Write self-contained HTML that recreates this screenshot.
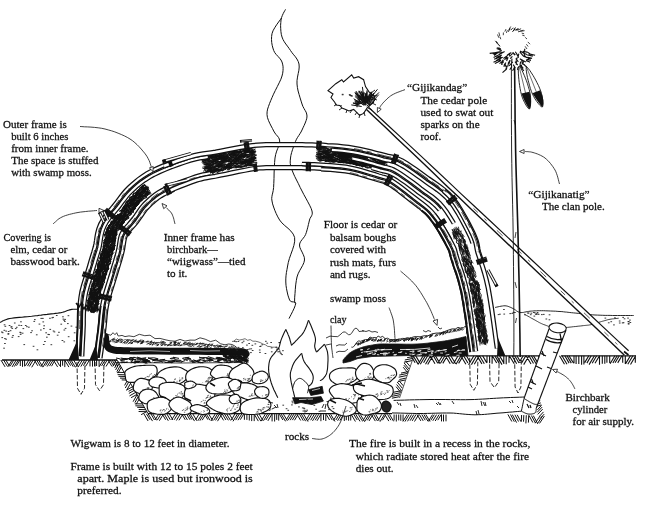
<!DOCTYPE html>
<html><head><meta charset="utf-8"><title>Wigwam</title>
<style>
html,body{margin:0;padding:0;background:#fff;}
body{width:662px;height:505px;overflow:hidden;}
svg{display:block;filter:grayscale(1);}
text{font-family:"Liberation Serif",serif;font-size:11px;fill:#111;stroke:#111;stroke-width:0.28px;}
</style></head><body>
<svg width="662" height="505" viewBox="0 0 662 505">
<rect width="662" height="505" fill="#fff"/>
<path d="M0 322.4L0.7 322.1L1.5 321.7L2.5 321.1L3.7 320.6L5 320L6.4 319.4L8 318.9L9.8 318.5L11.8 318.2L14.1 317.9L16.6 317.6L19.3 317.4L22 317.2L24.6 316.9L27.2 316.7L29.5 316.5L31.6 316.3L33.7 316L35.6 315.8L37.5 315.6L39.3 315.3L41.2 315.1L43.1 314.8L45 314.6L47 314.4L49.1 314.1L51.2 313.9L53.4 313.7L55.4 313.4L57.4 313.2L59.3 312.9L61 312.6L62.5 312.3L63.9 311.9L65.2 311.4L66.3 311L67.4 310.6L68.5 310.2L69.6 309.9L70.7 309.6L71.9 309.4L73.1 309.3L74.3 309.2L75.5 309.2L76.6 309.2L77.5 309.2L78.4 309.2L79 309.2" fill="none" stroke="#111" stroke-width="1.1" />
<path d="M25.3 325.5h0.9M5.7 339.2h0.9M4.5 338.6h0.9M33.8 321.4h0.9M33.1 346.3h0.9M3.6 348.2h0.9M11.3 326.8h0.9M63.7 320.3h0.9M49.8 329.4h0.9M4.9 326.3h0.9M53.1 331h0.9M45.7 332.8h0.9M62 340.5h0.9M11.9 337.3h0.9M46.4 337.2h0.9M51.8 317.8h0.9M22.2 333.2h0.9M1.8 337.6h0.9M9.1 325.5h0.9M10.1 330.7h0.9M68 315.7h0.9M67.4 323.6h0.9M11.8 328.4h0.9M18.2 336.6h0.9M20.5 321.8h0.9M52.7 317.4h0.9M30.6 332.6h0.9M49.5 318.3h0.9M16.3 327.3h0.9M4.1 324.8h0.9M7.9 334.2h0.9M68.2 336.7h0.9M19.7 332.3h0.9M36.3 334.8h0.9M8 333.6h0.9M64.7 319.4h0.9M74.2 332.8h0.9M42.4 318.4h0.9M20.4 332.8h0.9M63.8 341.9h0.9M40.4 330h0.9M2.2 332.7h0.9M28.4 327.2h0.9M15.3 328.6h0.9M50.9 344.7h0.9M58.5 332.3h0.9M75.8 327.2h0.9M73.9 340.8h0.9M62.9 319.1h0.9M76.5 337.9h0.9M42.8 321.9h0.9M64.4 321.4h0.9M22.9 328.6h0.9M20.2 334.4h0.9M71 326.1h0.9M40.8 318.4h0.9M14.3 323h0.9M43.4 328.6h0.9M43.3 344.5h0.9M43.7 325.8h0.9M47.8 334.4h0.9M54 331.9h0.9M10.7 327h0.9M5.7 331.1h0.9M12.6 335.6h0.9M26.5 326.7h0.9M56.3 315.5h0.9M34.4 319.6h0.9M48.7 334.6h0.9M8.2 331.5h0.9M60.8 324.2h0.9M44.5 341.5h0.9M4.5 343.5h0.9M62.5 316.8h0.9M20.9 325.5h0.9M18.6 325.3h0.9M3.9 330.3h0.9M23.8 344.6h0.9M39 324.1h0.9M1.4 332h0.9M57.2 335.2h0.9M37 349.8h0.9M63.9 330h0.9M65.1 328.4h0.9M31.6 330.8h0.9" fill="none" stroke="#222" stroke-width="0.9" stroke-linecap="round"/>
<path d="M495 307.5L495.8 307.3L496.8 307.1L498.1 306.8L499.5 306.5L501 306.2L502.4 306L503.8 305.8L505 305.8L506.1 305.9L507.2 306.1L508.2 306.4L509.2 306.8L510.2 307.2L511.1 307.6L512.1 308.1L513 308.5L513.9 309L514.8 309.5L515.6 310.1L516.4 310.8L517.2 311.3L518.1 311.8L519 312.2L520 312.5L521.1 312.6L522.3 312.5L523.5 312.4L524.7 312.1L526 311.9L527.3 311.6L528.7 311.4L530 311.2L531.3 311.1L532.6 311L533.9 310.9L535.2 310.8L536.6 310.8L538.1 310.7L539.7 310.7L541.5 310.7L543.5 310.7L545.7 310.8L548.1 310.9L550.6 311L553.1 311.1L555.6 311.2L557.9 311.4L560 311.5L561.9 311.6L563.6 311.8L565.1 312L566.6 312.1L568.1 312.3L569.8 312.5L571.6 312.7L573.6 312.9L575.9 313.1L578.4 313.4L581.1 313.7L583.9 314L586.7 314.3L589.6 314.6L592.3 314.8L595 315L597.6 315.1L600.1 315.2L602.7 315.3L605.2 315.4L607.7 315.4L610.1 315.4L612.6 315.5L615 315.5L617.5 315.5L620.2 315.5L622.9 315.5L625.6 315.5L628.1 315.5L630.4 315.5L632.3 315.5L633.7 315.5" fill="none" stroke="#111" stroke-width="0.9" />
<path d="M524 314L524.7 314.4L525.6 314.9L526.7 315.5L528 316.2L529.3 316.9L530.6 317.7L531.8 318.4L533 319L534.1 319.6L535.2 320.2L536.2 320.8L537.3 321.4L538.3 322L539.4 322.6L540.4 323.1L541.5 323.6L542.6 324.1L543.8 324.6L545.1 325L546.3 325.5L547.4 325.9L548.5 326.3L549.3 326.6L550 326.8" fill="none" stroke="#111" stroke-width="0.8" />
<path d="M566 327.5L567.3 327.4L569 327.2L571.1 327L573.4 326.7L575.8 326.5L578.1 326.2L580.2 326L582 325.8L583.4 325.6L584.7 325.5L585.7 325.4L586.7 325.3L587.7 325.2L588.6 325.1L589.7 324.9L590.8 324.7L592.1 324.4L593.4 324L594.8 323.6L596.2 323.2L597.6 322.7L598.9 322.3L600.3 321.9L601.5 321.5L602.7 321.2L603.8 320.9L604.8 320.6L605.9 320.3L606.9 320L607.9 319.7L608.9 319.5L610 319.3L611.1 319.1L612.4 318.9L613.6 318.8L614.9 318.6L616.1 318.5L617.1 318.4L618 318.3L618.7 318.2" fill="none" stroke="#111" stroke-width="0.8" />
<path d="M527.4 313h0.9M543.3 314.4h0.9M528.2 313.1h0.9M545.9 319h0.9M541.4 314.6h0.9M530.3 314.7h0.9M535.9 313.7h0.9M535.6 314.5h0.9M549 319.8h0.9M538.2 314.3h0.9M549.1 314.8h0.9M533.3 312.5h0.9M533.9 316.1h0.9M537.1 314h0.9M537.1 312.5h0.9M530.9 313.2h0.9M534.4 312.8h0.9M524.6 314.8h0.9" fill="none" stroke="#222" stroke-width="0.9" stroke-linecap="round"/>
<path d="M610.8 321.7h0.9M619.3 323h0.9M623.1 322.7h0.9M629.5 320.1h0.9M613.5 324.9h0.9M608.3 322.8h0.9M622.7 317.4h0.9M628.2 324.1h0.9M622.2 322.9h0.9M627.6 318.1h0.9M619.2 321h0.9M628.2 323.4h0.9M628 321.7h0.9M629.9 322.5h0.9M624.1 318.8h0.9M604.9 318.1h0.9M614.5 317.8h0.9M628.2 321.5h0.9" fill="none" stroke="#222" stroke-width="0.9" stroke-linecap="round"/>
<path d="M511.8 313.4h0.9M513 312.4h0.9M498.1 314.6h0.9M514.5 312.5h0.9M509.8 313.6h0.9M499.5 314.2h0.9M503.5 309.5h0.9M503.8 314.1h0.9" fill="none" stroke="#222" stroke-width="0.9" stroke-linecap="round"/>
<path d="M2 360L117 360" fill="none" stroke="#111" stroke-width="1.3" />
<path d="M0.9 360L5.1 366.9M3.6 360L7.5 366.5M5.8 360L9.7 366.4M12.1 360L8.1 366.7M13.8 360L10.3 365.9M16.2 360L12.1 366.9M18.3 360L14.3 366.6M19.9 360L16.5 365.7M20.3 360L20.3 366M22.5 360L22.5 366.8M24.6 360L24.6 366.4M28.8 360L25.4 365.8M31.1 360L27.5 366.1M33.2 360L29.3 366.5M36.1 360L31.7 367.3M34.3 360L37.8 365.8M36.6 360L40.3 366.1M38.6 360L42.6 366.7M45 360L40.9 366.8M47.2 360L42.9 367.2M48.9 360L45.6 365.6M51.1 360L47.2 366.5M53.2 360L49.5 366.1M55.2 360L51.5 366.2M53.4 360L57.6 366.9M56.3 360L59.7 365.8M60.5 360L60.5 366.9M62.6 360L62.6 365.7M64.8 360L64.8 367.1M64.6 360L68.9 367.1M67.1 360L70.6 365.7M69.2 360L73.2 366.7M71 360L75.4 367.3M73.6 360L77.3 366.2M80 360L75.8 367M82.4 360L78 367.2M84.7 360L80.8 366.6M86.9 360L83.4 365.7M89.5 360L85.6 366.4M90 360L90 366.4M92.5 360L92.5 366.6M94.5 360L94.5 366.3M96.6 360L96.6 366M99.1 360L99.1 366.7M103.2 360L99.3 366.6M105.2 360L101.6 365.9M107.2 360L103.6 366M109.9 360L106 366.5M108.1 360L111.9 366.4M110.2 360L113.8 365.9M112.1 360L115.9 366.2M114.2 360L117.8 366" fill="none" stroke="#111" stroke-width="1"/>
<path d="M117 360L148 413.6" fill="none" stroke="#111" stroke-width="1" />
<path d="M116.9 359.1L112.8 366.4M118.3 361.5L114.6 367.9M119.3 363.3L115.6 369.9M120.4 365.3L116.9 371.6M121.4 367L117.9 373.2M124.5 372.5L116.9 372.3M125.8 374.8L117.6 374.6M126.8 376.5L118.5 376.3M127.8 378.3L120 378.1M128.8 380.1L121.7 379.9M128.2 379L124.6 385.4M129.3 380.9L125.3 388M130.6 383.3L126.9 389.8M132.6 386.7L126.2 390.3M133.6 388.5L128.6 391.3M134.6 390.2L128.9 393.4M135.8 392.3L129.5 395.9M136.9 394.4L131.1 397.7M137.1 394.7L133.1 401.7M138.2 396.6L134.9 402.6M139.4 398.7L136.1 404.4M142.4 403.9L134.8 403.8M143.5 406L135.4 405.8M144.4 407.5L137.2 407.3M145.6 409.7L138.7 409.5M146.8 411.7L138.6 411.5M146.7 411.6L141.1 414.7" fill="none" stroke="#111" stroke-width="1"/>
<path d="M148 413.6L392 413.6" fill="none" stroke="#111" stroke-width="1.2" />
<path d="M143.9 413.8L148.1 421M146.4 413.8L150 419.8M148.1 413.8L152.5 421.1M150.9 413.8L154.5 420M152.7 413.8L156.6 420.3M158.8 413.8L155.2 419.8M161.1 413.8L157.3 420.1M163.5 413.8L159.4 420.7M162.1 413.8L165.6 419.8M164.2 413.8L168.3 420.8M166.8 413.9L170.3 419.8M169.3 413.9L172.9 420M175.4 413.9L171.7 419.9M177.8 413.9L174.3 419.7M180.4 413.9L176.4 420.5M182.9 413.9L179 420.3M181.7 413.9L185.2 419.8M183.9 413.9L187.4 419.9M186.5 413.9L190 419.8M188.4 413.9L191.9 419.6M190.2 413.9L194.5 421.1M192.8 413.9L196.9 420.8M199.2 413.9L195.6 419.9M202 413.9L197.9 420.8M203.9 414L199.9 420.7M206 414L202.2 420.2M204.5 414L207.9 419.7M206.3 414L210.1 420.3M208.7 414L212.7 420.6M215.2 414L211 421M217.5 414L213.7 420.3M219.5 414L215.6 420.4M221.9 414L217.5 421.2M219.8 414L223.6 420.4M222.3 414L225.9 420M224.5 414L228.3 420.3M226.7 414L230.5 420.4M229.3 414L232.7 419.7M234.9 414L231.2 420.2M237.4 414L233 421.3M239.3 414L235.7 420.1M241.7 414.1L238 420.2M243.7 414.1L240.3 419.7M244.4 414.1L244.4 419.8M246.9 414.1L246.9 419.9M249.3 414.1L249.3 420.5M251.7 414.1L251.7 421.1M254.2 414.1L254.2 421.1M254.2 414.1L258.3 421.1M256.6 414.1L260.8 421.1M259.1 414.1L263.1 420.8M265.3 414.1L261.1 421.1M267.5 414.1L263.6 420.6M269.5 414.1L265.9 420M271.9 414.1L267.9 420.9M272.1 414.1L272.1 421.4M274.7 414.1L274.6 421.5M276.7 414.1L276.7 419.9M278.7 414.2L278.7 420.6M279.4 414.2L282.9 420M281.2 414.2L285.5 421.3M283.4 414.2L287.4 420.7M289.7 414.2L286 420.3M291.8 414.2L288.1 420.2M293.8 414.2L290.2 420.2M296 414.2L292.4 420.1M298.1 414.2L294.5 420.3M296.9 414.2L300.7 420.5M299.5 414.2L303.3 420.7M301.4 414.2L305.6 421.2M303.6 414.2L308 421.6M309.6 414.2L306 420.2M311.9 414.2L308.1 420.5M314.3 414.2L310.7 420.2M316.5 414.3L312.5 420.9M318.7 414.3L315.2 420.2M320.9 414.3L317 420.8M321 414.3L320.9 421.2M323.5 414.3L323.5 420.1M325.8 414.3L325.8 421M326.2 414.3L329.6 420M328.8 414.3L332.2 420M330.7 414.3L335 421.5M337.2 414.3L333.4 420.5M339.4 414.3L335.9 420M341.5 414.3L337.6 420.8M343.7 414.3L339.9 420.6M344.3 414.3L344.3 421M346.3 414.3L346.3 420.2M348.6 414.3L348.6 420.7M350.8 414.3L350.7 420.5M351.2 414.3L355.4 421.5M353.8 414.4L357.2 420M355.8 414.4L360 421.4M358.4 414.4L362.1 420.7M360.3 414.4L364.6 421.6M366.8 414.4L362.5 421.4M369 414.4L364.7 421.5M370.8 414.4L367.3 420.3M373 414.4L369 421M371.3 414.4L375.3 421.1M373.6 414.4L377.4 420.9M375.7 414.4L379.3 420.5M381.7 414.4L377.8 420.9M384.4 414.4L380 421.7M386 414.4L382.5 420.2M384.8 414.4L388.8 421.1M387.5 414.4L390.9 420.2M389.5 414.4L393.6 421.3M394.1 414.5L394.1 420.4M396.3 414.5L396.3 421.5M398.7 414.5L398.7 420.4M400.8 414.5L400.8 420.8M403.1 414.5L403 420.8M407.2 414.5L402.9 421.5M409.2 414.5L404.9 421.6M411.6 414.5L407.5 421.3M413.8 414.5L410.1 420.7M416 414.5L412.2 420.9M418.7 414.5L414.5 421.5M417.1 414.5L420.8 420.9M419.4 414.5L423.2 420.9M421.8 414.5L425.2 420.2M423.9 414.5L427.8 421M425.8 414.5L430 421.5M432.5 414.6L428.2 421.6M434.3 414.6L430.8 420.3M436.6 414.6L432.8 420.8M439.1 414.6L435.2 421M441.2 414.6L437.8 420.2M441.5 414.6L441.5 421.4M443.5 414.6L443.5 421.5M446 414.6L446 421.3" fill="none" stroke="#111" stroke-width="1"/>
<path d="M412 355.8L539 355.8" fill="none" stroke="#111" stroke-width="1.2" />
<path d="M561 355.8L636 355.8" fill="none" stroke="#111" stroke-width="1.2" />
<path d="M410.9 355.8L415.1 362.7M413.1 355.8L418.1 364.1M415.7 355.8L419.9 362.9M423.2 355.8L418 364.5M425.4 355.8L420.3 364.3M427.7 355.8L423.6 362.7M430.6 355.8L425.5 364.2M432.9 355.8L427.7 364.5M430.3 355.8L435 363.7M433.3 355.8L437.6 363M435.4 355.8L440.1 363.7M442.4 355.8L437.8 363.5M444.9 355.8L440.5 363.2M447.4 355.8L442.8 363.4M445.4 355.8L450.2 363.7M448.1 355.8L452.7 363.4M450.8 355.8L455.6 363.8M458.1 355.8L453.4 363.7M461 355.8L456 364.2M463.2 355.8L458.6 363.4M460.8 355.8L465.9 364.2M463.6 355.8L467.9 363M466.4 355.8L470.5 362.7M473.9 355.8L468.5 364.7M476.6 355.8L471.4 364.6M479.3 355.8L474.3 364.2M477 355.8L481.9 363.9M479.5 355.8L484.3 363.7M482.6 355.8L486.8 362.9M487 355.8L487 362.7M489.6 355.8L489.6 363.2M492.1 355.8L492.1 363.7M492.3 355.8L496.7 363M494.8 355.8L499.4 363.6M496.7 355.8L502 364.6M499.5 355.8L503.8 362.9M503.8 355.8L503.8 364M506.2 355.8L506.2 364.3M509 355.8L509 362.7M509.3 355.8L514.2 363.8M512 355.8L516.7 363.7M514.7 355.8L519 363M516.9 355.8L521 362.7M523.2 355.8L519 362.7M525.8 355.8L521.8 362.6M529 355.8L523.7 364.6M526.1 355.8L531 364M528.9 355.8L533.5 363.5M531.4 355.8L536.1 363.7M533.5 355.8L538.4 363.9M538.8 355.8L538.8 364.1" fill="none" stroke="#111" stroke-width="1.1"/>
<path d="M559.5 355.8L564.5 364.2M562 355.8L567 364.2M564.8 355.8L569.1 363.1M567 355.8L571.3 363.1M569 355.8L573.6 363.3M574 355.8L574 363.2M576.1 355.8L576.1 364M578.8 355.8L578.8 364.1M581.6 355.8L581.6 364.7M583.9 355.8L583.9 364.6M588.8 355.8L584.7 362.6M591.2 355.8L586.9 363.1M594.4 355.8L589.1 364.6M596.7 355.8L592.2 363.3M599.5 355.8L595 363.3M599.5 355.8L599.5 364.7M602.3 355.8L602.3 363.7M604.8 355.8L604.8 363.7M606.9 355.8L606.9 362.7M609.7 355.8L609.7 363.1M614.9 355.8L610.1 363.8M617.2 355.8L612.9 363M619.3 355.8L615.1 362.8M621.9 355.8L617.7 362.9M622.7 355.8L622.7 362.7M625.3 355.8L625.3 363.9M630.4 355.8L625.5 363.9M632.9 355.8L627.8 364.3M635.7 355.8L630.5 364.5M635.3 355.8L635.3 362.8" fill="none" stroke="#111" stroke-width="1.1"/>
<path d="M413.6 356.4L407.1 357.7M412.9 358.4L404.8 360M412.1 360.6L404 362.2M410 366.4L405.7 361.2M409.1 369L404.1 362.9M408.5 370.8L403.9 365.2M407.8 372.8L403.2 367.2M408.2 371.6L401 373.1M407.6 373.4L399.2 375.1M406.8 375.5L398.7 377.2M405.9 378.1L399.4 379.5M405.2 380L397.9 381.5M403.2 385.7L399 380.6M402.3 388.2L397.2 382M401.5 390.5L396.6 384.5M400.8 392.4L396.1 386.7M401.5 390.7L393.1 392.3M400.7 392.7L393.3 394.2M400 394.7L392 396.3M399.3 396.7L391.9 398.2" fill="none" stroke="#111" stroke-width="1"/>
<path d="M413.5 357L399.5 398" fill="none" stroke="#111" stroke-width="0.7" />
<path d="M393.6 400.4L396.4 400.3L400.1 400.2L404.4 400.1L409.3 399.9L414.5 399.8L419.8 399.7L425 399.6L430 399.5L434.9 399.5L440 399.5L445.2 399.5L450.4 399.6L455.6 399.6L460.6 399.7L465.5 399.7L470 399.6L474.3 399.5L478.3 399.3L482.2 399.1L486 398.9L489.6 398.6L493.2 398.4L496.6 398.2L500 398L503.5 397.8L507 397.7L510.5 397.5L513.9 397.4L517 397.3L519.8 397.2L522.2 397.1L524 397" fill="none" stroke="#111" stroke-width="1" />
<path d="M392 412.9L394.1 413L397 413L400.4 413.1L404.1 413.2L408.1 413.3L412.2 413.4L416.2 413.5L420 413.5L423.7 413.5L427.5 413.4L431.3 413.3L435.2 413.2L439 413.1L442.8 413L446.5 413L450 413L453.4 413.1L456.6 413.4L459.7 413.7L462.8 414L465.8 414.3L468.9 414.5L471.9 414.7L475 414.8L478.1 414.7L481.3 414.6L484.5 414.4L487.7 414.1L490.9 413.8L494 413.5L497 413.2L500 413L503 412.8L506.1 412.5L509.2 412.2L512.3 412L515.1 411.7L517.6 411.5L519.8 411.3L521.4 411.2" fill="none" stroke="#111" stroke-width="1" />
<path d="M507.9 414.4L511.8 421.5M510.5 414.5L514.3 421.7M512.3 414.6L516.6 422.6M514.9 414.7L518.5 421.5M517.2 414.8L520.9 421.6M521.6 415L521.3 421.6M523.8 415.1L523.5 421.7M526.3 415.2L525.9 423.4M528.7 415.4L528.4 422.6M529 415.4L532.8 422.5M531.4 415.5L535.5 423.1M533.3 415.6L537.8 423.9M540.1 415.9L535.2 423.2M542.5 416L537.6 423.4M544.4 416.1L539.5 423.4" fill="none" stroke="#111" stroke-width="1"/>
<path d="M536.5 388.4L532.2 393.1M537.2 390.7L533 395.2M537.8 392.6L533.2 397.7M538.4 394.8L534.4 399.3M539 396.7L534.4 401.7M540.2 400.7L535.1 402.2M540.8 402.9L535 404.7M541.4 404.9L536.6 406.3M541.5 405.3L537.4 409.9M542.1 407.1L537.1 412.4M542.7 409.1L537.7 414.4M543.5 411.9L539.5 416.2M544.2 414.1L540.1 418.5" fill="none" stroke="#111" stroke-width="1"/>
<path d="M397 402l2 3M400 403l1 3M414 404l1 4M416 405l2 3M436 403l2 2M438 402l2 3M440 403l1 2M452 401l2 3M481 401l1 5M483 402l2 4M485 402l1 4M476 411l1 4M478 410l1 4M509 401l2 2M512 400l1 3M517 406l2 2" stroke="#111" stroke-width="0.9" fill="none"/>
<path d="M157.2 370.9L157.1 372L156.9 373.1L156.5 374.2L155.8 375.3L155 376.3L153.9 377.3L152.5 378.3L150.9 379.2L149.2 380L147.5 380.7L145.7 381.2L143.8 381.6L141.8 381.8L139.8 382L137.8 382.1L135.7 382.3L133.4 382.4L131.1 382.4L129.1 382.2L127.6 381.8L126.6 381.1L126 380.1L125.6 378.9L125.5 377.7L125.3 376.5L125.1 375.4L124.9 374.2L124.8 373L125 371.8L125.7 370.8L126.9 369.8L128.6 368.8L130.6 367.8L132.7 367L134.6 366.4L136.5 366L138.5 365.7L140.5 365.6L142.5 365.5L144.5 365.4L146.6 365.3L148.9 365.2L151.1 365.2L153.1 365.3L154.7 365.7L155.7 366.4L156.4 367.4L156.9 368.5L157.1 369.7Z" fill="#fff" stroke="#111" stroke-width="1.15"/>
<path d="M147.8 377l1.8 -0.5M150.4 374.3l1.5 -0.8M152.7 376.7l1.4 -0.2M147.4 379.6l1.4 -0.1M143 379.7l1.3 -0.5M149.1 375.3l1.1 -0.5M146.6 380l0.9 -0.4M144.6 377.9l1.6 -0.3M154 374.6l1.2 -0.1M143.3 380.5l1 -0.8M144.1 380.4l0.7 -0.5M152.2 376.3l1.7 -0.6M151.7 377.6l1.1 -0.6M146.6 376.7l1.6 -0.4" fill="none" stroke="#333" stroke-width="0.7"/>
<path d="M189.8 374.1L189.6 375.1L189.1 376.1L188.3 377.2L187.4 378.2L186.3 379.2L185.2 380.2L184 381.2L182.6 382.2L181.1 383L179.5 383.6L177.7 383.8L175.7 383.8L173.7 383.6L171.6 383.3L169.7 383.1L167.9 382.8L166.1 382.5L164.5 382.2L162.9 381.8L161.5 381.2L160.2 380.5L159 379.7L158 378.7L157.2 377.7L156.8 376.7L156.9 375.7L157.4 374.6L158.1 373.4L159.1 372.3L160.2 371.4L161.4 370.5L162.9 369.7L164.6 368.9L166.3 368.3L168.1 367.8L170 367.4L172 367.1L174.1 366.9L176 366.9L177.9 367L179.5 367.3L181 367.8L182.5 368.5L183.8 369.2L185.1 369.9L186.3 370.6L187.5 371.4L188.6 372.3L189.4 373.2Z" fill="#fff" stroke="#111" stroke-width="1.15"/>
<path d="M179.4 377.9l0.7 0.2M179 380.4l1.3 -0.7M181.5 378l1.7 0.3M173.3 382l1.2 -0.6M174.2 379.4l1.6 -0.6M179 380.6l1.6 -0.6M178.9 380.9l1.6 -0.3M173.3 381.4l1.4 0.1M181.5 379.8l0.9 -0M178.9 381.4l1.4 -0.3M176.6 381.3l1 -0.1M181.8 378.3l1.3 -0.7M174.6 379.6l1 -0.4" fill="none" stroke="#333" stroke-width="0.7"/>
<path d="M213.9 373.3L213.9 374.4L213.7 375.7L213.2 377L212.6 378.3L211.8 379.6L211.1 380.9L210.2 382.3L209.2 383.6L208.1 384.7L206.7 385.6L205.1 386.2L203.3 386.6L201.3 386.7L199.4 386.8L197.6 386.7L196 386.5L194.4 386.1L192.9 385.5L191.5 384.9L190.3 384.2L189.1 383.4L188.1 382.4L187.1 381.4L186.4 380.3L185.9 379.1L185.7 377.9L185.7 376.5L185.9 375.1L186.4 373.8L187.1 372.5L188.1 371.5L189.4 370.5L190.9 369.5L192.5 368.7L194 368.1L195.5 367.6L197.1 367.2L198.8 366.9L200.4 366.7L202 366.7L203.5 366.8L205.1 367L206.7 367.3L208.1 367.7L209.4 368.3L210.6 369.1L211.7 370L212.7 371L213.4 372.1Z" fill="#fff" stroke="#111" stroke-width="1.15"/>
<path d="M204.9 382l1.6 -0.6M207.3 381.5l0.9 -0.4M205.8 381.6l1.4 0.3M210.6 378.1l1.3 -0.1M207.6 379.6l0.9 -0.7M202 383.2l0.7 -0.7M207.8 381.3l1.2 -0.2M207.4 382.1l1.4 -0.5M208.8 378.5l1.5 -0.6M208.2 380.2l1.2 -0.5M205.9 380.7l1.8 -0.1M207.6 378.4l1.4 -0.8M209.9 377.4l1.8 0.1M208.5 377.7l1.5 -0.6" fill="none" stroke="#333" stroke-width="0.7"/>
<path d="M233.3 370.8L233.2 371.7L232.9 372.6L232.5 373.5L231.9 374.3L231.2 375.1L230.4 375.8L229.6 376.5L228.6 377.1L227.5 377.7L226.4 378.2L225.1 378.7L223.8 379.2L222.4 379.6L221 379.9L219.8 380L218.5 379.8L217.4 379.5L216.2 379L215.1 378.4L214.2 377.8L213.2 377.1L212.3 376.5L211.5 375.7L210.8 374.9L210.5 374.1L210.5 373.2L210.8 372.3L211.3 371.3L211.9 370.3L212.6 369.4L213.3 368.5L214.2 367.6L215.2 366.8L216.3 366L217.5 365.5L218.8 365.2L220.3 365.1L221.8 365.1L223.3 365.2L224.6 365.4L225.9 365.5L227.2 365.8L228.4 366.1L229.5 366.5L230.4 367L231.3 367.6L232 368.4L232.6 369.2L233.1 370Z" fill="#fff" stroke="#111" stroke-width="1.15"/>
<path d="M227.1 374l0.9 -0.4M226.6 375.5l1.8 0.2M227.2 374.6l1.2 -0.7M229.7 374.4l0.8 0.3M231.2 373.8l1.1 -0.2M228 375.6l1.1 -0.7M230.7 373.3l1.2 0M229.4 373.3l1.3 -0.4M229.8 374l1.4 0.2" fill="none" stroke="#333" stroke-width="0.7"/>
<path d="M253.5 371.3L253.8 372.4L254.1 373.6L254.2 374.9L254.1 376.1L253.8 377.2L253.1 378.3L252 379.4L250.8 380.5L249.5 381.4L248.2 382.1L246.8 382.5L245.2 382.8L243.6 382.9L242.1 382.9L240.5 382.8L239 382.8L237.4 382.7L235.9 382.5L234.4 382.1L233.2 381.6L232 380.9L231 379.9L230.1 378.8L229.4 377.7L229 376.5L229 375.3L229.3 374L229.8 372.7L230.5 371.4L231.3 370.3L232.2 369.4L233.3 368.5L234.5 367.7L235.7 366.9L237.1 366.2L238.4 365.4L239.9 364.5L241.5 363.8L243 363.2L244.4 363.1L245.7 363.4L247 364L248.2 364.9L249.3 365.9L250.2 366.8L251.1 367.6L251.9 368.5L252.5 369.4L253.1 370.3Z" fill="#fff" stroke="#111" stroke-width="1.15"/>
<path d="M243.3 378.5l1 -0M243.5 378.7l0.6 -0.8M247.2 378.9l1.7 -0.3M248.3 379.3l1.5 -0.3M245.5 379l0.7 -0.1M247.9 380.3l1.4 -0.6M244.9 379.7l0.7 -0.3M243.4 380.2l1.1 -0.8M246.9 380.7l1.6 -0.6M249.9 375.4l0.9 -0.2M248.8 378.6l1.7 -0.4M245.4 380.1l0.8 0" fill="none" stroke="#333" stroke-width="0.7"/>
<path d="M268.3 376.5L268.3 377.2L268.1 378L267.8 378.7L267.4 379.5L267 380.1L266.4 380.8L265.7 381.4L264.9 382L264 382.5L263.1 382.9L262.1 383.2L261 383.5L259.8 383.6L258.7 383.7L257.6 383.7L256.5 383.5L255.4 383.3L254.4 382.9L253.5 382.4L252.8 381.9L252.4 381.3L252.2 380.5L252.1 379.7L252.1 378.9L252.2 378.2L252.2 377.5L252.4 376.8L252.6 376.1L252.9 375.5L253.3 374.9L253.9 374.4L254.5 373.9L255.3 373.4L256.1 373L256.9 372.6L257.8 372.2L258.9 371.8L259.9 371.4L261 371.2L262 371.1L263 371.3L264 371.6L264.9 372L265.8 372.6L266.5 373.1L267.1 373.7L267.6 374.4L267.9 375.1L268.2 375.8Z" fill="#fff" stroke="#111" stroke-width="1.15"/>
<path d="M262.4 380.4l1 -0.1M260 381.9l1.3 -0.5M260.1 381.6l1.2 -0.6M259.9 380.3l1.7 -0.6M261.2 381l1.5 -0.3M265.2 379.5l1 -0.5" fill="none" stroke="#333" stroke-width="0.7"/>
<path d="M152.5 386.7L152.3 387.7L152.1 388.6L151.7 389.6L151.2 390.4L150.5 391.2L149.7 391.8L148.6 392.3L147.5 392.7L146.3 393.1L145.1 393.4L143.8 393.5L142.5 393.7L141.2 393.7L139.9 393.6L138.7 393.3L137.6 392.9L136.4 392.3L135.4 391.6L134.5 390.9L133.8 390.1L133.5 389.2L133.3 388.3L133.3 387.4L133.4 386.4L133.6 385.6L133.8 384.7L134 383.9L134.3 383.2L134.7 382.4L135.3 381.7L136 380.9L136.7 380.2L137.6 379.5L138.6 378.9L139.6 378.5L140.8 378.4L142 378.4L143.4 378.6L144.7 378.9L145.9 379.2L147.1 379.6L148.4 380.1L149.5 380.6L150.6 381.2L151.4 381.9L151.9 382.8L152.3 383.7L152.5 384.7L152.5 385.7Z" fill="#fff" stroke="#111" stroke-width="1.15"/>
<path d="M147.6 388.1l1.1 0M147.9 388.1l1.4 -0.4M146.8 387.9l1.7 0M144 390l0.8 0.2M142.3 389.8l1.8 0.1M146.8 390.4l1.2 -0.2M146.2 389.7l1.1 0.1M145.4 391.6l1 -0.7" fill="none" stroke="#333" stroke-width="0.7"/>
<path d="M166.2 381.9L166.2 382.7L166.1 383.5L165.9 384.3L165.5 385.1L165 385.8L164.3 386.3L163.4 386.9L162.4 387.3L161.4 387.7L160.4 387.9L159.4 388L158.3 388L157.3 387.9L156.3 387.7L155.3 387.5L154.4 387.4L153.4 387.1L152.5 386.9L151.6 386.5L150.9 386.1L150.3 385.6L149.8 385L149.3 384.3L149 383.5L148.9 382.8L148.9 382.1L149.1 381.4L149.4 380.6L149.8 379.9L150.3 379.3L151 378.7L151.8 378.2L152.7 377.8L153.6 377.4L154.6 377.1L155.5 377L156.5 376.9L157.5 377L158.5 377L159.5 377.2L160.5 377.4L161.4 377.6L162.3 377.9L163.2 378.2L163.9 378.7L164.6 379.2L165.1 379.8L165.6 380.5L166 381.2Z" fill="#fff" stroke="#111" stroke-width="1.15"/>
<path d="M160.4 384.9l1.6 -0.4M160.3 384.8l0.9 -0.7M158.6 385.6l1.3 -0.4M159.3 386.7l0.9 0.2M161.7 385.8l1 -0.3M162.1 383.1l0.6 -0.5" fill="none" stroke="#333" stroke-width="0.7"/>
<path d="M185.3 391.8L185.1 392.9L184.8 393.9L184.3 394.9L183.6 395.9L182.8 396.9L181.9 397.8L180.7 398.8L179.4 399.7L178.1 400.5L176.6 401L174.9 401.1L173 401L171.1 400.8L169.2 400.4L167.5 399.9L165.9 399.4L164.3 398.7L162.8 397.9L161.5 397L160.5 396.1L159.8 395.1L159.4 394L159.2 392.8L159.2 391.6L159.2 390.4L159.1 389.2L159.1 387.8L159.2 386.6L159.6 385.4L160.4 384.4L161.6 383.7L163.2 383.2L165 382.8L166.9 382.5L168.7 382.3L170.4 382.3L172 382.3L173.7 382.5L175.3 382.8L176.8 383.1L178.4 383.5L180 384.1L181.6 384.7L182.9 385.4L184 386.2L184.7 387.2L185.1 388.3L185.3 389.5L185.4 390.7Z" fill="#fff" stroke="#111" stroke-width="1.15"/>
<path d="M177.6 396.4l0.8 0.1M181.8 395.5l1.1 -0.8M180.6 391.9l1.4 -0.3M174.6 398.3l1.6 -0.1M173.3 397.8l0.7 -0.4M178.6 393.1l1.7 -0.2M182.4 393.7l1 -0.5M175.2 395.6l1.7 0.2M181.5 392.3l0.6 0.2M180.4 393.9l1.5 0M177.1 394.5l1 -0.8M181.8 393.8l1.3 -0.3M176.6 396.3l1 -0.4" fill="none" stroke="#333" stroke-width="0.7"/>
<path d="M214.9 394L214.8 395.3L214.5 396.6L214.1 397.9L213.4 399.2L212.6 400.4L211.6 401.6L210.3 402.7L208.9 403.8L207.3 404.8L205.6 405.5L203.8 406L201.7 406.4L199.6 406.6L197.4 406.6L195.4 406.4L193.5 406L191.6 405.3L189.8 404.5L188.1 403.6L186.9 402.6L185.9 401.4L185.3 400.1L184.9 398.7L184.7 397.3L184.6 395.9L184.5 394.4L184.5 393L184.7 391.5L185.2 390.1L186 388.9L187.1 387.7L188.7 386.6L190.5 385.6L192.3 384.9L194.2 384.3L196 384.1L197.9 384.2L199.9 384.4L201.8 384.7L203.7 385.1L205.7 385.4L207.7 385.6L209.7 386L211.4 386.5L212.8 387.3L213.7 388.3L214.4 389.6L214.7 391.1L214.9 392.6Z" fill="#fff" stroke="#111" stroke-width="1.15"/>
<path d="M210.2 396.5l1 0M203.6 403.2l1.7 -0.4M207.3 395.6l1.8 -0.4M206.9 397.3l1 -0.4M202.8 400.2l1.1 0.2M205.6 398.7l1.1 -0.5M210 395.9l1 0.1M206.7 397.4l1.1 -0.3M209.3 397.2l1.4 0.1M200.7 402l1.6 -0.7M204 403.1l1.1 -0.5M207.4 397.5l1.1 -0.3M210.9 397.7l1.8 -0.6M204.6 400.7l1.2 -0.2M208.2 400.5l1.7 -0.5M205.8 398l1.1 -0.5" fill="none" stroke="#333" stroke-width="0.7"/>
<path d="M238.6 383.5L238.6 384.5L238.2 385.6L237.5 386.8L236.5 387.9L235.5 388.9L234.3 389.8L232.8 390.7L231.2 391.4L229.6 392.1L227.9 392.7L226.2 393.1L224.5 393.5L222.7 393.8L220.8 393.9L219.1 394L217.3 394L215.4 393.9L213.6 393.8L211.9 393.5L210.5 393L209.2 392.4L208.1 391.6L207.1 390.7L206.4 389.7L206 388.7L205.9 387.7L206.1 386.5L206.6 385.3L207.3 384.1L208.2 383.1L209.3 382.1L210.8 381.1L212.5 380.3L214.3 379.5L216.1 378.8L218 378.2L220 377.7L222.1 377.4L224.1 377.2L226 377.2L227.6 377.4L229.1 377.9L230.5 378.5L231.8 379.1L233.1 379.8L234.4 380.4L235.8 381.1L237.1 381.8L238.1 382.6Z" fill="#fff" stroke="#111" stroke-width="1.15"/>
<path d="M232.6 387.8l1.4 -0.6M228.3 388.1l1.4 -0.2M224.8 392.4l1.2 -0.4M231.5 388.9l1.7 -0.7M230.8 390l0.8 -0.1M231.4 388.6l1.8 -0.8M226.5 391.1l1.6 -0.4M223.2 392.7l0.7 -0.4M232.7 388.9l1.7 0.1M224 391.5l1.7 -0.5M233 387.6l1.1 -0.8M224.3 390.1l0.9 -0.7M226.4 389.8l1 -0.2" fill="none" stroke="#333" stroke-width="0.7"/>
<path d="M260.2 394.1L260.1 395.2L260.1 396.3L259.9 397.4L259.5 398.4L258.7 399.1L257.4 399.7L255.7 400L253.9 400.2L251.9 400.3L250.1 400.2L248.3 399.9L246.6 399.4L244.8 398.8L243.1 398.1L241.4 397.4L239.7 396.7L238 395.9L236.3 395.1L234.9 394.2L233.8 393.3L233.1 392.2L232.6 391.1L232.4 389.9L232.4 388.7L232.6 387.7L233.1 386.8L233.8 385.9L234.7 385L235.7 384.3L236.9 383.8L238.3 383.4L239.8 383.1L241.4 382.9L243.1 382.9L244.8 382.9L246.5 383L248.3 383.3L250.1 383.6L251.8 384L253.4 384.6L254.9 385.3L256.3 386.2L257.6 387.1L258.7 388.1L259.6 389.1L260.1 390.1L260.3 391.1L260.3 392.1L260.3 393.1Z" fill="#fff" stroke="#111" stroke-width="1.15"/>
<path d="M254.7 392.1l0.9 -0.3M253.3 396.1l0.7 -0.7M248.7 396.4l0.9 -0.6M251.4 395.7l1.1 0.2M257.3 391.8l1.4 -0.1M251 394.4l1.8 -0.7M254.4 394.1l1.6 -0M249.3 396.4l1.8 -0.4M254.7 394.6l1 -0.6M251 395.4l1.6 -0.1M254.5 391.6l0.8 -0.4M256.7 393.3l0.9 -0.3" fill="none" stroke="#333" stroke-width="0.7"/>
<path d="M196.1 384.6L196 385L195.8 385.5L195.4 385.9L195 386.4L194.5 386.7L194 387L193.5 387.3L192.9 387.5L192.3 387.7L191.6 387.9L191 388.1L190.3 388.3L189.6 388.5L188.9 388.7L188.2 388.7L187.5 388.6L186.8 388.4L186.1 388.1L185.5 387.8L185 387.4L184.8 387L184.7 386.6L184.7 386.1L184.8 385.6L184.8 385.2L184.8 384.7L184.7 384.2L184.6 383.8L184.7 383.3L184.9 382.9L185.3 382.6L185.9 382.3L186.5 382L187.2 381.8L187.9 381.6L188.6 381.4L189.4 381.2L190.2 381.1L190.9 381.1L191.6 381.2L192.2 381.3L192.9 381.6L193.4 381.9L194 382.2L194.5 382.5L194.9 382.9L195.4 383.3L195.7 383.7L196 384.2Z" fill="#fff" stroke="#111" stroke-width="1.15"/>
<path d="M192 387.2l0.6 -0.7M192.4 385.4l0.9 -0.8M193.1 385.4l0.8 -0.7" fill="none" stroke="#333" stroke-width="0.7"/>
<path d="M159.1 399.5L158.8 400.4L158.3 401.4L157.7 402.3L156.9 403L156 403.6L155 403.9L153.8 404L152.5 404L151.2 404L150 403.9L148.8 403.9L147.5 403.9L146.4 403.8L145.2 403.6L144.1 403.3L143 402.8L141.8 402.1L140.8 401.3L139.9 400.5L139.2 399.7L138.9 398.8L138.8 397.8L138.8 396.8L139 395.8L139.3 394.9L139.6 394L140 393.2L140.6 392.4L141.2 391.7L141.9 391.1L142.8 390.5L143.8 390L144.9 389.6L146 389.2L147.2 389.1L148.5 389.1L149.8 389.3L151.2 389.6L152.5 390L153.6 390.5L154.6 391.2L155.5 392L156.3 392.8L156.9 393.8L157.5 394.7L158.1 395.6L158.5 396.6L158.9 397.6L159.1 398.6Z" fill="#fff" stroke="#111" stroke-width="1.15"/>
<path d="M154.9 399.7l1.5 -0.5M153.6 400.7l0.9 -0.4M152.2 400.5l1.7 -0.5M153.7 401.1l0.6 -0.4M154.6 398.9l1.8 -0.4M149.1 400.9l1.7 -0.4M153.2 399.3l1.7 -0.6M153.2 397.7l1.3 -0.1" fill="none" stroke="#333" stroke-width="0.7"/>
<path d="M172.9 405.1L172.8 406.1L172.5 407.1L172 408.2L171.3 409.2L170.5 410.2L169.6 411.1L168.5 412L167.3 412.9L166 413.6L164.7 414.1L163.2 414.4L161.6 414.4L159.9 414.4L158.3 414.2L156.7 414L155.1 413.7L153.6 413.4L152 413.1L150.7 412.6L149.6 412L148.7 411.2L148.1 410.3L147.7 409.2L147.4 408.1L147.3 407.1L147.2 406L147.2 404.8L147.3 403.7L147.7 402.6L148.3 401.6L149.3 400.8L150.6 400.1L152.1 399.4L153.7 398.8L155.3 398.3L156.9 397.9L158.6 397.5L160.3 397.3L162 397.2L163.5 397.3L164.9 397.6L166.2 398.2L167.4 399L168.5 399.8L169.5 400.6L170.5 401.4L171.4 402.3L172.1 403.2L172.6 404.2Z" fill="#fff" stroke="#111" stroke-width="1.15"/>
<path d="M162.8 409.8l0.8 -0.1M168.2 409.2l0.7 0.1M160.8 412.8l0.9 -0.1M164.4 411.2l1.1 -0.7M166.1 409.6l0.7 -0.4M159.8 410.3l1.6 -0.5M163.1 409.6l1.6 -0M166.3 408.5l1 -0.2M164.7 410.9l0.6 0M159.8 411l1 -0.2M161.9 411l1.1 -0.5" fill="none" stroke="#333" stroke-width="0.7"/>
<path d="M191.8 407.8L191.8 408.9L191.6 410L191.3 411.1L190.8 412.1L190.1 412.9L189.1 413.5L187.8 414L186.3 414.3L184.8 414.5L183.3 414.6L182 414.5L180.6 414.2L179.2 413.9L177.9 413.4L176.7 412.9L175.5 412.3L174.4 411.7L173.4 410.9L172.5 410.1L171.7 409.3L170.9 408.4L170.1 407.3L169.5 406.2L169 405.2L168.9 404.1L169.1 403.1L169.6 402.1L170.4 401.1L171.3 400.2L172.2 399.4L173.3 398.7L174.6 398L176 397.5L177.4 397.2L178.7 397L180.1 397.2L181.4 397.7L182.8 398.3L184.1 399L185.3 399.6L186.5 400.2L187.6 400.8L188.7 401.5L189.6 402.2L190.4 402.9L191 403.8L191.4 404.8L191.7 405.8L191.8 406.8Z" fill="#fff" stroke="#111" stroke-width="1.15"/>
<path d="M181.9 410.7l1.2 -0.5M184.7 410.4l1.6 -0M186.3 409.6l0.6 -0.1M184.8 408.8l0.7 -0.5M186.5 409.5l1.4 0.2M186.7 407.5l1.1 -0.4M183.9 412.2l1.3 -0M183 409.9l1 -0.4M187.4 407.1l0.8 -0.1M186.7 408.6l1.7 -0.2" fill="none" stroke="#333" stroke-width="0.7"/>
<path d="M209.7 411.8L209.5 412.2L209 412.7L208.5 413.1L207.8 413.5L207.1 413.8L206.2 414L205.2 414.3L204.2 414.4L203.1 414.5L202 414.4L200.9 414.2L199.7 413.9L198.5 413.4L197.4 413L196.2 412.5L195.1 412.1L193.8 411.6L192.7 411.1L191.7 410.6L190.9 410.1L190.5 409.5L190.3 408.9L190.2 408.3L190.3 407.7L190.5 407.2L190.9 406.7L191.4 406.3L192 406L192.7 405.7L193.4 405.5L194.2 405.2L195 404.9L195.9 404.7L196.9 404.6L197.9 404.6L199 404.8L200.1 405.1L201.3 405.5L202.4 405.9L203.5 406.3L204.6 406.8L205.7 407.2L206.7 407.7L207.6 408.2L208.3 408.8L208.9 409.3L209.3 410L209.6 410.6L209.7 411.2Z" fill="#fff" stroke="#111" stroke-width="1.15"/>
<path d="M203.4 412.1l1.4 -0.8M206.9 409.7l1.3 0.2M203.6 410.8l0.6 -0.8M206.6 410.5l1.3 0.2M200.7 412.2l0.8 -0.6" fill="none" stroke="#333" stroke-width="0.7"/>
<path d="M240.5 405.2L240.3 406.4L240.1 407.6L239.7 408.8L239.1 409.8L238.2 410.8L236.9 411.6L235.3 412.4L233.4 413.1L231.5 413.6L229.6 413.8L227.6 413.9L225.6 413.7L223.5 413.4L221.5 412.9L219.7 412.4L218 411.9L216.4 411.3L214.9 410.6L213.4 409.8L212.1 408.9L210.6 408L209.1 406.9L207.8 405.7L206.8 404.6L206.4 403.5L206.6 402.3L207.5 401.2L208.7 400L210 399L211.5 398.1L212.9 397.2L214.6 396.5L216.3 395.9L218.2 395.4L220.1 395L222.1 394.9L224.1 394.9L226.3 395L228.4 395.3L230.4 395.6L232.4 396.1L234.6 396.7L236.6 397.4L238.3 398.2L239.6 399.1L240.4 400.2L240.7 401.4L240.7 402.7L240.6 404Z" fill="#fff" stroke="#111" stroke-width="1.15"/>
<path d="M230.5 410.4l1.3 -0.6M233.3 406.8l0.6 -0.1M227.2 412l0.7 -0.6M228.8 408.3l0.9 -0.4M227.4 408.7l0.7 -0.5M232.7 406.5l1.3 -0.6M237.7 405.2l1.1 -0.3M236.4 407.8l1.8 -0.7M230 410.5l1.3 -0.3M234 408.8l0.6 0.2M233.4 405.5l1.1 -0.8M226.3 410.1l1 -0.4M226.4 409.9l1.4 0.3M234.7 409.5l1.3 -0.4M231.7 408.4l1.1 -0.5M237.3 405.4l0.9 -0.7" fill="none" stroke="#333" stroke-width="0.7"/>
<path d="M270.7 403.7L270.9 404.7L270.8 405.9L270.5 407L269.9 408.1L269.1 409.1L268 410.1L266.5 411L264.7 411.8L262.9 412.6L261.1 413.2L259.2 413.7L257.3 414L255.3 414.3L253.3 414.5L251.4 414.5L249.4 414.5L247.4 414.4L245.5 414.1L243.7 413.7L242.4 413.2L241.5 412.5L240.9 411.5L240.5 410.5L240.3 409.4L240.2 408.4L240.2 407.3L240.4 406.3L240.7 405.3L241.2 404.3L242 403.3L243.1 402.4L244.5 401.6L246 400.8L247.7 400.1L249.3 399.5L251.1 399L252.9 398.5L254.8 398.1L256.7 397.9L258.6 397.8L260.4 397.8L262.3 398L264.1 398.3L265.8 398.7L267.2 399.2L268.3 399.9L269.2 400.7L269.9 401.7L270.4 402.7Z" fill="#fff" stroke="#111" stroke-width="1.15"/>
<path d="M260 409.9l1.2 -0.6M257 411.8l1.7 0.3M260.3 410.4l1.8 -0.2M262.7 409.5l0.8 0M258.4 409.7l1.6 0M257.4 409.8l1.5 -0.6M266.2 406.8l1.4 0.1M262.5 408l1.7 -0.7M256.2 412.2l1.5 -0.6M258 409.8l0.9 0.1M262.1 409.2l1.6 -0.3M260.4 411l1.6 0.2M263.7 407.8l1.6 -0" fill="none" stroke="#333" stroke-width="0.7"/>
<path d="M240.5 386L240.4 386.7L240.2 387.5L240.1 388.2L239.8 388.9L239.4 389.5L238.9 389.9L238.2 390.2L237.4 390.4L236.6 390.6L235.8 390.7L235 390.8L234.1 390.9L233.2 390.9L232.4 390.8L231.7 390.5L231.1 390.1L230.6 389.5L230.2 388.7L229.9 388L229.5 387.3L229.2 386.5L228.8 385.8L228.5 385L228.4 384.3L228.4 383.6L228.7 383L229.2 382.4L229.8 381.8L230.5 381.3L231.1 380.9L231.7 380.5L232.3 380.1L232.9 379.7L233.6 379.4L234.3 379.3L235 379.3L235.7 379.3L236.4 379.5L237.2 379.7L237.8 380L238.5 380.4L239.2 380.8L239.8 381.3L240.4 381.9L240.7 382.4L240.9 383.1L240.9 383.8L240.8 384.5L240.6 385.3Z" fill="#fff" stroke="#111" stroke-width="1.15"/>
<path d="M239 386.6l1.1 -0.1M238.3 387.8l0.8 0M237.5 388.1l1.7 -0.2M238.6 386.5l1.2 0.2M236.8 388.4l1.7 -0.7" fill="none" stroke="#333" stroke-width="0.7"/>
<path d="M268.9 392.9L268.8 393.7L268.6 394.4L268.3 395.2L267.9 395.9L267.4 396.5L266.7 397L266 397.5L265.2 397.8L264.3 398.1L263.4 398.3L262.6 398.3L261.7 398.2L260.8 398L259.9 397.7L259.1 397.4L258.4 397L257.7 396.5L257 396L256.4 395.4L255.9 394.8L255.5 394.1L255.1 393.4L254.8 392.6L254.6 391.8L254.6 391L254.8 390.3L255.2 389.5L255.7 388.8L256.2 388.2L256.8 387.7L257.5 387.3L258.3 387.1L259.1 386.9L260 386.8L260.8 386.7L261.6 386.7L262.4 386.6L263.2 386.6L263.9 386.7L264.7 386.9L265.5 387.2L266.3 387.6L267 388L267.7 388.6L268.2 389.1L268.6 389.8L268.8 390.5L268.9 391.3L269 392.2Z" fill="#fff" stroke="#111" stroke-width="1.15"/>
<path d="M266.3 394.7l1.1 0M261.9 396l0.9 -0.2M266.4 394.7l1.1 -0.4M265.1 395.1l1.6 -0.1M265.1 395.1l0.8 -0.1" fill="none" stroke="#333" stroke-width="0.7"/>
<path d="M240.9 400L240.7 400.6L240.4 401.1L240 401.6L239.5 402.1L239 402.5L238.5 402.8L237.9 403L237.2 403.2L236.6 403.3L235.9 403.4L235.2 403.5L234.4 403.6L233.7 403.7L232.9 403.6L232.3 403.5L231.7 403.2L231.1 402.7L230.5 402.2L230.1 401.6L229.7 401.1L229.5 400.5L229.3 399.9L229.2 399.2L229.3 398.6L229.4 398L229.6 397.5L229.9 397L230.3 396.5L230.8 396.1L231.3 395.7L231.8 395.4L232.3 395.1L232.9 394.9L233.5 394.7L234.1 394.6L234.8 394.5L235.5 394.4L236.3 394.4L237 394.5L237.6 394.7L238.1 395L238.6 395.5L239 396L239.4 396.6L239.7 397.2L240 397.7L240.4 398.3L240.7 398.9L240.8 399.5Z" fill="#fff" stroke="#111" stroke-width="1.15"/>
<path d="M239 400.8l0.8 -0.4M238.8 399.8l0.8 -0M237.4 401.2l1.4 -0.8M236.2 401.2l1.4 -0" fill="none" stroke="#333" stroke-width="0.7"/>
<path d="M358 373.7L358 374.9L357.8 376.1L357.4 377.3L356.8 378.4L356 379.5L354.9 380.4L353.6 381.3L352.2 382.1L350.6 382.8L349.1 383.5L347.5 384.1L345.8 384.7L344.1 385.2L342.4 385.6L340.8 385.7L339.3 385.5L337.9 385L336.5 384.4L335.3 383.7L334.1 383L333.1 382.3L332.1 381.6L331.2 380.8L330.5 379.9L330 378.9L329.6 377.9L329.5 376.7L329.5 375.4L329.8 374.2L330.4 373.1L331.3 372.1L332.7 371.1L334.3 370.1L335.9 369.3L337.6 368.7L339.2 368.3L340.9 368.1L342.7 368L344.4 368L346.2 368L348 367.9L349.9 367.9L351.8 367.9L353.5 368.1L354.9 368.5L355.9 369.3L356.8 370.2L357.4 371.4L357.8 372.6Z" fill="#fff" stroke="#111" stroke-width="1.15"/>
<path d="M345.4 381.6l0.8 -0M352.5 377.1l0.7 0.2M349.6 378.7l1 0.3M351.8 378.2l1.3 -0.5M347.6 379.8l1.2 0.3M350.5 381.1l1 0M352.1 379.3l1.7 -0.3M346 381.2l1 -0.7M351.8 379.4l1.5 -0M346.8 380.2l1.5 -0.8M349.1 379.3l1 0.3M350.5 381.7l1.4 -0.7" fill="none" stroke="#333" stroke-width="0.7"/>
<path d="M374.2 374L374.1 375.1L373.8 376.2L373.5 377.3L372.9 378.3L372.3 379.2L371.4 379.8L370.4 380.4L369.2 380.9L368 381.2L366.8 381.5L365.6 381.6L364.4 381.7L363.1 381.7L361.9 381.6L360.8 381.2L359.7 380.7L358.8 379.9L357.9 379.1L357.2 378.1L356.6 377.2L356.1 376.2L355.8 375.1L355.6 374.1L355.5 373L355.6 372L355.8 371L356.2 370.1L356.7 369.2L357.4 368.3L358 367.4L358.8 366.5L359.6 365.6L360.5 364.8L361.5 364L362.5 363.6L363.7 363.4L365.1 363.4L366.5 363.6L367.8 364L369 364.4L370 365.1L370.8 365.9L371.6 366.9L372.3 367.9L372.8 368.9L373.3 369.9L373.7 370.9L374 372L374.1 373Z" fill="#fff" stroke="#111" stroke-width="1.15"/>
<path d="M369.6 373.8l1.6 0.2M364.6 378.3l0.7 -0.6M370 377.3l1.8 -0.1M367.3 376.9l0.9 -0.6M367.7 377.6l1.8 0.1M368.4 376.5l1 -0.8M368.7 378.7l1.2 -0.6M369.4 373.9l1.5 0.2M369.2 373.8l1.7 -0.6" fill="none" stroke="#333" stroke-width="0.7"/>
<path d="M396.5 374.8L396.1 375.7L395.5 376.6L394.8 377.5L393.9 378.3L393 379.1L392.1 379.9L391.2 380.8L390.2 381.7L389.1 382.4L387.9 382.8L386.5 382.9L384.9 382.8L383.3 382.6L381.7 382.2L380.3 381.7L379 381.1L377.7 380.4L376.6 379.5L375.6 378.6L374.8 377.6L374.2 376.6L373.7 375.5L373.4 374.4L373.3 373.3L373.3 372.2L373.5 371.1L373.9 370L374.5 369L375.2 368L376 367.2L377 366.5L378.2 365.9L379.5 365.4L380.9 365L382.3 364.7L383.7 364.7L385.2 364.7L386.7 364.9L388.2 365.3L389.5 365.7L390.8 366.2L392.1 366.9L393.3 367.7L394.3 368.5L395.2 369.4L395.8 370.4L396.2 371.5L396.5 372.6L396.6 373.8Z" fill="#fff" stroke="#111" stroke-width="1.15"/>
<path d="M388.1 377.4l1.1 -0.1M393.6 375l1.5 -0.4M388.6 378.7l1.1 -0.4M387.8 377.5l1.6 -0.2M389.5 379.3l0.9 0M387.5 377.6l1.3 -0.2M385.4 378.7l0.9 -0.3M390.6 375.7l1.8 -0.6M387.2 378l1.6 -0.1M392.7 375.8l1.5 -0.6M390.4 377.6l1.4 0" fill="none" stroke="#333" stroke-width="0.7"/>
<path d="M361.5 397L361.3 398.1L360.8 399.2L360.1 400.2L359.2 401.2L358 401.9L356.6 402.5L354.8 402.8L352.8 403.1L350.7 403.2L348.7 403.2L346.6 403L344.3 402.8L342.1 402.4L340.1 401.9L338.2 401.2L336.7 400.4L335.4 399.3L334.3 398.2L333.3 397L332.3 395.8L331.4 394.7L330.6 393.6L329.9 392.4L329.4 391.3L329.3 390.3L329.6 389.3L330.2 388.3L331.1 387.4L332.2 386.5L333.4 385.8L334.8 385.2L336.3 384.6L338.1 384.2L339.9 383.8L341.8 383.7L343.9 383.8L346.1 384.1L348.4 384.5L350.6 385.1L352.6 385.8L354.3 386.6L355.9 387.7L357.4 388.8L358.6 390L359.7 391.1L360.5 392.3L361 393.5L361.4 394.7L361.6 395.9Z" fill="#fff" stroke="#111" stroke-width="1.15"/>
<path d="M345.6 399.3l1.2 -0M353.3 399.2l0.8 -0.3M354.7 394.8l1.3 -0.4M352.9 394.3l1.4 0.3M351.1 396.7l0.8 0.2M358.2 395.2l0.8 -0.7M348.8 398.4l1 0.1M348.4 399.7l0.6 -0.5M354.7 396.1l1.2 -0.4M353.5 398.5l1 -0.4M354.5 396.9l0.6 0.2M353.9 395.9l1.4 -0.8M345.2 399l1.5 -0.3M354.1 394.6l0.8 0.2" fill="none" stroke="#333" stroke-width="0.7"/>
<path d="M393 392.9L392.6 394.1L392 395.3L391.1 396.4L390 397.4L388.6 398.2L386.9 398.8L384.8 399.2L382.4 399.5L380 399.6L377.7 399.5L375.4 399.2L373.2 398.8L370.9 398.1L368.6 397.4L366.4 396.7L364 395.9L361.6 395.1L359.2 394.2L357.1 393.2L355.6 392.2L354.5 390.9L353.8 389.5L353.4 388.1L353.4 386.7L353.7 385.5L354.4 384.4L355.5 383.4L356.8 382.6L358.4 381.8L360 381.1L361.7 380.5L363.5 380L365.4 379.5L367.4 379.2L369.4 379.2L371.5 379.4L373.7 379.9L375.9 380.6L378.1 381.3L380.3 382.1L382.7 382.8L385.2 383.5L387.6 384.3L389.8 385.2L391.4 386.2L392.4 387.4L393 388.8L393.2 390.2L393.2 391.6Z" fill="#fff" stroke="#111" stroke-width="1.15"/>
<path d="M381.7 393.7l0.6 0.1M386.3 390.6l1.4 -0.1M376.7 396.8l1.4 -0.3M387.4 392.5l1.2 -0.4M380.4 393.5l0.8 -0.1M386.7 392.1l1.5 -0.4M384.1 394.7l1 -0.4M380.5 393l0.9 0.2M380.4 394.8l1.5 -0.6M380.7 392.1l1.8 -0.4M380.8 394.5l0.8 -0M375 396.7l0.7 -0.6M382.9 393.5l0.7 0.1M376.4 394.2l1.6 -0.6M388.6 390.8l1 -0.4M375.5 394.4l1.6 -0M384.7 393.1l1.4 0.2M377.1 395.1l1.7 0.1" fill="none" stroke="#333" stroke-width="0.7"/>
<path d="M356.2 410.8L355.9 411.6L355.3 412.4L354.6 413.1L353.7 413.7L352.6 414.3L351.5 414.8L350.1 415.4L348.6 415.8L347 416.1L345.4 416.2L343.5 415.9L341.5 415.5L339.4 414.9L337.4 414.1L335.7 413.4L334.1 412.5L332.7 411.6L331.4 410.6L330.3 409.6L329.3 408.6L328.6 407.6L328.1 406.5L327.8 405.5L327.6 404.5L327.7 403.6L327.9 402.7L328.3 401.7L328.8 400.9L329.7 400.1L330.7 399.5L332 399L333.6 398.6L335.5 398.4L337.4 398.3L339.2 398.4L341.1 398.7L343.2 399.2L345.2 399.8L347.1 400.5L348.8 401.3L350.3 402.2L351.6 403.1L352.7 404.1L353.7 405.1L354.6 406.1L355.2 407.1L355.8 408.1L356.1 409L356.3 410Z" fill="#fff" stroke="#111" stroke-width="1.15"/>
<path d="M345.5 411.2l1.3 -0.1M342.5 411l0.8 0.2M347.2 410.9l1 -0.3M342.5 412.7l1.5 0.2M344.2 411.6l0.8 0.2M349.1 411.7l1.4 -0.5M349.6 407.8l1.1 0.2M350.8 409.7l0.7 -0.5M350 408l0.7 -0.7M344.8 412.2l1.5 -0.8M351.6 409.9l0.6 -0.4M351.1 407.9l1.6 -0.8" fill="none" stroke="#333" stroke-width="0.7"/>
<path d="M381.4 405.3L381.4 406.5L381.2 407.8L380.8 409.1L380.2 410.2L379.4 411.2L378.3 411.9L376.9 412.5L375.4 413L373.8 413.4L372.2 413.7L370.7 414.1L369.1 414.6L367.5 414.9L365.9 415.1L364.4 415L362.9 414.7L361.3 414L359.9 413.2L358.6 412.3L357.7 411.3L357.2 410.3L356.9 409.1L356.8 407.9L356.9 406.7L356.9 405.5L357 404.3L357 403.1L357.1 401.9L357.4 400.8L358 399.8L358.9 398.9L360.1 398L361.4 397.2L362.8 396.5L364.3 396L365.9 395.6L367.7 395.3L369.4 395.2L371.2 395.3L372.7 395.5L374.1 396.1L375.3 396.9L376.5 397.9L377.5 398.9L378.5 399.9L379.3 400.9L380.1 402L380.7 403.1L381.2 404.2Z" fill="#fff" stroke="#111" stroke-width="1.15"/>
<path d="M369.1 412.6l0.6 -0.5M371.9 410.1l1.1 -0M369.9 410.1l0.6 -0.6M374.5 411l1 -0.4M375.7 409.2l1.6 -0.6M368.5 411.7l0.9 -0.1M370.5 411.1l0.6 -0.1M372.4 410.8l1.4 -0.2M375.1 409.1l0.9 -0.5M372.2 409.2l1.6 0.3M376.7 407.5l1.1 0.3M369.1 411.8l0.7 -0.2" fill="none" stroke="#333" stroke-width="0.7"/>
<path d="M391.1 405.8L391.1 406.4L391 407.1L390.8 407.7L390.6 408.4L390.3 409L390 409.6L389.8 410.1L389.4 410.6L389.1 411.1L388.6 411.5L388.2 411.7L387.6 411.9L387 412.1L386.4 412.1L385.9 412L385.3 411.9L384.7 411.6L384.2 411.3L383.6 410.9L383.2 410.5L382.8 409.9L382.5 409.3L382.2 408.6L381.9 407.9L381.8 407.2L381.7 406.5L381.8 405.8L381.8 405L382 404.3L382.2 403.7L382.5 403.1L382.9 402.6L383.3 402.1L383.8 401.7L384.3 401.4L384.8 401.2L385.4 401L386 401L386.6 401.1L387.1 401.2L387.6 401.4L388.1 401.7L388.6 402.1L389 402.5L389.5 403L389.9 403.4L390.3 404L390.7 404.6L390.9 405.2Z" fill="#222" stroke="#111" stroke-width="1.15"/>
<path d="M352 385l10 -2M357 384l8 2M330 400l6 3M358 398l6 2M160 396l6 2M210 383l5 3M185 398l6 3M238 380l4 2" stroke="#111" stroke-width="1.6" fill="none"/>
<path d="M205.6 357.6l4.8 2.2M196.7 361.2l4.5 1.8M143.2 358.4l3.6 1.4M207.8 356.6l6.4 1.9M201.4 362.6l5.2 -1.6M167.1 362.2l5.8 -0.3M225.8 358.9l4.4 -0.7M170.7 358.9l4.6 -0.3M168.5 361.1l6.9 -0.8M142.5 361.7l5 1.4M234 362.3l6.1 -0.8M221.3 359.5l3.4 -1M226.1 362.6l5.7 -1.3M192.2 362.6l3.6 -0.7M215.8 357.7l4.5 1.7M214.5 361.4l5 0M133.2 362.7l3.6 -0.4M130.2 357.5l3.7 1.5M154.1 357.8l3.7 0.9M136.5 359.9l4.9 -0.2M196.8 361.4l6.4 1.5M240.9 361.7l4.2 0.5M195.5 361.8l5 -1.7M144 359.7l5.9 1.3M120.7 362.8l6.5 -0.6M130.6 361.2l4.9 2.2M116 358l3.9 0.8M209.6 359.1l4.8 2.3M222.8 359.1l4.4 1.8M143.1 360.9l3.9 1.8M124.8 359.3l4.3 -0.9M124.2 362.7l3.6 -0.7M217.2 360.4l3.5 -0.2M203.8 357.7l4.5 0.1M157 359.6l5.9 2.8M206.3 358.9l5.4 -0.1M164.6 362.5l4.8 -0.2M167.3 360.5l5.3 2.1M146 359.7l4.1 1.7M193.1 359.8l5.8 2.7M199 357.1l5.9 2M231.3 361.2l5.5 -0.1M202.7 360.5l4.6 0.4M239.1 360.3l5.8 0.2M174.5 359.6l6.9 0.9M144.9 360.7l6.3 1.8M160.3 361.2l5.3 -0.2M194.2 360.2l3.6 1.1M217.2 360.7l5.6 -1M147.9 357.8l6.2 2.1M159.9 360l4.3 0.1M133.7 357.2l4.6 1.2M141.9 359.5l4.1 1.3M138 357.9l4.1 0.7M235.9 360.5l6.1 2.3M119.7 359.3l6.5 -0.4M169.9 358.6l4.3 -1M128.4 358.8l5.2 1M153.7 360.4l4.7 -1.3M172.4 361l5.2 0M218.2 358.3l3.5 0.2M131.8 359.2l4.3 0.3M162.9 359.5l4.2 1.3M187.2 358.3l3.7 0.4M136.7 358.7l6.7 0.6M148.2 358.1l3.6 1.2M197.1 360.5l3.8 -1.1M237.6 361.1l4.8 0.7M121.2 361.2l3.6 -0.2M211.1 359l5.8 -0.1M217.8 359.3l6.4 -1M130.6 362.8l6.8 -1.3M207 361l4 -1.2M225.7 357.2l4.7 1.2M182.4 358.5l5.3 2.2M216.5 357.3l5.1 0.6M173.5 361l7 -0M137.4 361.9l5.2 0M181 362l4.1 -1.4M140.2 360.4l5.6 -1.8M185.4 359.3l5.1 -0.2M126 359.5l6.1 -1.8M129 359.3l4 1.4M173.1 357.2l5.9 1.2M176 361.5l6.1 0.6M222.1 359l5.7 2.8M226.9 360.8l4.1 -0.4M241 356.6l4 1.9M148.1 358.1l5.8 -0.3M153.5 360.1l5 0.3M121.6 359.4l4.8 -0.7M170.9 362.1l4.2 -0.6M120.7 358l6.7 1.2M199.6 359.7l4.7 0.6M217 359.2l6 0.1M199.3 358l5.3 -0.5M168.3 361.7l3.5 1.1M143 361.8l5.9 -0.7M217.6 362l4.9 0.7M209.3 359.1l3.5 1.3M171.1 362.3l3.9 -1M228 357.6l4.1 0.5M234 360.6l4 1M143.8 360.4l4.5 0.9M142 360.9l6.1 -1.4M207.2 359l3.7 -1M216 358.6l4.1 -1.3M221.3 357.7l5.5 2.2M135.2 361.1l3.7 1.5M135.9 361.9l4.3 -0.5M189.1 360.8l5.9 1.3M153.8 362.4l6.4 -0.6M134.9 361.8l4.2 0.8M239.1 357.8l5.7 -0.3M143.9 360.3l4.1 0.9M134.1 361.2l5.9 -0M129.1 357.9l5.8 -0.4M141.5 361.4l4.9 2.1M152.1 361l5.9 -2.1M228.5 362.9l5 -1.4M224.9 358.7l6.1 0.7M139.7 358.6l6.6 -0.9M223.7 361.8l4.5 0.5M189.9 359.5l4.3 1.9M236 358.5l4.1 -0.5M159 360.2l6 -0.9M137 357.1l6 2M207.4 361l5.2 -1.5M216.2 358.4l3.6 -0.1M120.2 360.8l5.6 -1.5M132.2 359l3.6 1.2M209 361.3l4 -0.9M235.3 358.9l5.4 -2M223.1 360.3l3.7 -0.9M227.8 359.2l4.3 -1M185 358l4.1 0.1M182.6 358.2l6.8 -1M152.1 359.9l3.9 -0.7M145.8 361l4.3 0.3" fill="none" stroke="#111" stroke-width="1"/>
<path d="M116 362.5L180 363L243 362.5" fill="none" stroke="#111" stroke-width="0.8" />
<path d="M105.5 337L105.6 338L105.7 339.4L105.8 341L106 342.6L106.4 344.2L107 345.5L107.6 346.5L108.2 347.4L109 348.2L110.1 348.9L111.7 349.5L114 350L116.8 350.4L120 350.6L123.7 350.8L128.1 350.8L133.5 350.9L140 351L148.3 351.1L158.2 351.1L169.1 351.2L180.2 351.2L190.8 351.2L200 351.3L208.2 351.4L216.1 351.5L223.4 351.5L229.9 351.7L235.5 351.8L240 352L243 352.3L244.7 352.6L245.5 353L245.7 353.4L245.7 353.8L246 354" fill="none" stroke="#111" stroke-width="7" stroke-linecap="round"/>
<path d="M130 351.5q20 -1.5 40 0M190 350.5q15 1 30 0.3" stroke="#fff" stroke-width="0.6" fill="none"/>
<path d="M226.9 351.2l2.2 3M245.3 358.5l2.2 2.1M228.7 353.3l2.4 1M234.5 357.1l3.8 1.1M226.7 352.1l2.4 1.9M241.3 358.6l3.7 2.6M230.7 353.3l2.4 1.2M228.7 354.8l3.3 3.1M233.5 353.1l2.8 2.9M229 351.7l2 2.9M237 353.9l1.9 2.1M238.7 358.3l3.2 1.1M227.5 352.2l2.5 3.4M244.7 359.7l2.4 3.8M238.6 354.5l2.7 1.9M225.1 355.1l2.3 2M243.4 355.8l3.1 1.7M242.9 359.2l2.6 1.3M238.3 357.5l2 2M244.7 359.6l2.6 3.5M243.4 358.3l3.9 2.4M239.6 355.4l2.2 3.2M243.6 355.1l2.5 3.7M231.2 356.2l2 2.4M240.8 357.4l3.5 1.4M243 360.4l4 1M234.4 356.8l3.6 3.3M234.6 356l4 1.1M233.2 356l2.2 2.8M232.9 353.3l2.1 1.4M225.6 356l2.9 1.9M232.2 355.5l2.7 1.4M234.5 355.6l2.2 1.4M233 353.7l3.9 1.7M237.3 356.1l2.5 1.8M228.1 356.1l4.4 1.1M228.3 354.3l2.6 1.3M228.5 352.6l2.5 3.2M234.6 355.1l4.2 2.1M242.9 356l1.9 2.2M240.1 354.5l1.8 2.1M230.5 354.6l2.1 2.3M234.1 355.9l2.4 3.6M238.2 358.1l4.2 1.3M230.3 356.5l3.9 1M237.2 355.7l3 1.4M244.7 359l3.3 1.8M244.5 355.6l2.8 2.5M243.7 361l4.4 1.1M244.4 356.4l2.9 1.6M238.5 358.3l3.1 3.1M223.9 356.2l2.1 1.4M231.3 353.2l3.1 2.4M223.1 356.4l3.7 1.3M230.3 356l4.1 1.7M223.4 352.3l2.3 3.4M243.3 358.3l4.1 2.8M233.9 357.2l2.6 1.2M240.6 357.9l3.7 0.9M227.9 352.9l1.8 2M231.7 357l3.1 1.1M224.1 353.2l2.5 3.7M233.4 358.5l3.1 1.1M238.2 355.4l3.2 1.6M225.8 355.2l2.9 1.6M237.5 355.7l4.5 1.7M237.2 356.8l2.5 1.5M233.2 353.6l3.5 1.6M243.8 357.8l3.2 2.9M231.3 354.4l2.5 2.4M231.4 357.6l3.5 1.1M223.7 350.7l2.6 3M233.2 356.2l4.4 2.3M224.1 356.2l3.9 1.1M235.4 357.2l3.5 3.4M228.2 354.5l2.3 3.4M244.9 356.2l4 2.3M245.5 360.2l3.3 1.9M232.4 355.1l4.4 1.6M239.1 358.1l4.2 2.4M232.7 354l2.4 1.2M236 354.8l3.9 0.8M229.7 355.4l3.4 2M230.5 356l3.4 3.1M227.2 352.1l3.2 2.9M239.7 355.6l2.4 1.1M242.7 357.4l3.7 1.7M245.3 357l2.6 3.4M241.7 357.9l3.3 2.3M229.9 354.1l3.5 1.8M225.6 353.3l1.9 1.8M232.9 354.1l3.7 2.4M237 355.9l3.5 0.9M239.5 358.2l3.7 0.9M237 354.8l3.8 1.5M232.7 358l2.5 1.8M239 358.7l4.3 1.7M240.3 358l4.3 1M222.6 355.3l3.1 1.4M243.4 357.3l2.7 0.7M235.3 356.2l2.4 1.9M224.2 354.8l1.9 2.7M231.7 353.3l2.4 1.6M236.7 358.2l2.5 3.2M229 354.4l3.3 1.2M230.9 357.1l4.6 1.2M222.5 353.4l4 1.5M228.1 356.3l4.1 1.5M231.8 355.6l2.8 3.9M245.7 359.6l3.3 0.7M236.6 353.2l2.7 3.3M242.8 357.8l3.2 2.5M241.4 357.6l1.8 2.7M223.9 354.6l2.6 2.4M223 355.2l2.3 1.5M225 355.7l4.2 2.2M237.6 358.3l2.7 3.6M237.8 357.7l2.6 3.8M239.2 357.4l2.5 1.7M231.4 355.7l1.7 2.4" fill="none" stroke="#111" stroke-width="0.9"/>
<path d="M106 333.3L107.2 334L108.9 334.7L110.9 335.2L113 332.7L115 334.7L116.7 332.7L118.2 336L119.9 335.8L122 335.4L125 336.6L129 335.9L133.9 336.7L139.3 334.3L144.8 335.7L150 335.2L155 338.6L160 338.4L165 339.7L170 340.8L175 341.2L180 339.4L185 341.1L190 340.1L195 340.2L200 337.8L205.2 339.2L210.5 341.6L215.7 340.2L220.6 343.8L225 344.8L228.7 344L232 344.5L234.9 346L237.5 348.2L240 348.4L242.3 348.6L244.5 349.2L246.3 350.4L247.9 352.8L249 353.2" fill="none" stroke="#111" stroke-width="0.8" />
<path d="M112 339.2L113.6 340.1L115.7 339.8L118.3 341.1L121.4 341.1L125 339.6L129.2 339.9L134.1 341.2L139.4 341.3L144.8 341.9L150 341.9L155 342.7L160 342.7L165 344.7L170 345L175 345.3L180 345.2L185 344.7L190 343.4L195 344.7L200 343.2L205.4 344.1L211.2 345.2L216.8 345.8L221.6 346.1L225 347.9" fill="none" stroke="#111" stroke-width="0.6" />
<path d="M206.8 346.8l1.9 -1M161 345.6l1.6 -0.8M205.3 347.1l2.8 -0.7M215.8 345.6l2.4 -0.8M125.5 343.4l2.4 -1.5M132.1 342.8l1.5 -1.2M126.1 340.9l1.6 -1.2M150.3 343.2l1.3 -1.2M229.4 349.3l2.6 -0.4M215.7 348.2l1.9 -0.6M211.2 345.8l1.3 -0.8M137.7 343.1l2.2 -1.6M108.4 341.5l2.7 -0.8M210.4 345.1l1.1 -1.1M216.9 346.7l1.9 -0.8M177.2 343.1l1.6 -0.9M114.5 341.7l2.6 -1.3M160.7 345.8l2.4 -1.2M189.3 343.6l1.4 -1.3M224.6 349.8l2 -0.7M123.9 343.8l1.6 -1.5M196 343.7l1.9 -0.3M159.4 342.9l1.2 -1M196.7 346.8l2.2 -0.9M191.8 345.8l2.3 -1M185.3 343.2l1.3 -0.9M202.3 344.4l1.3 -1.6M126.7 342l2.3 -0.8M173.9 345.6l2.1 -1.7M130.9 343.9l1.6 -1.3M197.8 346.4l2.2 -1.3M120.9 342.8l1.7 -1M135.1 340.3l1.8 -0.4M218.1 346.6l1.6 -1.2M188 343.6l2.1 -1.9M128.8 343l1.8 -0.7M142.4 341.8l1.2 -1.2M234.3 347.8l1.3 -1M183.5 343.8l1 -1.1M217.6 349l2 -0.3M177.9 346l1.9 -1.9M141 342.7l1.8 -1.7M220 346.6l1.9 -0.5M157.1 346l1.6 -1.9M222.1 347.1l1.7 -1.1M191.3 346.7l1.2 -1M120.9 341.8l1.8 -0.4M112.1 340.5l1.5 -0.8M180.3 345.7l1.1 -1.2M169.8 345.7l2.1 -0.4M116.3 339.8l1.4 -1.5M169.3 343.2l1.3 -0.9M173.8 343.2l2.2 -0.7M219.5 349.5l2 -0.3M115.9 342.7l1.6 -0.9M130.2 342.1l1.3 -1M169.9 343.1l2.2 -0.4M201.8 344.2l2.4 -0.6M121 340.1l1.9 -0.7M124 342.4l1.6 -0.9M173.9 342.5l2.1 -0.8M112.1 341.1l1.5 -0.5M190.9 344.2l2.1 -1.2M191.8 345l2.4 -1.6M149.9 344.2l2 -0.4M224 348.7l1.4 -0.5M167.2 346l1.2 -1.4M112.5 339.6l2.7 -0.3M146.5 344.4l2.6 -1.2M160.3 342.2l1.5 -1.4M170 343.3l2 -1.1M229.8 349.8l1.7 -0.6M224 346.9l1.8 -0.4M208.7 346.9l2.2 -1.9M150.2 341.9l1.5 -1.5M199.3 343.6l1.4 -1M213.7 349l1.9 -1.9M185.8 344.9l2.3 -1.1M126.1 340.7l1.7 -0.8M162.2 342.9l1.6 -1.6M183.1 343.9l1.7 -0.5M163 342.7l2 -0.9M161.1 342.9l1.7 -0.8M127.6 344.2l2.3 -1.8M160.8 342.6l2.3 -1.4M232.2 347.4l1.5 -1.2M232.4 348l1.1 -1.1M156.7 345l2.4 -0.6M173.9 344.9l1.9 -1.2M175.5 344.8l2.8 -0.7M231.7 349.6l2 -1.3M140.9 343.5l1.8 -1.7M140.6 343.8l2.5 -1.6M140.9 344.1l1.7 -1.9M188.1 346l1.5 -1.3M225.9 346.7l2.2 -1.2M198.6 347l2.2 -0.4M150.1 344.9l1.6 -1.4M230.6 351l1.9 -0.9M125.7 343.7l2 -1.7M155 343.3l1.8 -1M137 342.8l1.6 -0.3M174.1 343.1l1.8 -1.2M118 341.1l1.7 -1M177.9 343.9l2 -0.7M130.6 343.3l2.4 -0.9M207.7 345.5l2.4 -1.7M207.1 345.5l1.6 -0.8M139.9 343.3l1.8 -0.2M206.8 347.6l1.6 -0.6M116.4 341.3l2.7 -0.6M183.8 342.8l2.4 -0.4M161.3 344.9l1.2 -1M109.1 342l1.3 -1.4M130.9 341.4l2 -1.6M139 341.4l2 -2.1M233.2 348.1l1.4 -0.8M153 343l1.9 -1.2M142 342l1.9 -0.3M141.8 341.3l2.3 -1M142 341.2l2 -0.4M172.9 344.9l2.1 -2M179.6 345.9l2.6 -0.8M163.1 343.4l1.7 -0.6M211.3 345.1l1.4 -0.8M127.7 340.6l2.6 -0.9M209.4 348l2.5 -1.1M169.3 344.7l1.3 -1.3M182.9 343.5l2.1 -0.5M204.9 345.3l1.9 -1.2M201.4 344l1.2 -1M173.8 343.6l2.3 -1M186.9 344.3l2.2 -2M193.3 346.9l1.1 -1.1M167.6 345.1l2.5 -0.6M230.7 349.7l2 -0.5M175.1 345.8l1.6 -1.8M120.2 340.5l1.5 -1.1M130.6 343.6l2.1 -0.4M133.7 341.5l2.5 -0.7M219.7 347.2l2.2 -0.7M207.8 344.8l2.3 -0.9M164 344.3l1.9 -1.6M136.4 342.2l2.8 -0.6M162 345.2l1.8 -1.2M227 349.6l1.3 -1M206.9 346.1l1.8 -0.7M112.6 341.9l2.3 -0.3M117 340.8l1.8 -0.8M116.8 342.4l1.9 -0.7M175.3 342.8l1.4 -0.9M231.7 350.8l1.8 -2.2M194.4 343.9l1.1 -1.2M128.8 343.2l1.9 -0.9M138.9 341.2l2.1 -0.6M151.9 342.8l2.1 -0.4M179 343.5l2 -1.7M222.9 349.1l1.5 -1M132 342.8l1.7 -1.4M199.6 344.3l2.5 -0.7M225.6 350.9l1.9 -2M152.1 345.2l1.4 -1.7M212.6 349.5l2 -2M149.6 342.7l2.6 -0.9M195.8 344.4l2.3 -1.5M218.8 347l2.2 -1.6M140.4 343.1l2.9 -0.5M149.8 342.8l2.3 -1.7M230 348.6l1.7 -1.1M157.2 342.6l1.5 -0.2M194.6 345l2.6 -1.1M204.4 347.6l2.4 -0.6M114.5 342.8l2.5 -0.8M213 346.3l1.7 -0.9M164.1 345.8l1.6 -1.6M152 344.9l1.9 -2.1M130.9 343.2l1.7 -0.3M228.4 350.5l2.3 -0.5M224.8 346.4l2.3 -0.5M166.9 346.1l1.9 -1.1M203.9 347.7l1.5 -1.3M140 341.6l2 -2M224 349.6l1.2 -1.1M116.9 341.6l1.8 -2.1M189.5 344.6l2.8 -0.7M147.6 343.7l2.3 -0.4M148.9 344.9l1.9 -0.6M219.7 347l2.4 -0.4M214.9 349.2l1.4 -1.6M109.9 341.9l1.7 -0.7M154.7 343.6l2.5 -0.4M219.2 345.9l1.5 -0.3M184.4 345.3l1.1 -1.3M120.1 340.3l1.8 -1.4M203.9 345.9l2 -1.7M210.8 345.4l2.4 -1.7M202.7 345.9l2.1 -1.4M227.6 348.9l2.4 -1.8M174 345.7l1.7 -1.6M172.8 342.2l2.4 -0.5M156.6 345.9l2.4 -1.2M131.7 340.3l2.6 -1M122.6 343.3l2.4 -1.7M134.5 342.2l2.7 -0.5M199.5 346.8l2.2 -0.3M228.3 347.5l1.3 -1.2M164.9 345.5l2 -1.3M142.1 343.5l1.4 -1.2M189.4 345l1 -1.1M151.9 345.7l1.9 -1.9M177.2 343.6l1.6 -0.8M185.5 343.5l2.9 -0.6M200.4 346.5l2.5 -0.8M198.9 344.1l2.1 -0.5M173.9 342.4l2.1 -0.3M119.6 342.5l2.3 -0.4M161.9 342.7l2.1 -1.2M178.1 343.8l1.8 -0.5M133.9 341l2 -0.4M164.3 343.4l1.3 -1.3M119.2 339.7l1.5 -0.7M146 342l1.9 -1.1M232.9 349.7l1.7 -1M175.2 343.2l1.6 -0.7M130.1 341.1l1.7 -1.2M117 340.8l1.7 -1.2M153.7 344.3l2.4 -0.6M168.2 345.5l1.4 -0.6M216.7 348.7l2 -1.1M199.7 347.4l1.8 -1.2M146.7 342l2.4 -1M109 342.5l1.5 -1.4M217.9 347.5l1.9 -1.4M136.7 341.6l2.3 -0.3M160.2 344.6l1.3 -1.1M224 349.8l1.3 -1.5M170 344.3l1.8 -1.4M110.6 340.2l2.6 -1.3M190.2 347.1l1.3 -1.4M187 345.2l1.8 -0.5M156 345.5l1.8 -2M189.1 345.4l1.6 -1.3M213.8 346.8l2 -0.3M118.1 340.5l1.8 -2M127.1 341.3l1.6 -1.4M123.4 342.5l2.7 -0.9M229.6 347.8l2.7 -1.3M206.8 348.1l1.5 -0.9M203.8 345.9l2 -0.7M188.7 346.4l2.3 -0.7M234.3 348.8l1.2 -1.3M112.8 338.8l2.3 -0.8" fill="none" stroke="#111" stroke-width="0.7"/>
<path d="M234.2 341.4h0.9M238 347.4h0.9M265 353.5h0.9M247.8 352.7h0.9M251.9 345.3h0.9M241.9 342.7h0.9M281.6 354.6h0.9M266.8 343.2h0.9M237.9 341.5h0.9M247.3 349.5h0.9M231.2 346.1h0.9M265.4 341.3h0.9M252.2 350.5h0.9M259.7 346.5h0.9M276.5 349.2h0.9M246.5 345.1h0.9M279.9 352.8h0.9M278.3 348.8h0.9M235.8 341.7h0.9M249.1 349h0.9M228.3 349.4h0.9M271.2 347.9h0.9M228.3 349.4h0.9M250.8 348.8h0.9M259.3 350h0.9M250.5 352.6h0.9M280.6 353.7h0.9M261.8 344.8h0.9M248.7 343.5h0.9M277.7 351.8h0.9M271.3 351.8h0.9M282.5 350.7h0.9M245.5 349.7h0.9M242.4 347.7h0.9M236.7 350.6h0.9M254.9 343.9h0.9M278.8 342.6h0.9M279.2 351.4h0.9M236.2 349.3h0.9M259.5 352.4h0.9M260.3 346.2h0.9M279.3 342.7h0.9M270.7 342.5h0.9M243.2 341.2h0.9M275.9 347.1h0.9" fill="none" stroke="#222" stroke-width="0.9" stroke-linecap="round"/>
<path d="M232 341.5L233.8 341.2L236.3 339.1L239.2 340.1L242.2 339.5L245 338.7L247.6 340.3L250.2 339.6L252.9 341.2L255.5 341.2L258 341.8L260.5 342.7L263 344.1L265.4 344.8L267.7 346.4L270 346.6L272.3 347.2L274.6 347.2L276.8 347.6L278.7 348.5L280 350.9" fill="none" stroke="#111" stroke-width="0.6" />
<path d="M343 360L343.5 359.4L344.3 358.5L345.1 357.5L346.1 356.4L347 355.5L347.9 354.7L348.8 353.8L349.7 353L350.8 352.3L352 351.5L353.4 350.7L355 350L356.7 349.3L358.4 348.6L360 348L361.5 347.5L363 347L364.5 346.6L366.1 346.2L368 345.8L370.1 345.4L372.5 345L375 344.6L377.5 344.2L380 344L382.2 343.9L384.2 343.9L386.3 343.9L388.8 344L392 344L396.2 344L401.1 344.1L406.4 344.2L411.9 344.2L417 344L422 343.7L427.2 343.2L432.2 342.6L436.9 342L441 341.5L444.5 341L447.5 340.5L450.1 340L452.6 339.5L455 339L457.6 338.5L460.1 337.9L462.5 337.3L464.6 336.8L466 336.5L468 355.5L410 355.5L392 356L372 356.5L358 358.5L350 361.5L343 363Z" fill="#111" stroke="#111" stroke-width="0.8" stroke-linejoin="round"/>
<path d="M366 352q12 -3 26 -2.5M400 349.5q14 0.5 30 -1.5M438 351l9 -1.5M452 347l6 -2M380 353.5l8 0.3M420 353l7 -0.5M356 357l6 -1.5" stroke="#fff" stroke-width="0.8" fill="none"/>
<path d="M363.6 351.9l2.7 -0.1M435.8 351.2l3.8 -0.8M374.2 354.1l1.8 -0.8M412 351.1l1.9 0.2M409.3 354l2.1 0.2M383 354.7l3 0.3M440.2 353l2.8 0.1M406.1 349.6l3.8 0M430.9 353.7l2.1 -0.4M445.6 355.1l3.8 -0.8M431.1 352.5l2.5 -0.8M374.3 352l2.7 -0.7M398.2 352.5l3.4 -0.2M376.9 354.6l2.4 0.2M462.1 349.9l3 0.3M400 352.4l2.3 -1M381.3 349.8l2.2 -0.2M418.6 355l3.2 -0.5M458.7 353l2.9 0.1M429.7 351.3l3 -0.6M460.8 350.5l3.9 -0.9M361 352.5l2 -0.3M372.3 354.3l3.2 -0.1M456.4 355.3l3.2 -0.1M360.2 349.3l2.6 0.3M392.6 352.6l1.5 -0.5M453.9 352.7l3.6 -1M381.1 350.1l3.6 -0.9M456.9 350.7l3.7 -0.3M393.6 355.1l2.5 -0.1M367 354.2l4 -0.9M437.6 350.7l1.9 -0.5M428.8 355l4 0.3M424.8 353.1l1.9 -0.1M417.3 351.3l3.8 -0.7M374.7 350l1.9 -0.2M443.3 350l2.8 -0.3M418.3 351.6l2.9 -1M366 351.7l2.1 -0M385.2 354.2l2.1 -0.9M409.7 351.4l2.3 -0M383.1 353.2l3.6 -0.4M412.3 354.8l3 -0.8M367.2 349.5l2.3 -0.9M427.5 351.7l2.3 -0.3M457.4 350.5l1.9 -0.6M393.7 354.7l3.3 -0.4M377.3 349.3l1.8 0.1M427.4 350l3.1 -0.9M412.7 351.1l1.8 -0M434.5 352.2l1.9 -0.1M405.1 353.2l1.7 0.2M360.4 350.4l2.5 -0.7M369.1 353.3l4 -0.6M387.7 353.2l2.1 -0.5M431.6 351.7l1.9 -0.9M416.5 355.2l3.8 -0.9M412.2 352.1l2 -0.1M411.5 354.1l2.2 0.2M444.7 352l1.9 -0.4" stroke="#fff" stroke-width="0.8" fill="none"/>
<path d="M351.4 347.1L352.3 347.3L353.6 346.7L355.1 344.8L356.9 342.2L358.7 340.9L360.7 341.3L363 340.4L365.4 339.6L367.7 339.5L370 337L372.1 338L374.1 337.5L376.2 337.8L378.2 336.2L380.4 337.3L382.7 336.4L385.1 338.6L387.5 338.2L390 339.6L392.5 339.6L395 339.7L397.5 339.4L400 339.1L402.5 338.4L405 338.5L407.3 337.7L409.4 338.1L411.5 337.6L413.9 336.8L416.7 336.6L420.1 336.8L423.9 335.8L427.9 335.8L432 333.9L436 333.1L440 333L444.2 331.7L448.3 330.1L452.1 328.9L455.3 329L458 327.4L460.2 328.1L462.1 327.7L463.7 327.6L465 326.4L465.9 326.7L466.5 328.1L466.8 329.6L466.9 328.8L467 329.2L467 331.1L466.8 331.1L466.6 332L466.4 333.4L466.2 333.7" fill="none" stroke="#111" stroke-width="0.9" />
<path d="M412.4 339.5l0.7 -1.6M438.8 334.5l0.7 -1.8M442.8 335.1l1.4 -2.4M361.7 343.4l1.1 -2.4M403.4 340.9l0.7 -1.8M421.3 338.2l1.3 -1.4M357.7 344.7l1.1 -2.4M450.6 331.6l1.5 -1.3M442.5 332.9l1.4 -1.2M430.5 337l1.3 -1.4M380.4 341.2l1.5 -1.1M416.2 339.6l1.3 -1.5M359.5 344.2l1.8 -2.2M367 341.4l0.7 -1.7M395.1 342.1l1.3 -0.8M384.5 340.2l1.6 -0.9M410 339.5l1.4 -1.5M359.7 343.8l1.3 -1.5M416 340.4l1.8 -2.4M361.7 343.6l1.4 -1.9M377.1 341.3l1.9 -1.4M404.4 339.8l2.6 -1.5M453.8 332.1l1.7 -2.4M366.2 340.9l2.1 -1.4M363.7 341.8l0.7 -1.9M410.9 340.2l1.7 -2.3M399.9 340.7l1.5 -0.9M421.6 338.7l0.7 -1.8M425.1 336.9l1.7 -1.1M398 341.3l1.3 -1.4M453.4 330.1l1.8 -1M369 339.8l2.1 -1.2M372.2 339.9l1.6 -1.2M408.9 338.9l1.5 -1M355.2 344.7l1.8 -1.7M413.3 339.5l0.8 -1.6M446.6 332.7l1.7 -1.2M449.5 331.8l1.5 -2.4M396.9 341.7l1.6 -1.5M416.4 339.9l1 -1.2M377.5 341.5l1.1 -2.2M372 340.9l1.9 -1.6M395.8 341.2l1.7 -2M450.2 332.6l0.7 -1.8M442 333.3l2.3 -1.3M429.3 337.7l1.9 -1.8M395.9 341.4l1.6 -1.3M413.5 339.8l0.6 -1.5M368.2 339.9l1.7 -1.7M444.9 334.2l1.4 -1.3M363.2 341.7l1.8 -1.4M358.1 344.7l0.7 -1.5M462.2 330.6l1.8 -2.1M380.4 340.7l1.7 -1.7M371.7 340.1l0.5 -1.5M435.9 336.6l0.8 -2.4M441 333.8l2.4 -1.5M381.4 342.4l1.6 -2.2M391.2 341.8l0.4 -1.5M392 341.8l1 -2.7M426.1 337.7l1.9 -2.1M403.9 341.3l1.6 -2.1M414.1 340l1.6 -1M389.6 341.9l1.5 -1.1M445 333.1l0.5 -1.6M412.2 340.9l1.2 -1.9M420 338.8l1.8 -1.9M459.4 331.1l1 -1.5M399.4 341l2.4 -1.6M375.5 341.3l1.1 -2.7M416.4 340.9l1.2 -2.6M439.7 335.5l1.4 -2.3M367.7 340.4l0.9 -1.4M391.9 341.4l1.2 -1.4M411 340.3l1.6 -1.1M458 331.3l1.6 -1.8M436.8 336.1l1.3 -1.2M442.5 334.7l2 -1.6M460.9 330l2.1 -1.5M411.3 339.5l0.7 -2M421.5 339.6l1.2 -2.1M411.4 339.8l0.7 -1.6M429.8 337.9l0.9 -2.2M379.3 341.1l1.7 -2.2M357.8 345.2l1.8 -1.2M455.2 331.5l0.7 -2M455.8 331.9l1.7 -1.7M429.5 336.2l0.9 -1.4M459.9 329.5l1.8 -1.8M374 340.2l2.2 -1.6M362.9 343l1.3 -0.9M386.7 341.3l1.3 -2.4M388.9 341.6l0.9 -1.7M415.1 339.5l1.3 -2.5M408.3 339.4l0.7 -1.4M398 341.8l1.3 -1.8M358.3 345.4l0.7 -1.4M452.6 331.3l1.6 -1.6M383.8 341.5l0.9 -2.8M421.2 339l1.7 -1.6M423.6 338.7l1.1 -1.4M408.1 340.8l1.5 -1.1M361.7 343.4l1.4 -1.9M386.7 342.3l1.1 -1.3M443.1 333.5l2.5 -1.7M356.6 344.3l1.1 -1.4M379.8 341l0.7 -1.8M447.8 332.7l1.5 -0.9M406.2 340.5l1.1 -1.1M412.2 340.2l1.2 -1.4M363.4 341.6l1.4 -1.3M457.6 330.1l2 -1.6M375.5 339.7l1.2 -1.1M393.8 340.5l1.5 -1.4M377.2 341.2l1.8 -1.9M370.3 339.7l1.3 -1.8M412.2 339.6l1.1 -1.5M380.2 340.9l1.9 -1.9M405.8 340.7l1.8 -2.1M431.1 336l1.7 -2.3M380.6 340.6l1.3 -2M401.9 340.2l1.4 -1.7M389.8 342.7l1 -2.1M408.8 339.4l1.7 -1.8M457.8 330.3l1.7 -1.9M363.2 341.5l1.7 -1.3M420.7 339.3l0.6 -2M371.7 341l0.5 -1.5M420.6 338.1l0.5 -1.5M379.8 341.3l0.6 -1.8M409.1 340l1.3 -1.5M361.4 343l2 -1.1M440.3 334.6l1.9 -2M367.7 340.7l1.2 -1.4M448.9 333.1l1.4 -1.3M429.5 337.1l1.1 -2.1M393.8 341.7l1.6 -1.6M368 341.4l1.1 -1.4M369.3 339.7l1.6 -1.1M394.8 341.6l1.6 -2.3M390.8 341.8l1.3 -1.4M411.2 341.3l1.2 -2.4M434.9 336.8l0.9 -2.2M371.4 340.9l1.1 -1.2M446.7 332.6l1.1 -2.2M379.7 341.1l1 -2.3M394.3 342.2l0.8 -2.1M439.5 335.2l1.6 -2.3M406.1 340.3l1.2 -1.7M445.6 333l1.7 -1M440.8 334.5l1.1 -1.4M372.8 341.6l2.3 -1.9M415.3 339.1l0.8 -2.4M364.3 342.4l2.3 -1.4M456.7 330.1l1.7 -1.4M394.4 341.6l2.5 -1.4M378.5 341.4l1.3 -1.2M374.3 341.5l1.4 -1.7M368.9 340.9l0.9 -2.2M460 329.7l1.6 -1.1M389.2 341.1l2.5 -1.6M383.9 341.6l0.8 -2.7M404.3 341.8l1 -2.7M407.4 339.9l0.5 -1.6M446.8 332.6l1.2 -1.1M412.8 339.1l1.8 -1M360.1 345l1 -2.6M357.5 345l1.9 -2.1M418.2 338.9l1.4 -1M425.6 337.6l0.9 -1.5M366.6 341.9l1.8 -2M436.7 335.1l1 -1.5M392.9 342.3l1.5 -2.5M403.4 340.9l0.6 -1.8M451.8 332.6l1.8 -1.8M411.2 340.6l1.3 -1.8M453.5 331.2l2.1 -1.4M377.5 341.8l1.1 -2.3M446.8 332.5l0.8 -2.1M397.9 340.9l1.3 -2.2M417.4 339.7l1.2 -1.3M362.8 342.4l0.7 -2.1M357.7 345.2l1.7 -1.5M366.2 341.1l2.2 -1.6M431.5 336.6l1.3 -2.1M408.9 340l1.6 -1.6M396.7 340.3l1.7 -1.3M384 340.9l0.5 -1.6M362.7 343.2l1.8 -1.3M419.2 339.7l1.9 -1.4M430 336.2l2.1 -1.2M408.4 340.8l0.7 -2.2" fill="none" stroke="#111" stroke-width="0.8"/>
<path d="M423 330.5l3 1.5l2 -1.5l3 1M438 327l2 2l2 -1" stroke="#111" stroke-width="0.8" fill="none"/>
<path d="M326 338q4 -3 8 -1.5t7 -2.5t6 -0.5t6 -2.5t6 0.5l5 -0.5M336 346q3 -2 6 -1t5 -2M336 352.5q3 -2 6 -1t6 -2.5M326 345l5 -1M362 330.5l4 1l3 -1l3 1.5l3 -0.5l3 1" stroke="#111" stroke-width="0.8" fill="none"/>
<path d="M277.8 397.7L277.2 396.4L276.2 394.5L275.2 392.3L274 389.9L273 387.5L272.1 385.2L271.3 383L270.6 380.6L270 378.3L269.4 375.9L269 373.7L268.7 371.5L268.6 369.4L268.6 367.4L268.8 365.4L269 363.5L269.4 361.7L269.8 360.1L270.4 358.7L271.1 357.5L271.9 356.3L272.7 355.3L273.6 354.3L274.4 353.3L275.2 352.3L276 351.4L276.8 350.5L277.6 349.6L278.3 348.7L278.9 347.6L279.4 346.4L279.7 345.2L280 343.9L280.3 342.5L280.7 341.1L281.2 339.6L281.9 337.9L282.7 336L283.6 334L284.5 332.1L285.3 330.5L285.8 329.4" fill="none" stroke="#111" stroke-width="1.1" />
<path d="M285.8 329.4L286.2 330.3L286.7 331.4L287.4 332.8L288 334.4L288.7 335.9L289.2 337.3L289.7 338.7L290.1 340.3L290.6 341.8L290.9 343.2L291.3 344.4L291.5 345.3" fill="none" stroke="#111" stroke-width="1.1" />
<path d="M291.5 345.3L292.1 344.7L292.9 343.9L293.9 343L295 341.9L296.1 340.7L297.2 339.6L298.3 338.4L299.5 337.2L300.7 336L301.9 334.6L303 333.2L304 331.6L304.9 329.8L305.8 327.7L306.7 325.5L307.4 323.4L308 321.6L308.5 320.3" fill="none" stroke="#111" stroke-width="1.1" />
<path d="M308.5 320.3L308.9 321.1L309.4 322.3L310 323.6L310.7 325.1L311.4 326.7L312 328.2L312.6 329.8L313.3 331.5L314 333.3L314.6 335.1L315.1 336.9L315.4 338.5L315.5 340L315.4 341.4L315.1 342.8L314.9 344.1L314.7 345.3L314.7 346.5L314.9 347.6L315.2 348.8L315.6 349.9L315.9 350.8L316.3 351.6L316.5 352.2" fill="none" stroke="#111" stroke-width="1.1" />
<path d="M316.5 352.2L317 351.7L317.7 351L318.6 350.1L319.5 349.2L320.3 348.4L321.1 347.6L321.8 346.9L322.4 346.3L323.1 345.6L323.7 345L324.1 344.6L324.5 344.2" fill="none" stroke="#111" stroke-width="1.1" />
<path d="M324.5 344.2L324.9 345L325.4 346.2L326 347.6L326.6 349.1L327.1 350.6L327.5 352.2L327.7 353.8L327.9 355.4L328 357.2L328 358.9L328 360.7L327.9 362.4L327.8 364.2L327.7 366L327.6 367.8L327.4 369.6L327.1 371.2L326.8 372.7L326.4 374L325.8 375.1L325.2 376.1L324.6 376.9L324 377.7L323.4 378.4L322.8 379L322.1 379.5L321.4 379.9L320.8 380.2L320.3 380.4L319.9 380.6" fill="none" stroke="#111" stroke-width="1.1" />
<path d="M294.9 397.7L294.6 396.7L294.3 395.5L293.9 393.9L293.5 392.2L293 390.4L292.6 388.6L292.2 386.6L291.7 384.5L291.2 382.2L290.8 380L290.5 377.9L290.3 376.1L290.3 374.6L290.4 373.4L290.5 372.4L290.8 371.4L291.1 370.3L291.5 369.2L291.9 367.9L292.3 366.6L292.8 365.3L293.4 364L294.1 362.6L294.9 361.3L295.9 359.9L297.2 358.3L298.5 356.8L299.8 355.4L300.9 354.2L301.7 353.3" fill="none" stroke="#111" stroke-width="1.1" />
<path d="M301.7 353.3L301.9 354.2L302.2 355.4L302.5 356.8L302.9 358.3L303.4 359.9L304 361.3L304.8 362.6L305.7 364L306.8 365.3L307.8 366.6L308.8 367.9L309.7 369.2L310.5 370.4L311.2 371.6L311.8 372.7L312.4 373.8L312.8 375L313.1 376.1L313.2 377.3L313.2 378.5L313 379.7L312.7 380.9L312.4 382L312 382.9L311.5 383.7L310.9 384.4L310.2 385L309.5 385.5L308.9 386L308.5 386.3" fill="none" stroke="#111" stroke-width="1.1" />
<path d="M292.6 388.6L292.8 387.8L293.1 386.7L293.5 385.4L293.9 384.1L294.4 382.8L294.9 381.8L295.5 381L296.2 380.2L297 379.5L297.8 379L298.6 378.6L299.4 378.4L300.2 378.4L300.9 378.6L301.7 378.9L302.5 379.4L303.2 380L304 380.6L304.8 381.3L305.7 382.2L306.6 383.2L307.4 384.2L308.1 385.2L308.5 386.3L308.6 387.5L308.5 388.8L308.2 390.1L307.9 391.4L307.6 392.4L307.4 393.2" fill="none" stroke="#111" stroke-width="1" />
<path d="M308.5 389.7L322.2 386.3L323.4 393.2L310.8 395.4ZM292.6 397.7L309.7 397.7L321.1 396.6L323.4 401.1L312 404.6L301 402.5L294.9 403.9Z" fill="#111" stroke="#111" stroke-width="0.8" stroke-linejoin="round"/>
<path d="M312 390.5l8 -2M299 399.5l14 -0.5" stroke="#fff" stroke-width="0.7" fill="none"/>
<path d="M291.5 404.9h0.9M293.5 399.4h0.9M315.7 409.2h0.9M306.7 399.6h0.9M306.7 410.2h0.9M333.1 408.6h0.9M269.1 410.3h0.9M311.2 401.9h0.9M328.6 409.6h0.9M326.9 401.5h0.9M305.2 403.3h0.9M286.1 408.7h0.9M307.9 402.6h0.9M302.9 411h0.9M304.5 410.8h0.9M304.5 411.9h0.9M268 404.4h0.9M303.6 408.2h0.9M331.9 406.7h0.9M298.5 406.9h0.9M302.3 407.9h0.9M330.4 398.2h0.9M287.8 410.3h0.9M270.1 409.1h0.9M268.1 407.1h0.9M320.4 401.3h0.9M291.9 401.2h0.9M313.9 405.4h0.9M307.2 402.6h0.9M305.9 411.4h0.9M319 411.3h0.9M282.8 405.2h0.9M292.2 402.8h0.9M320.6 400.4h0.9M304 408.8h0.9" fill="none" stroke="#222" stroke-width="0.9" stroke-linecap="round"/>
<path d="M268 402l5 1M272 409l4 -2M322 408l2 -4M325 409l1 -5M320 411l6 0M274 405l3 3M277 404l1 4" stroke="#111" stroke-width="0.9" fill="none"/>
<path d="M77 362L77.5 388.3L81 394.3L84.5 388.3L85 362" fill="none" stroke="#111" stroke-width="0.9" stroke-dasharray="4.5 2"/>
<path d="M95 362L95.5 384.7L99.5 390.7L103.5 384.7L104 362" fill="none" stroke="#111" stroke-width="0.9" stroke-dasharray="4.5 2"/>
<path d="M469.7 357.8L470.2 384.3L473.8 390.3L477.4 384.3L477.9 357.8" fill="none" stroke="#111" stroke-width="0.9" stroke-dasharray="4.5 2"/>
<path d="M489.5 357.8L490 381.6L494.4 387.6L498.7 381.6L499.2 357.8" fill="none" stroke="#111" stroke-width="0.9" stroke-dasharray="4.5 2"/>
<path d="M514.6 357.8L515.1 387L518 393L520.9 387L521.4 357.8" fill="none" stroke="#111" stroke-width="0.9" stroke-dasharray="4.5 2"/>
<path d="M549 329L524 398.5L527 408L536.3 408L566 330Z" fill="#fff" stroke="none"/>
<path d="M549 329L524 398.5" fill="none" stroke="#111" stroke-width="1.1" />
<path d="M566 330L536.3 408" fill="none" stroke="#111" stroke-width="1.1" />
<path d="M524 398.5L524.4 398.7L524.9 399.1L525.5 399.4L526.2 399.8L526.9 400.3L527.6 400.7L528.3 401.1L529 401.5L529.6 401.9L530.3 402.2L530.9 402.6L531.6 402.9L532.2 403.2L532.8 403.5L533.4 403.8L534 404L534.6 404.2L535.2 404.3L535.7 404.4L536.3 404.4L536.8 404.4L537.3 404.5L537.7 404.5L538 404.5" fill="none" stroke="#111" stroke-width="1" />
<path d="M524 398.5L523.8 399.6L523.5 401.1L523.1 402.9L522.7 404.9L522.3 406.8L521.9 408.6L521.6 410.1L521.4 411.2" fill="none" stroke="#111" stroke-width="1" />
<path d="M521.4 411.2L521.9 411.4L522.6 411.8L523.4 412.2L524.3 412.7L525.2 413.1L526.2 413.5L527.1 413.8L528 414L528.9 414.1L529.9 414.1L530.8 414.1L531.8 414L532.8 413.8L533.6 413.6L534.4 413.3L535 413L535.4 412.5L535.8 411.9L536 411.2L536.1 410.4L536.2 409.7L536.2 409L536.2 408.4L536.3 408" fill="none" stroke="#111" stroke-width="1" />
<ellipse cx="557.6" cy="327.9" rx="8.7" ry="4.8" fill="#fff" stroke="#111" stroke-width="1.1" transform="rotate(6 557.6 327.9)"/>
<path d="M547 336.5q7 4.5 16 2.5M546 339.5q7 4.5 15.5 3M560 333.5l1.5 8" stroke="#111" stroke-width="1.3" fill="none"/>
<path d="M541 353.5l5 2.5M542 351l2 5M536 366l6 3M530 381.5l6 3M531.5 379l2 5M528 387l4 2M553 352l4 1M547 367l4 1.5M527 404l2 4M530 405l1 3" stroke="#111" stroke-width="1.2" fill="none"/>
<path d="M285.5 9.4L284.9 10.5L284.1 11.9L283.2 13.6L282.3 15.6L281.5 17.7L281 20L280.8 22.5L280.6 25.3L280.7 28.3L280.9 31.4L281.3 34.3L282 37L283 39.5L284.3 41.8L285.8 44L287.4 46.1L289 48.3L290.5 50.5L292 52.7L293.7 54.8L295.4 56.8L296.9 59L298.2 61.4L299 64L299.2 67L298.9 70.2L298.2 73.6L297.5 77.1L297 80.6L297 84L297.4 87.4L298.1 91L299.1 94.5L300.1 97.9L301.1 101.1L302 104L302.9 106.4L304 108.5L305.1 110.4L306.1 112.1L306.7 114L307 116L306.8 118.2L306.1 120.6L305.2 123L304.1 125.5L303 127.8L302 130L301 132L299.9 133.8L298.8 135.5L297.6 137.3L296.5 139.2L295.5 141.4L294.5 143.9L293.5 146.7L292.5 149.7L291.6 152.6L290.9 155.4L290.5 158L290.3 160.2L290.2 162L290.3 163.7L290.6 165.5L291.2 167.5L292 170L293.2 173L294.7 176.4L296.5 180L298.4 183.7L300.2 187.5L302 191L303.8 194.5L305.8 198.1L307.8 201.8L309.6 205.2L311.1 208.3L312 211L312.3 213.1L312.1 214.6L311.6 215.8L310.9 217L310.1 218.3L309.5 220L309 222.1L308.4 224.6L307.8 227.2L307.1 229.8L306.4 232.3L305.6 234.5L304.6 236.4L303.3 238.1L302 239.7L300.8 241.3L299.9 243L299.5 245L299.8 247.2L300.8 249.6L302.1 252.1L303.3 254.7L304.3 257.3L304.5 260L303.9 262.6L302.7 265.3L301.2 268L299.6 270.8L298.1 273.8L297 277L296.3 280.7L295.7 284.9L295.3 289.3L295 293.6L294.7 297.2L294.6 300L294.6 301.8L294.7 302.7L295 303.2L295.3 303.3L295.5 303.3L295.7 303.5" fill="none" stroke="#111" stroke-width="1" />
<path d="M281.5 18L280.3 19.7L278.6 22L276.6 24.8L274.7 27.8L273 30.8L272 33.7L271.6 36.5L271.5 39.4L271.7 42.4L272.2 45.3L272.9 48L273.7 50.5L274.8 52.7L276.3 54.6L278 56.4L279.6 58.2L281 60L282 62L282.6 64.1L283 66.2L283.1 68.4L283 70.7L282.7 73.2L282 76L280.9 79.2L279.2 82.8L277.3 86.6L275.3 90.5L273.5 94.2L272 97.6L270.7 100.7L269.5 103.6L268.5 106.4L267.6 109.1L267.1 111.8L267 114.5L267.4 117.3L268.4 120.3L269.7 123.2L271.1 126L272.5 128.6L273.7 131L274.9 133L276.1 134.6L277.4 136L278.5 137.4L279.3 139L279.7 141L279.5 143.3L278.8 145.7L277.8 148.3L276.7 151.1L275.7 154.4L275 158L274.6 162.4L274.3 167.5L274.1 173L274 178.4L273.8 183.4L273.6 187.5L273.2 190.6L272.7 193L272.2 194.9L271.9 196.7L271.7 198.6L272 201L272.6 203.9L273.6 207L274.8 210.3L276.2 213.6L277.8 216.9L279.6 220L281.9 222.9L284.8 225.6L288 228.3L290.9 231.1L293.2 234.1L294.6 237.4L294.7 241.2L293.9 245.4L292.5 249.8L290.9 254.2L289.4 258.5L288.3 262.4L287.6 266L287 269.4L286.4 272.6L286 275.8L285.8 278.9L285.8 282L286 285.3L286.5 288.7L287.2 292L287.9 295.1L288.8 297.9L289.6 300L290.6 301.3L291.9 301.8L293.3 301.9L294.5 302L295.4 302.4L295.7 303.5L295.2 305.5L294.2 308.2L292.7 311.3L291.2 314.3L289.9 316.8L289 318.6" fill="none" stroke="#111" stroke-width="1" />
<path d="M142.8 190.7l-4.1 3.5M97.1 302l1 5.4M110.4 256.9l-2.4 4.7M100.8 265.6l0.2 3.4M101.8 268.3l0.9 5.6M137 202.8l-2.2 2.7M134.5 204.9l-1.3 5.5M99 289.9l0 3M139.6 200.6l-2.5 5.1M101 284.7l-2.3 5M148.1 186.8l-5.4 2M104.9 267.8l-0.6 3.4M118.4 221.7l-1.6 3.4M107.4 234.8l-1.2 3.9M94.1 287.5l-2.2 4.5M91.5 292.5l-0.1 3M98.6 264l-0.4 5.3M112.1 247.3l-1.1 4.2M93.1 297.2l-1.9 2.9M97.1 298.8l1.9 5.4M101.7 253.4l-0.2 5M139.8 202.2l-2.5 2.3M104.1 255l-0.2 5.4M121 215.4l-2.5 3.2M130.5 198.7l-2 3.3M98.7 270.3l0.4 4.3M106.6 249.4l-2.9 4M107.1 244.6l-1 3.1M94.9 292l-1.7 5.3M100.2 275.4l-0.7 3.6M122.4 220l-1.5 4M92 307.4l0.1 5.5M137.8 195.1l-3.7 2.9M126 217.9l-4.5 2.1M101 267.6l0.3 4M133.6 203l-4.9 2.9M143.4 193.6l-3.9 2.9M102.3 286.2l-2.3 5.1M109.5 255.2l-2.1 3.2M113.6 236.5l-0.3 5.5M97 279l1 5.9M122.2 212.8l-4.4 2.7M96.5 297.8l-2.6 3M97.8 281.3l-2.1 5.3M143.7 190.7l-2.9 3M94.8 277.5l-1.5 4.5M112.1 249.9l-3.2 3.8M110.4 229.8l0.1 5.8M113.5 230.1l-3 2.6M104 256.6l-1.2 4.2M148.5 187.7l-3.9 3.1M128.3 201.9l-2.4 4.8M135.4 195l-2.7 2.8M139.5 196.1l-2.3 2.1M89.4 299.7l0.5 3.2M101.3 290.1l-2.1 3.3M89.3 299.1l0.1 4.3M90.1 292.1l-0.7 3M124.2 213.5l-3.3 2.5M96.9 277.7l-0.9 3.3M126.8 211.1l-3.1 2.6M128.2 203.2l-4 3.7M127.2 210.3l-2 5.6M116.2 218.8l-2.2 5M108.9 232l0.1 5.5M87.6 306.5l-1.2 4.1M116.6 226.8l-1.1 3.5M118.9 214.8l-2 4.5M114.4 233.4l-1.8 5.2M140.4 193.8l-2.9 0.8M139.5 199.6l-3.7 3.5M117.1 227.1l-1.1 3.4M130.1 209.6l-2.4 2.7M145 184.6l-3.3 1.5M112.2 246.6l-1.5 3.6M122.5 221.3l-3.2 2.9M125.3 216.3l-3.4 1.9M110.7 243.8l-1.4 3.3M100.7 267.6l0.7 3.8M142.9 195.9l-2.7 2.2M122.1 212.8l-2.6 4M143.5 185.3l-2.7 3.7M102.7 273l-1.5 5.5M129.5 212.9l-3.5 3.1M103.3 275.9l-3.6 3.7M97 278.8l-0.5 3.6M104.9 249.8l-0.6 5.2M113.3 222.1l-0.7 5.7M97.1 271.6l-0.9 4.8M99.2 262.9l0.1 3.7M116.7 232.1l-1.5 3.8M113.4 239.4l-1.5 3.8M141.7 194.6l-1.9 3M106.7 241.2l1.2 5.5M114.8 228.8l-0.7 3.7M95.6 275l-1.8 3.2M112.5 236.2l-1 5.5M106.4 259.5l0 4.9M107.4 252.7l-0.8 3M98.6 262.8l-0.2 3.3M97.7 288.2l-3.5 4.7M111.7 223l-3.3 4.5M93.5 291.4l-1.3 3.8M98.2 298.7l-0.1 4.2M147 191.5l-1.7 4.1M106.3 241.9l-1.2 5.7M97.2 292.4l-1.2 5.8M99.4 278.6l0.5 5.8M91.5 293.7l-1.3 4.7M106.8 260.5l-1.1 5.1M91.2 302.1l-1.4 5.2M108.9 247l-2 3.4M113.6 236.3l0.5 3.5M102.7 282.5l-2 3.8M148.5 189.6l-2.1 4.5M113 237.9l-1.9 4.4M93 305.2l-0.5 5.8M119.3 225l-1.2 2.9M142.7 193.6l-2.9 2.5M114.4 248.3l-1.6 3.3M91.4 287.9l-1.9 4.6M97.2 271.2l-1.3 5.7M92.2 307.9l-1.3 4.3M95 294.2l-1.6 5.3M132.8 195.6l-3.5 2.8M106.3 242.8l-1.8 3.8M134.5 195.8l-3.8 1.9M95.9 271l0.4 5.8M106.5 260.9l-2.9 3.5M106.3 239.8l-0.6 3.4M91.9 296.9l-0.1 3.4M102.9 252l0.6 4.4M140.1 201.3l-4.1 3.2M126.7 210.6l-3.9 3M97 289.3l-1.9 5M92.1 285.3l-1.2 3.4M107.9 266.6l0.3 3.6M91 294.1l-1.8 3.6M113.1 239l-0.8 4.6M141.9 194.8l-1.3 3.6M93 307.9l-1.7 4.4M93.7 291.8l-1.2 3M100.2 277.3l-0.7 4.1M104.5 251l-0.4 4.8M103.3 248.8l-2 3.7M104.1 248.5l0.4 3.1M107.6 230.3l-3.4 4.7M106.3 271.8l-2.6 5.1M143.6 198.4l-3.4 1.5M105.1 276.1l-3.6 4.4M106.2 249l0 5.4M137.6 201.5l-2.2 3.4M136.1 208l-3.2 2.9M100.8 291.1l-0.7 3.6M126.1 218.1l-3.4 2.8M142.1 200.2l-2.9 1.7M121.2 219.2l-2.2 3M144.7 195.5l-4.6 1.2M106.4 249.7l-1.3 3.7M110.1 250.2l-3 4.2M109.5 238.1l-3.3 4.8M106.3 267.2l0.7 3.7M144.2 193.4l-3.3 2.3M91.9 304l0.3 3.6M134.5 197.9l-4.2 3.9M108.3 239.4l-2.7 4.3M110.6 250l0.3 3.8M105.3 249l-1.7 4.4M103.5 249l0.1 4M109.3 256.5l-0.5 5.5M148.5 187.2l-5.2 2.3M111 253.5l-1.5 3.2M141.8 194.2l-3.5 2.3M103.7 273.5l0.4 5.7M123.6 220.5l-3.2 3.6M92 289.3l-0.5 5M108.6 234.4l-1.8 4.9M92.5 283.2l-0.2 3.6M130.3 202.3l-2.8 3.9M106.3 271l-2.8 4.2M124 220.4l-4.5 3.5M117.7 225.1l-1.9 2.4M109.2 230.7l-1.5 5.2M115.5 231.6l-0.3 4.5M113 236.3l-0.1 3.1M147.8 187.1l-5.2 1.1M107.7 255.9l-0.8 5.6M105.5 269.1l-3 5M139.3 203.6l-3.7 3.5M99.5 270.7l-1.5 3.4M124.3 206.4l-2.8 3M98.9 284.9l-0.5 3.8M112.2 223.6l-3 4M107.9 238.9l-1.3 5.5M106.8 233.3l0.2 4.5M105.9 245.2l-2.6 3.4M111 229.5l0.5 5.5M94.7 306.8l-1.3 2.8M95.7 301.5l0.8 3.8M138 204.3l-4.1 2M99.5 288.7l-0.6 3.4M114.6 221.1l-1.2 4.2M106.4 248.7l0.4 4.1M108.5 233.9l0.2 4.1M125.2 204.7l-2.6 5.2M136.9 200.4l-1.5 5M114 235.4l-1 3.2M100.9 275.6l0.2 4M134.4 199.3l-2.2 2.4M125.6 219.9l-3.5 4.7M98.1 273l0.2 5.3M116.7 216.2l-2.6 4.2M145.1 195.1l-3.8 3.8M102 263.9l-1.6 2.9M106.8 267.5l-0.7 5M108.2 255.5l-0.7 4.6M110.9 228l-0.8 5.6M133.9 208.6l-3.4 3.7M120.4 224.7l-0.8 5.4M108.4 237.9l-2 3M140.5 193.8l-2.3 5.3M97.5 295.5l-2.7 3.4M118.2 227.7l-3.7 4.4M90.9 301.1l-1.9 4.9M140.2 189.8l-4 3.5M101.3 288.4l-3.1 4.3M110.8 230.8l-1.1 3.7M147.7 192.5l-2.3 3.2M113.8 233.3l-1.3 5.2M103.5 259.8l0.4 4.9M96.8 292l-2.5 3.9M147.9 191.1l-5.2 2.7M121.6 218.2l-3 1.7M104.3 264.2l-2.4 3.4M116.9 233.9l-1.2 2.9M93.9 292.6l0.7 4.1M96.8 277.8l-0.8 3.1M141.9 195.2l-5.3 2.3M110.5 229.8l-1.8 3.6M150.1 192.5l-3.6 0.7M102.4 249.8l0.4 4M96.9 292l-3.1 3.9M102.8 282.9l-0.1 3.7M91.2 306.4l0.3 3M105.5 252.4l-2.1 4.2M116 229.4l-2.8 3.8M117 226.6l-2 3.9M99.8 269.9l0.6 5.8M101.1 264.7l-3.4 4.5M137.8 202.3l-5 2.5M98 276.8l-3.1 5.1M93.4 292.6l-1.7 5.5M106.1 256.8l0.5 5.5M102.8 263l-2.7 4.8M93.6 288.9l-3.2 3.6M135.6 205.3l-3.3 5M108.6 269.1l-2.2 2.5M102.1 258.6l-0.8 3.7M99.9 263.3l1.1 5.7M102.9 275.4l-1.4 2.9M117.2 234.3l-3.6 4.3M105.2 276.9l-2.2 3.4M97.1 305.4l0.6 4.1M108 228.5l-1.9 4.2M104.7 247.6l-2 2.5M118.2 215.5l-1.8 5.6M129.4 217.8l-3.7 2.4M126.6 204.9l-1.5 4.9M129.2 203.5l-3.5 4.8M123.9 215.2l-3.1 2M115.3 227.4l-2.7 2.4M139.3 203.2l-3.7 4.2M90.4 300.6l-2.3 3.6M97.2 284.5l-2.3 3.1M91.8 281.1l0.6 5.1M91.4 290.4l-1 4.7M120.8 224.1l-1 2.8M122.5 209.3l-3.4 2M92 300.5l0.5 4.7M148.6 188.2l-4.8 1.3M94.9 276.7l-0.1 4.3M92.6 293.1l-0.1 4.4M99.6 288.7l-0.8 3.4M108.1 259.6l0.1 3.3M111.2 223.3l-2.4 3.8M96.7 299.3l-1.3 3.9M91.4 290.7l-1.8 3.8M148.5 187.8l-4.2 2.3M108.1 252.7l-2.5 2.9M99.7 297.1l-3 3.5M102.7 264l-2 5M98 275.6l-2.9 5.3M106.3 256l-1.3 4.4M131.5 210.4l-1.3 3.8M146.2 186.3l-1.5 3M100.7 284.5l-2.4 5.3M117.3 221.6l-2.5 4M108.2 238.5l1.4 4.3M111.7 223.9l-2.8 2.9M107.9 266.9l-0.7 4.8M114.6 235.4l0.7 5.7M142.5 188.3l-3.5 4.5M105 240.9l-1 2.9M123.6 218.8l-1.7 5.1M111.9 258.6l-3.1 4.2M111 263l-3.8 4.3M125.9 214.4l-2.9 3.8M100.6 288.3l-2.1 4.4M104.6 266.7l-2.9 4.8M103.2 245.6l-0.2 4M95.6 300.3l1.2 4.2M124.1 205.4l-1.7 2.9M123 216.3l-2.8 1.6M133.8 194.1l-0.9 3.1M134.4 201.9l-4.1 4.2M109.2 257.4l0.3 4M94.6 307.8l-0.6 5M149.6 191.4l-4.9 3.4M129.2 210.7l-2.1 2.2M99.3 286.2l-0.1 4M103.4 264l-2.4 3.2M115.1 220.4l-4.1 1.8M118.1 216.9l-0.8 3.5M148.3 187.4l-4.6 2.2M134.8 194.7l-1.2 3.8M106.6 257.2l-1 4.6M88.4 297.9l1.1 4.5M105 242.1l-1.9 4.8M108.5 225l-0.1 3.4M138.4 197.5l-2.2 4.1M103.2 254.9l-0.7 4.9M105.8 265l-2.3 2.6M105.8 275.1l-1.5 5.4M99.5 279.6l-1.6 5.5M114 231l-2 5M108.2 233.2l1.6 5.7M130.9 207.6l-1.1 5.9M125.2 215.1l-1 2.9M105.8 241.6l-0.8 4M127.7 202.7l-0.4 3.8M103.2 277.5l0.2 3.8M100.3 264.6l1.1 5.4M126.1 214.5l-3.8 3.2M98.1 298.9l-0.5 3.6M130.7 203.5l-1.5 5.6M108.4 248.1l0.6 3.9M114.3 226.1l-0.9 4.7M128.7 205l-0.6 3M134.3 203.2l-3.3 2.1M139.3 198.9l-1.7 3.7M100.3 282.3l-4 4.2M147.6 187.8l-3.7 1M107.7 229.9l-0.8 3.7M103 253.4l-2 3M98.8 291.2l0.4 5M97.2 289.5l-3 4.3M99.1 281.9l-2.5 2.6M93 283.2l0.5 4M137.3 195.5l-4.8 3.5M94.5 300.5l-0.6 3M96.4 296l-3.3 4.1M97 295.1l0.2 4.8M114.9 238l-0.2 5.2M111 231.1l-1.6 5.3M99.7 287.9l-1.6 4.9M118.4 227.2l-0.4 3.9M95.7 280.3l-1.6 4M98.9 277.4l-1.4 5M93.5 298.2l-0.4 5.1M122.1 215l-4 1.6M123.1 212.3l-3.4 2.9M140.9 187.4l-3.3 3M116.2 223.5l-2.4 3.1M93.5 294l1.2 5.5M107.1 249.6l-0.5 4.5M108.7 237.3l-1.2 4.2M116.1 226.6l-3.2 2.2M107.2 262.4l-0.5 4.2M115.4 229.5l0.2 3.4M102.2 282.6l-0.1 4M100.3 292.8l-0.9 4.6M144.1 185.1l-4.5 3.1M97 275.7l0.9 5.8M116.1 236.8l-1.4 5.5M101.6 267.7l-1.6 3.5M141 193.2l-2.2 4M96.2 277l-0.3 4.4M149.1 189.1l-4.3 1.1M132 196l-3.1 4.4M119.7 213.8l-1.5 5.1M93.5 295.7l-2.2 3.8M141.9 198.3l-3.3 4.5M139.5 194.4l-1.2 3.3M133.9 196.3l-3.1 3.7M98.8 279.5l-0.9 3.2M103.4 275.4l-1.9 3.2M136.2 202l-5 3.1M116.2 229.4l-0.6 4.9M137.9 191.9l-2 4.1M116.2 232.6l-0 3M100.9 282.1l-1.3 3.7M135.6 205.5l-0.7 3.9M103.9 245.6l-0.4 4.3M103.8 276.8l-2.1 2.6M101.6 276.2l-4 4M104.3 248.1l-0.3 4M108 259.3l0.1 3.8M101.4 254.1l-1.3 3M122.9 210.1l-3.2 1.3M127.2 216.7l-1.3 2.9M96.7 296.7l-2.8 5.2M108.6 239.1l-1.1 2.9M105.9 238l-0.7 4.4M125 211.7l-2.7 4.8M116.2 216.3l-2.2 3.3M98 275.7l-2.5 5.3M146.3 186.7l-3.3 3.6M132.9 207.4l-3.3 5M112.4 227.8l-0.4 5.1M94 307.6l-1.2 5.4M96.8 307.9l1.1 3.3M109.9 230.9l-2.1 2.6M127.8 205.2l-2.1 5.6M128.6 199.7l-3.3 3.6M126.7 210.2l-0.6 3.3M98.1 286.3l0.4 3.3M102.7 275.9l-0.8 4.1M114 247l-1.1 3.6M110.1 231.4l0.9 4.9M110.7 247l-3.2 3.8M93.7 283l-2.8 3.8M93.8 307.2l1.7 4.2M103.6 266.3l-1.6 5.4M141 195.5l-2.1 3.1M105.4 239.4l-2.1 3.6M131 204.7l-1.7 3.3M131.8 201.1l-3 2.8M98.2 267.1l-1.3 2.8M137.8 202.5l-2.2 4.3M102 274.8l0.1 4.1M125.4 205.1l-3 4.5M91.3 293.5l0.1 3.1M116.8 225.7l-2.3 3.8M124.3 221.3l-2.9 3.5M95.8 268.8l0.9 5.8M100.7 254.8l-0.5 3.6M109.8 224l-2.1 3.5M102.1 277.5l0.3 3.1M119.1 216.9l-1.5 4.6M87.9 301.6l-0.4 5.5M109.7 225.7l-1.4 4.8M93.9 296.5l0.6 5.1M147.2 197.4l-5.6 1.9M144.9 184.6l-4.1 3.6M105.1 264.1l0.1 4.7M98.5 259.7l0.7 4.6M148.3 191.6l-4.3 4M113.5 228.2l-0.5 4M101.3 289.1l-2.6 5.1M136.3 202.5l-4.6 2.6M97 299.3l-1 4M103.9 259.9l0.6 5.1M101.2 286.2l-3 4.2M95.6 289.1l-0.4 5M119.9 215l-4 4.1M104.4 268.8l-0.1 3.5M107.4 243.6l-0.3 5.3M113.7 244.8l0.2 5.3M97.8 266.9l0.4 3.4M128 208.5l-5.3 2.5M107.6 252l-2 4.1M93.1 282.6l-1.3 4.8M106 271.1l-1.6 4.2M120.9 216.1l-1.9 5.5M111.7 220.9l-1.4 2.8M114.4 241l-1 3.3M132.1 198.9l-1.9 2.7M98.1 288.2l-1.9 3.3M136.4 205.1l-4.6 3.1M96.4 278.4l-0.9 4M96.7 299.4l-0.8 3.7M108.6 251.9l-2 2.5M99.4 260.7l0.2 3.2M115.1 219.8l-1.8 4.7M99.3 262.1l-2.1 4.7M101.4 263.7l-1 3.2M102.3 261.4l-1.1 3.2M111.2 247.4l-0.3 3.8M146.4 195.3l-4.2 2.4M96.7 274.9l-3.4 3.6M110.7 258.7l-0.4 4.1M132.6 211.3l-3.4 2.1M95.9 306.9l-0.8 5.1M107.1 227.8l0.3 5.7M105.4 261.4l-2.2 2.1M112.4 231.1l0.6 4.6M124.5 212.9l-1.8 5.3M109.7 260l-3.2 4.9M120.2 213.7l-3.5 4.4M147.5 190.8l-3.1 1.8M99.4 262.1l-1.4 5M96.5 282.4l-2.3 2.2M93.5 300.7l-1.8 4.4M95.7 284.2l-1 5.5M108.1 236.1l-2.5 3.9M135.1 207.2l-1.8 4.2M113.9 245.3l0.5 4.6M96.9 298.9l-0.4 3.2M147 195.9l-4.8 1.9M148.6 188.9l-1.9 3.3M103 251.4l-1.2 5M102.3 265.7l-1.2 3.7M146 190.6l-4.7 2.6M141 192.3l-2.7 1.6M120.9 222.4l-2 5.4M140.7 192.8l-2.7 3.7M105.6 273.2l-1.4 4.7M101.4 264l-1.1 4.5M124 218.2l-4 1.6M97.3 269l0.2 3.5M102 286l-1.9 3.2M130.4 200.4l-1.4 3.3M98.9 289.9l-2.6 4.6M97.6 298.5l-1.5 4M116.4 228.7l-2.4 4.6M133.4 201l-3.7 1.9M111 222.8l-1.4 2.9M138.5 194.1l-2.8 3.6M95.8 274.3l-2 2.5M139.2 197.7l-5.5 2M135.3 197.9l-1.5 4M132.7 198.3l-5.1 2.3M111.2 226.3l-1.1 3.2M108.7 229.2l-1.6 3.5M92.7 291.9l-0.8 4.7M125.8 208.9l-2.5 2.9M129 200.9l-2.9 2M125.3 208.4l-1 4.4M113.1 239.3l-1.2 3.9M108.2 240l-1.6 3.3M112.5 222.1l-3.2 5M109.8 235.2l0.9 4.3M147.5 195.7l-2.7 1.6M119.3 218.2l-1.3 5.5M115.2 230.9l0.5 5.8M131.9 213.4l-3.4 2.3M109.4 225.8l-2.6 3.8M97.5 291l0.4 4.7M92 306.2l-1.5 3.3M148.3 191l-4.9 1M106.3 237.6l-0.3 5.4M138.6 200.1l-1.3 5.3M103.6 244.1l0.9 5.3M113 229.2l-0.5 5.1M95.9 285.5l-0.9 3.1M111.8 253l-0.4 5M104.9 255.5l-1.4 4.6M111.8 232.7l-0.1 5.7M144.3 184.7l-2.3 4M95.4 306.9l-2.3 4.9M112.7 248.9l-0.1 4.3M133.7 203.2l-2.6 1.6M90 306.6l-0.9 4.5M91.6 291.2l-2.2 2.9M95.3 289.8l-2.9 5M130.9 207.4l-3.6 4.6M105.2 240.7l-0.3 3.6M98.7 284.4l0.5 5.1M142.6 193.3l-1.8 4.1M100.2 257.8l0.5 4.6M138.6 199.5l-3 2.7M112.1 246.7l-1.1 5.5M95 282.7l-2.3 5.5M99 276.2l-0.6 5.6M101.1 253.9l-1.1 5.5M109.7 251.2l-0.7 4.9M111.8 242.7l0.5 4M129.6 209.4l-3.2 1.7M88.8 298.3l-0 5.8M93.4 297.2l0.9 3.7M108.1 240l-1.1 3.4M109 250.8l-1.9 2.7M117.2 223.4l-2.2 2.4M110.6 233.5l-1.5 5.5M102 286l-1.4 3.3M93.5 283.5l-1.8 3M108.8 237.4l0.2 4.4M136.3 199.6l-2.7 1.4M108 237.4l-1.2 4M104.6 245.1l-1.4 3.2M112.1 245.3l0.6 3.9M136.7 202.3l-4 4.1M107 232.6l-2.4 2.7M94.2 304.4l1.2 3.4M94.8 272.5l0.3 4.1M93.2 297.8l0.8 4.3M96.1 293.6l-3.5 4.3M96 286.6l0.5 3.7M117.2 222.1l-1.2 3.8M101.1 280.4l-0.4 3M96.7 299.7l-1.2 5.3M92.2 296.6l-0 4.1M105.3 278.8l-3.3 3.5M145.8 190.2l-1.9 3.4M128.5 213.4l-1.8 5.1M103 273.8l-0.6 4.4M110.7 244l-2.7 5.4M93.9 288.1l-1.3 3.5M95 279.8l-1.3 4.7M128.9 216l-3 2.3M114.8 235l-3.3 4M130 199.5l-2.8 3.5M120 223.7l-2.8 3.7M104.7 247.4l-3.1 4.7M99.1 268.1l0.4 4.2M88.5 305.9l-1.6 3.4M129.9 206.4l-1.3 4M147.7 194.4l-5.7 1.4M108.8 229.1l-1.9 5.6M114.3 226.7l-1.8 3.2M100 274.2l0.1 4M103.5 272.6l-1.4 4.5M118.2 223l-3.4 1.9M104.4 250.6l-0.8 3.1M99.3 275.1l0.2 3.9M116.6 230.2l-2.5 2.8M143.1 191.3l-3.8 3.2M148.4 188.8l-2.9 1.6M94.7 308.8l-0 3.2M129.5 204.5l-4.4 2.4M101.3 283.7l-2.6 4.8M137.2 192.4l-4.8 2.3M110.2 229.9l-2.4 2.8M134.5 198.6l-3.8 2.8M91.9 290.3l-2 2.5M106.2 232.3l-0.7 3.3M139.8 198.4l-3 4.3M133.7 198.5l-3.9 4.5M114.4 227.3l-2.4 4.2M106.5 271.4l-0.5 4.2M109.1 268.3l-3.3 4.1M92.9 292l-3.4 3.9M115.3 242.2l-1.9 3.4M109 260.2l-2.7 4.2M90.1 299.2l-2.4 4.1M145.2 188.8l-3.4 3.1M114.4 230.3l-1.2 3.7M136.7 191.8l-2.2 5.1M139.2 192.3l-2.6 1.6M138.6 204l-5.4 2.6M102.9 269.5l-2.2 2.9M94.4 307.1l-2 4.2M123.2 208.4l-1.1 3.8M90.9 295.6l-2.3 5.1M140.2 198.9l-1.7 5.2M130.9 200.8l-2.3 2.4M101.1 253l0.9 5.8M96.1 277.8l-3 4.2M108.3 229.2l-1.7 3M115.8 220.7l-2.5 3.4M145.3 187.3l-4.6 1.5M122 221.3l-1.4 3.7M117.3 227.7l-2.4 4.1M112.1 242.8l-0.8 3.7M98.5 280.7l-0.1 3M112.2 239.5l-1.6 3.1M110.5 237.5l-1.2 4.6M113.7 249.3l-2.8 3.4M93.3 307.8l-1.9 4.7M97.5 293.5l-0.6 3.8M98.5 279.2l-0.6 6M122.5 213.3l-3.1 3.3M100 265.1l-2.4 5.4M105 257.6l0.5 5.5M117.4 217.3l-3.6 2.3M103.3 262.5l-2.2 3.6M111 258l-1.9 3M100.6 258.3l0.6 3.9M138.6 191.4l-2.4 2.4M117.3 224.4l-1.3 3.7M89.3 307.4l2 5.1M129 213.5l-4.6 3.4M101.5 275.9l0.3 5.9M111.5 220.7l-1.1 3.1M135 200l-3.2 1.3M114.5 230.5l-2.2 3M131.8 210.9l-2.7 2.3M96.3 275.6l-3.2 4.1M94.9 278.3l0.1 5.8M125 204.9l-0.8 3.1M114.5 219.1l-2.7 4.7M97.1 296.9l1.1 3.7M135.5 195.8l-1 3.1M121.1 212.8l-4.8 3.4M102.7 256.8l-0.1 5.6M117.9 213.8l-1.8 5M111.9 228.6l-0.7 5.3M125 219.4l-0.9 3.7M110.6 246.6l-1.2 2.8M136.5 203.6l-3.7 4.3M98.1 292.3l-3.1 3.8M111 238.4l-3.5 4.7M98.2 283.5l-0.8 3.9M102.3 254.6l-3.3 4.3M103 280.8l-1.4 5.3M90.4 291l0.1 3.3M138.5 193.3l-2.6 5.3M112.6 227l-0.2 5.5M93.3 304.2l-0 5.7M114.1 220.3l-2.9 3.7M110.4 227.4l-3.6 3.1M109.9 227.6l-2.7 2.6M130.3 211.1l-2.7 2.6M114.3 244.1l0.1 4.2M143.5 186.5l-2.8 1.2M113.7 225.2l-3 2.4M124.6 217.7l-2.9 1.5M111.8 240l-2.6 4.2M129.5 215.1l-1.8 3.1M93.1 289.3l-2 2.8M109.2 263.4l-2 5.5M110.2 253.5l-1.7 2.7M87.3 299.5l1.2 5.3M100.3 295l-1.1 3.8M94.1 275l0.4 5M102 253.3l-1.9 4.8M133.7 209.6l-0.6 3.5M94.7 299.5l-0.6 3M102.2 255l-1.3 3.8M145.7 185.1l-1.7 4.1M121.1 217.1l-2.8 3.1M110.9 232.3l-1.9 2.8M93.7 294l-1.1 5.1M128.8 205.1l-0.4 3.1M121.2 213.2l-2.3 2.1M102.5 283.8l-0.6 5.8M90.4 292.2l-1.9 2.7M145.3 189.8l-5.7 1.5M98.3 299.9l-0.6 5.5M89.7 303.6l-1 3.9M98.4 265.5l0.6 4.5M113.8 227.1l-2.1 5.6M108.7 263.6l-0.3 5.5M148.8 192.5l-5.6 1.7M144 190.1l-1.5 2.9M105.2 273.5l-3 3.3M115.3 234.5l-1.6 5.5M142.5 199.9l-4.1 1.9M92.7 307.5l0.5 5.5M92.7 303.3l-2.1 3.2M126.5 214.6l-5.5 2.3M103.7 261.7l-1.1 3.3M133.5 201.7l-1.8 5.1M108 243.1l-1.7 3.9M105.9 265l-1.1 3.2M109.3 247.5l1 5.7M141.8 190.6l-2 3.8M96.3 301.1l0.4 4.8M101.7 278.4l-2 2.3M124.3 217.8l-1.6 5M98.2 263.1l-0.6 4.5M101.3 263.9l-3.1 4M101.5 285.5l-2.5 3.7M115.4 243.3l-2.2 3.6M127.7 200.6l-2.5 3.6M147 191l-4.2 2M90 298.1l-1.8 4.2M99 287.2l-2.9 3.2M101.5 274l-2.5 2.4M103.7 273.8l-0.6 4.8M98 263.4l-0.1 3.9M132 199.5l-1.6 4.4M131.8 213.9l-2.6 1.8M107.6 244.2l0.6 4.3M109.6 254.3l-1.2 3.2M98.7 269.4l-2.9 5.1M131.9 205.7l-5.2 2.8M101.4 282.5l-2.8 2.8M109.9 246.4l-1.2 5.2M106.6 236.5l-3.3 4.8M87.4 308l-0.3 3.4M121.7 210.7l-0.7 3.1M105.6 276.5l-1.8 4.4M151.3 193.6l-3.9 1.1M104.8 272.8l0.8 5.7M140.4 188.7l-3.9 2.3M102.5 278.2l-1.4 3.4M94.2 297.8l0.1 4.4M92.7 307.3l0.5 3.8M136.5 196.8l-4.1 3.2M110.1 234.1l-0.7 4.2M102 261l0.6 4.1M128.7 211.7l-1 2.8M116.7 218.2l-1.4 4.1M95.5 299.6l0.1 5.3M137.7 204.5l-2 2.7M146.6 185.7l-3.1 3.3M109.4 237.2l1.2 5.1M113.9 234l-1.8 3.8M133.8 198.9l-1.8 5.5M100.7 276.6l-1.2 3.5M109.9 237.5l-0.7 4.4M116.4 229.1l-0 5M107.4 239l0.6 5.4M133.6 210.8l-4.2 4M90.4 293l0.6 3.8M111.4 254.1l-3.6 3.9M101 254.3l-0.1 4.9M104 265.6l-1.8 4.8M105 264.4l-1.9 3.5M105 270l-2.6 3.1M111.4 237.3l-0.3 5.3M124.4 210.1l-2.7 4.2M94.1 288.4l0 3.3M94.4 288.2l0.9 4.1M114.8 232.2l-0.4 3.6M135.7 197.3l-1 3.6M107.8 265.5l0.2 3.7M93.6 289.6l-1.6 4.8M105.6 237.7l0.4 5M108.9 253.1l-1.4 5.1M142.1 191.7l-2.5 1.7M109.7 243l1.8 5.2M110 248.6l-2.8 5.3M92.5 292.9l-1.9 4.5M90.7 301.3l-0.2 4.9M106.9 245.2l-1.2 3.9M142.5 187.5l-2.8 3M102 257.4l-0.9 3.7M119.6 222.1l-4.6 1.9M88 305.9l0.3 3.4M104.9 249.8l-1.2 5M123.3 223.1l-2.8 4.1M94.5 292.2l0.3 3.1M97.2 269.1l0.2 5.7M117.9 215.5l-4.6 2.5M97.8 268.2l-2.7 4.6M100.9 265.7l-0.3 3.3M121.5 219.2l-2.2 3.3M133.6 206.9l-2.6 4.7M103.3 283.7l-1 4.2M105.2 268.1l0.3 5.5M102.7 280.3l-0.9 4.2M132.9 208.5l-1.9 3.7M136.8 205.3l-5.1 2.9M114.7 237.5l0.6 4M100 266.5l1.2 5.9M101.9 267.2l-0.4 5.1M132.6 209.1l-3.6 3.5M111.8 243.5l0.9 4.6M120.3 218.8l-3.7 3.9M107.7 241.5l-1.2 4.9M140.6 197.3l-3 4.4M107.8 259.7l-1.8 2.4M124.1 222.8l-3.4 2.3M108.9 264.1l-3 3.6M126.6 213.3l-2.9 1.4M140.5 198.1l-1.9 3.6M109.4 256.1l-2.2 3.6M91.8 292.3l-1 3.3M133.2 197.4l-2.9 3.5M108.6 261.6l-2.4 3.5M112 243.2l-3.4 4.6M93.5 284.2l0.8 4.8M127.7 211.9l-3.1 2.4M116.8 219.3l-4.7 2.9M114.5 231.7l-2.9 2.5M89.5 308.4l1.2 3M103.4 280.7l-2.7 3.2M105.5 256.5l-2.7 4.8M107.8 260.6l-0.5 5.7M95.7 289l-1.8 2.6M97.2 298.1l-1.2 4.8M106.2 269.7l0.4 5.4M139 195.2l-1.8 3.3M135.2 200.2l-3.2 4.1M113.3 220.4l-0.5 4M108.8 230.7l0.5 3.1M121.5 214.4l-3.3 2.4M122.8 211.1l-2.6 2.4M116.1 231.6l-1.9 4.3M121.8 222.3l-3.2 2.8M115.5 238.6l-1.2 4.1M138.1 192.6l-2.3 2.6M133.1 204.3l-2.4 4.1M135.5 205.4l-2.1 3M94.4 282.8l0.6 3.3M100.1 272.7l-3.2 4M105.8 248l-0.7 4.9M107.6 262.7l-1.3 3.7M108.5 252.9l-1.6 3M90.9 301.8l0 3.8M97.6 288.9l0.3 4.2M99.1 301.2l-2.8 4.9M98 304.1l-1.7 4.6M110.7 228.9l-2.1 5.4M111.7 257.2l-3.1 4.7M114.3 233l-2.7 3M112.1 252.9l-2 2.5M143.1 195.5l-2.1 3.9M97.7 270.2l-1.4 3.4M113.7 225.8l-1 4.8M121.4 223.4l-2.9 3.7M142.1 192l-5.3 1.9M128.5 206.4l-4.5 2.6M123.7 215.4l-3 1.3M107.3 256.1l-2.7 4.3M109 237.3l1.4 4.9M109.7 240l-2.6 3.6M136.5 193.8l-2.4 4.2M99.1 303.3l-2.1 3.1M134.3 197l-1.3 4.5M124.5 206.8l-3.9 4.4M146 190.1l-3.9 1.7M145.3 184.9l-3 2M136.5 199.6l-3.3 4.3M118.5 214.8l-3.3 2.8M93.7 302.6l-0.7 3M128 204.4l-2.6 2M96.4 292.6l-2.4 4.6M116.4 228.1l-1.8 2.7M138.8 191.4l-3 2.1M89.5 303.9l-2.6 5.3M102.3 267.2l-0.8 2.9M112.7 237.5l-0.2 5.5M88.4 308l-0 3.5M111.2 247.2l0.8 4.5M105.9 266l-3.8 4.4M97.9 291.2l-2.2 3.9M142.8 199.9l-3.6 3M99.8 294.8l-2.3 3.6M109 240.4l0.7 3.1M88.8 295.1l0.3 3.4M139.5 189.5l-2.5 4.3M101.3 279.2l-0.8 3.2M103 260.3l-1.8 2.9M144.3 197.6l-1.7 2.6M137.9 194.3l-2.8 1.9M91.5 301.8l-2 3.8M146.4 186.4l-2 2.6M145.6 188.9l-4.5 2.5M120.7 226.7l-3.4 2.4M93.2 284.9l0.4 3.2M113.9 236l0 4.1M104.6 282l-2.2 3.7M102.9 285.9l-3.1 3.5M107.9 264.5l-0.4 3M115 220l-0.9 4.9M148 192.9l-4.5 3M96.4 291.4l-2.4 4.9M99.7 266l-1.6 3.6M144.2 192.7l-3.2 3.5M112.8 248.2l-0.2 5.7M123.4 216.3l-3.5 1.7M100.8 283.6l-1.1 2.9M94.1 277.9l-0.8 3.4M146.6 186.6l-3.8 3.9M135.5 203.8l-1 4.4M101.1 294.9l-2.9 3.9M95.3 297.7l-2.2 4.7M123.4 216.9l-2.1 4.8M115.4 216.4l-1.8 5.6M120.1 223.7l-4.9 2.3M111 246.1l-1.1 4.1M112.7 220.4l-2.4 4.5M101.2 258.5l-2.6 5.3M109.7 233.7l0.9 5.1M98.5 280.5l-1.8 3M111 237.6l0.7 4.8M110.4 233.9l-2.2 4.3M109.9 257.6l-1.5 3.4M103.3 264.7l-2.9 3.8M110.1 238.3l-0.3 3M96.7 294.8l-2.4 4.5M105.2 255.4l0.5 3.2M131.6 201.6l-2.4 4.8M91.2 288.1l-0.4 4.5M125.8 212l-1.5 3.7M122.8 216.1l-0.9 3.3M118.4 220.6l-2.8 4.4M110.4 225.7l-3.6 2.3M110.9 233.8l-0.2 3M93 298.1l-2 4.9M117.6 216.9l-4.8 2.4M96.8 273.7l-0.8 4.8M118 214.3l-3.4 2.7M116.1 238.3l-3.4 4.5M106.2 251.4l-2.6 4.4M111.9 253.8l-3 4.9M120.7 220.5l-4.7 3.5M101.9 276.1l0.2 5.6M128.2 215.7l-2.9 5.1M108.7 228.7l-2.8 4M116.5 221l-2.7 3.9M133.6 208.2l-0.9 3.4M106.9 252.4l0.3 3.5M97.9 268.2l-3.1 4.6M108.8 243.1l-2.1 4.2M122.8 222.1l-3.5 4.6M125.4 207.7l-2.8 1.9M109.2 226.8l-1 4.3M142.6 199.2l-5.6 1.9M105 254.7l-1.1 4M126.5 208.4l-3.4 4.4M91.8 295.7l-1 3.2M91.3 306.9l0.1 4.2M121.4 215.1l-1.7 5.2M106.5 228.7l1 5.7M93.3 282.5l0.5 3.2M127 201.3l-2.5 4.1M89.5 301.7l-0.8 3.5M141.1 197l-2.2 3.6M107.4 252.9l0.2 4.9M107.5 249.9l-0 4.3M126.5 214.3l-1.3 3.3M141.5 193.9l-2.2 3.6M105.5 231.4l0.6 5.1M92.2 288l-2 2.6M115.1 234.7l0.5 5.4M101.8 283.9l-0.4 3.2M94.9 281.1l-3.5 3.5M102.8 261.9l-0.6 5M108.4 231.2l-0.2 4.2M119.9 224l-3.8 2.2M129.3 208.2l-4.2 3M110.6 246.4l-0 3.6M101.2 273.2l-0.9 4.3M105.5 251.2l0.8 5.4M102.2 275.7l-1.1 4.2M130.3 196.4l-2 4.8M107.9 247.3l-3.8 4.1M113.8 242l1.4 4M108.9 236.8l1 3.3M95 294.9l0.1 4.1M112.3 247.4l-0.7 4.3M133.1 202.6l-1.2 5.8M98.5 296.4l0.8 2.9M125.5 213.7l-2.9 1.5M108.4 229.7l-2.7 3.8M94 299.5l-2.7 4.6M106 244.2l0.4 3.6M100.9 270.5l-0.9 4.8M95.7 302.9l1.3 5M98.2 281.5l-2.3 3M108.8 237.5l-1.4 4M104.7 259l-3.4 3.8M106.1 249.6l-0.9 4M137.9 201.2l-3.8 3.2M107.4 251.4l-0.3 5.7M104.4 260.4l0.2 4.1M99.8 282.5l-3.4 3.8M129.1 202.3l-1.7 3M98.1 297.4l-1.7 4.6M101.2 268.2l-0.1 5.1M111.2 260.9l-2.7 4.2M134.8 203.6l-0.8 3.9M97.3 307.5l-1.2 4.1M107.2 241l-0.1 3.6M105.3 262.5l-1.4 5.2M93.3 306.2l-2.3 3.6M113.6 225.2l-3.3 4.7M100.8 252.4l0.4 4.3M108.6 244.9l-0.4 3.1M97 294.7l-1 5.2M107.3 242.7l-0.6 4.7M101.3 280.1l-0.4 3.7M103 250.2l-0.2 3.3M100.1 269.2l-3 4.1M99.8 271.2l-2.8 4.6M131.7 209.6l-2.2 2.2M110.4 247l-1.3 4.1M127.4 200.9l-0.8 3.9M126.9 209.2l-1.6 4.8M131.4 202.7l-0.6 3.5M108.9 254.7l0.4 4.5M121.6 222.6l-2 2.8M135.3 201.9l-1.5 4.6M108.2 237.2l-1.3 4.3M96.2 304.6l-1.6 3.2M122.8 216l-1.2 3M99.4 278.3l-3 3.1M105.4 245.6l-2.6 4.5M103.7 260.6l-2.2 2.7M97.9 293.7l-0.6 3.5M92.3 292.7l-2.2 4.7M114.8 217.3l-1.3 3.1M111.4 223.4l-3.1 3.5M140.3 187.7l-3.8 4.4M141.7 193.1l-1.8 2.6M124.4 219.5l-4.1 2.9M95.2 294l-2.4 3.3M99.9 291.6l-3.5 3.8M107.3 270.8l-0.8 3.4M106.9 241.1l-2.6 5.2M99.7 271l-2.5 2.6M101.1 271.1l-1.6 3.6M140.5 190.8l-3 3.3M98.7 275.8l-2 3.6M97.5 268.8l0.8 4.3M129 217.3l-3.9 2.4M101.6 276.7l-0.3 4.2M98 300.6l-0.3 4M140.6 189.9l-4.3 3.7M120.3 227.7l-2.5 2.9M99.5 289.3l-0.8 4.3M135.3 195.6l-5.5 2.2M92.7 294l-1.2 4.8M99.4 263.8l-0.6 4M124.2 216.3l-3.8 2.8M123.2 220.9l-1.6 3.6M105.3 247.9l1.2 5.2M114.6 239.1l0.4 3M107.1 234l-1.3 2.8M135.6 198.3l-2.3 3.2M96.6 282.8l-0.6 4.3M125.4 208.2l-3.2 3.3M95.6 304.6l-0.6 5.2M113.7 242.9l0.5 4.3M148.9 194.4l-3.7 2.8M97.7 294.7l-2.1 5.2M129 212.2l-2.1 4.7M99.6 269.9l-1.7 5M96.4 306.6l-0.5 3.7M105.5 268.6l0.1 4.5M101.8 252.4l-0.1 4.9M101.8 253.3l-0.5 5.2M120.2 219.3l-1.6 4.6M114.3 223.7l-2.9 2.4M97.9 306.8l-0.9 5.7M116.8 222l-1.3 3.4M135.1 198.7l-4.1 3.3M121.3 221.3l-4.2 3.4M104 265.4l-3.9 4.5M104.1 263.1l-1.1 3.4M103.7 248.4l-0 5.2M91.1 305l1.1 5.9M103.9 254.7l-1 3.5M87.9 304.9l0.4 5.3M149.6 192.5l-3.1 3.4M92 289.3l-2.7 4.3M105.3 273.9l-2.4 2.8M90 301l-0.3 5.2M109.1 237.8l-1.4 3.4M112 227.1l0 4.9M94.5 285.3l-2.9 4.4M111.2 252l0.8 4.7M104.9 267.2l-0.7 4.6M108.7 260.9l-0.7 3.3M105.7 252.1l0.4 5.6M94.1 287.3l-0 5.5M110.5 246.6l1.5 5.6M121.4 218.3l-3.2 4.2M98.8 262.8l-0.3 5.6M98.4 270l0.7 4.9M115.5 218.1l-3.1 4.5M100.3 266.9l-1.3 4.4M123.8 215l-1.6 3.4M112.2 223.1l-0.5 4.4M102 264.3l0.4 4.7M103.2 270.2l0.6 5M103.3 254.9l-0.2 5.2M138.6 190.3l-4 3M145.6 189.8l-3.2 2.2M110.3 225.5l-3.6 4.7M104 257.7l0.3 4.6M116.5 231.1l-0.6 3.9M131.4 208l-1.3 5.5M143.7 192.9l-2.5 2.8M101.3 267.4l0.2 4.4M126 219.3l-2.8 3.8M150 192.5l-2.1 2.2M108.6 251.8l-1.1 5.3M104.8 240.7l-1.3 3.3M131.6 198.1l-1.9 3.5M112.9 235l0.6 5.8M91.9 300.2l0.5 5.2M107.3 259.3l-2.4 2.7M92 302.5l-2 4.5M112.2 229.6l-2.6 2.8M120.9 219.1l-3 4.9M106.2 243.1l0.1 3.6M123.4 220.6l-1.1 4.8M94.9 296.9l-0.2 4.6M117.9 224.8l-0.9 3.9M104.4 273.6l0.4 3.6M106.2 251.3l0.8 5.5M104.8 246.5l-1.8 2.6M115.2 228.5l-1.7 4.2M105.1 258.8l-3.9 4.2M98.1 270.4l-2.4 5.3M106.3 256.4l-2.2 3.4M105.5 250.6l-0.2 4.1M116.2 230.1l-0.8 5.6M126.1 203.8l-2.1 3.4M107.3 235.3l-2.9 5.1M144 184.9l-4.6 3.2M109.7 238.3l-2.9 4.6M116.9 220.2l-3.1 2.5M91.4 293.9l0.4 4.7M108.8 268.1l-3.6 4.3M104.2 234.2l1.4 4.4M89.1 304.8l-0.1 3.6M104.5 266.5l-1.2 3.5M132.1 202l-1 3M146.4 188l-1.6 3.3M127.9 213.9l-1.3 3.5M112.1 249.5l0.2 5.6M98.3 262.6l-1 5.5M96.7 295.6l0.4 5.8M99.8 272l-2.4 5.4M150.9 191.8l-3.9 3.8M106 267.3l-2.3 4.5M101.3 255.8l-0.9 4M105.7 238.4l-0.7 3.4M98.5 270.2l0.6 4.6M132.6 212.2l-2.9 3.7M101.5 253.2l-1.4 4.8M116.2 223.8l-1.6 3.2M94.2 279.4l0.4 3.1M109.8 235.6l-0.8 3.2M125.6 212.3l-1.4 2.7M147.1 193.4l-2.9 1.7M113.1 234.9l0.6 4.1M136.9 191.9l-1.9 5.6M98.2 293.5l-1.6 3.8M133.3 200.1l-2.8 4.2M126.9 206.2l-3 4.3M95.2 278.4l0.7 3.7M110.3 224.5l-0.6 3.7M108.5 264.1l-1.6 3.9M90.7 297.7l-2 5.1M108.4 227.1l-2 5.1M89 307.7l1.7 4.4M106.7 264.8l-1.9 3.8M99.1 262.2l-0.2 4.9M111.5 234l-1.5 4.8M115.5 245.2l-2.8 4.6M104.7 278.5l-0.5 4.5M149.7 190.2l-3.3 4.8M98.5 268.9l-0.9 4.2M104.4 250l-2.5 4M90.4 295.7l-1.9 4.8M99.8 284.4l0.5 3.5M94.6 303.7l-0.1 4.8M117.2 229.2l-0.4 5.4M116.5 233.2l-1.9 3.9M99.3 273.3l-1.7 4.8M111.1 228.1l0.2 3.8M120 216.7l-0.8 3.6M98.7 274.1l0.6 3.6M137.6 197l-2 3.7M130.1 204.5l-1.7 2.5M138.4 191.1l-2.3 2.7M101.1 279.5l-3.5 3.8M135.2 200.3l-3.2 3.9M95.4 284.8l-1.5 4M96.7 279.7l0.1 4M114.4 222.5l-3.1 4.7M90 287.7l0.6 5.1M130.8 212.7l-3.7 1.9M106.2 239.7l-0.3 5.8M114.1 252.4l-4 4.1M109.4 242.7l-0.9 5.3M100.1 294.2l-2 3.3M110.2 262.6l-2.6 2.6M124.9 206.1l-1.4 5.6M113.4 239.9l-0.8 5.2M122.2 222.5l-2.8 3.5M101.9 259.6l-0.6 4M114.7 221.2l-1.2 4.1M116.4 231.6l-3.8 3.7M95.3 283l-2 2.7M90.6 299.1l-0.6 4.7M92.4 306.7l-0 4.9M110.2 235l-1.1 4.4M100.3 261.8l0.7 4.2M102.6 268.4l-2.9 4.6M118.3 217.1l-2.3 5.2M102.9 283.1l-1.3 5.2M127.6 215.4l-5 2.8M127.1 214.3l-2.1 3.6M103.9 274.3l-1.9 3.6M109.3 252.2l0.2 5.4M109.2 226.1l-0.9 3.7M110.6 248.1l-1 4.7M114.6 232.4l0.6 5.2M114.6 239.3l-2.9 4.1M109.3 240.6l-2.3 4.8M104.6 279.8l-2.2 3.5M106.3 274.1l-2.6 3M90.6 304.7l1.5 4.2M134.1 192.2l-1.4 3.7M137.6 200l-2.7 2.6M122 223.5l-3.5 4M108.1 246.4l-2.8 4M99.6 263.1l-0.7 3.2M137 204.1l-3.1 4.4M101.3 280.6l-3.3 4.1M107.9 253.4l-0.7 4.1M98 280.3l-0.3 3.5M95.2 276.7l-0.8 4.3M105.3 253.9l-1.2 5.8M122.1 215.3l-3.3 1.7M115.6 218.5l-3 3.9M99 295.7l0.8 4.6M108.5 240.3l-1.7 5.1M105 254.7l-1.7 4M143.2 194.6l-3.1 1.4M146.7 187.7l-3.1 2.9M118.3 223.7l-1.7 3.7M123 215.5l-3.1 2.9M104.1 248l-0.9 3.8M92.9 285.1l-2 4.1M109.6 241.6l-1.5 5.1M143.9 186l-1.8 4.4M120.9 218.5l-2.4 3.7" fill="none" stroke="#111" stroke-width="1"/>
<path d="M223.9 157.6l-5.6 -0.5M225.3 159.3l-2.9 0.8M246 161.6l-5.9 0.9M234.4 166.4l-3 1.4M211.5 157l-3.5 -0.1M255.1 152.1l-3.3 0.5M229.2 160.6l-5.7 1.4M247.7 152.4l-4.2 -0.1M239 159.4l-4.1 -0.3M231 155l-4.9 2.7M234.3 160.6l-4.6 3.5M249.2 151.7l-5.6 -1.6M237.7 156.4l-4.9 -0.7M206.5 155.8l-3.4 0.1M255.6 164.7l-5.5 -0.8M230.3 157.9l-2.9 -0.6M216.1 155.4l-4.3 0.8M213.3 172.3l-4.2 0.9M210.4 159.9l-4.6 -0.5M209.5 167.3l-5.4 2.4M216.2 159l-5.5 1.3M237 157l-3.1 0.1M212.9 170.6l-4.2 -0.3M209.4 164.4l-3.9 -0M216.7 154.5l-3.2 2.2M247.2 152.3l-5.1 2M228.3 157.7l-3.3 0.4M251.6 165l-5.6 -0.7M233.6 159.9l-3.8 2.1M226.1 168.3l-3 1.5M248.1 165.4l-4.5 1M231.5 161l-4.2 -0.8M210.5 164l-3.3 0.9M237.3 155l-4.5 -0.1M228.1 156.3l-5.6 0.2M213.7 170l-3.5 2.3M252 148.4l-5.2 0.3M232.2 168.1l-4.6 1.2M248.3 152l-5.8 -1.3M230.8 166l-5 -0.2M215.5 156.4l-4.8 2.3M211.5 167.7l-4 2.5M225.3 158.7l-3.4 0.1M256 157.8l-5.6 0.5M212.8 170.9l-3.6 2.2M244.8 156.3l-3.6 -0.9M225.7 155.1l-5.3 0.7M231.1 152.3l-4.4 -0.1M221.6 157.4l-3.2 -0.4M216.7 168.7l-2.8 2.1M252.8 161.4l-5.1 1.9M247.2 151.6l-5.2 2.5M223.3 155.9l-5.1 -0.8M222.8 155.8l-3.6 2M221.9 157.5l-5.8 1M213.7 164.8l-3.3 1.2M206.1 156.4l-4.6 3.2M247.2 150.4l-5.9 1M207 163l-4.9 -1.2M213.3 170.7l-4.5 2.9M218.1 172.4l-4.9 -1.2M219.8 158.6l-5.8 0.8M240.9 159.5l-3.3 -0.7M239.2 161.1l-3.9 -0.8M239.5 158l-5.5 0.3M245.7 163.9l-4.5 0.1M205.9 157.3l-4.4 -0.6M234.5 156.3l-4.7 2.9M238.2 167.5l-3.5 0.1M236.9 155.1l-6 -0.4M248.1 149.8l-3.4 1.8M249.2 156l-3.4 1.2M237.7 151.9l-3.8 2.5M231.1 159l-3.7 1.5M246.2 156.4l-3.7 2.5M233.9 160.2l-4.1 2.6M211.6 157l-3.8 -1M234.1 153.2l-3.1 1.4M220.3 156.2l-5.4 0.1M236.3 153.6l-2.7 1.9M232.1 162.2l-4.2 3M218.9 169.1l-4.9 1.8M243.8 160.9l-4 -0.2M209.4 156.9l-3.7 -1.1M249.5 153.7l-4.8 2.7M223.1 170.6l-5.4 -0.2M217.3 157.8l-5.9 0M243.4 164.9l-4 -0.3M217.1 153.7l-4.6 0.7M241.8 153.6l-4.8 1.4M249.5 149l-4.3 2.3M209.1 168.8l-4.7 -1.2M252.8 163.1l-4.4 3.1M213.6 153.8l-4.1 3.1M231.7 152.3l-3.6 -1M232.8 163.7l-3 1.9M222.4 160.6l-5.4 1.3M214.6 161l-3.8 1.9M216.2 161.6l-4.7 0.4M214 160.3l-3 2.1M226.7 160.5l-5.6 -1M244.3 161.8l-4.5 0.5M255.1 147.9l-4.7 -1.1M223.4 166.1l-5.4 1.4M227.1 160.5l-4 0.8M223.1 155.2l-4.4 1.4M217.5 159.6l-5.7 0.1M214.8 167.7l-4.8 -0.9M246.2 163l-4 -0.4M226.3 168.3l-3.1 2.4M225 166.1l-4.3 -0.9M234.3 153.4l-5.5 2.1M216.7 168.1l-3.6 -0.8M235.2 151.6l-3.8 0.1M230.3 161.7l-3.7 -0.3M247.3 160.5l-5.1 -1.3M211.3 163.9l-5 1.1M209.3 171.6l-4 -0M213.6 170.4l-5.4 1.3M225.9 151.9l-4.5 2.6M224.8 154.6l-3.7 1.7M253.6 160.7l-4.8 0M217.6 169.3l-4.7 0.7M247.1 150.6l-3.1 2.1M209.1 160.3l-4.3 1.7M210.1 168.5l-4 -0.3M238 151.2l-5.3 -1.1M236.2 154.8l-4.8 -1.3M208.5 157l-4.4 -1.4M232.1 167.2l-4.9 0.5M209 167.9l-4.3 1.1M221.7 163.7l-4.7 3M245.8 162.3l-5.2 1.2M246.6 165.1l-3.6 1.9M216.7 160.7l-3.9 -1M248.9 150.1l-2.7 2M237.5 159.6l-4.6 3.1M255.6 149l-4.8 2.2M253.6 158.2l-3.2 -0.7M242.3 162.9l-4.7 -0.2M225.8 163.9l-4 1.5M229.1 163.1l-4.4 2.3M235.4 165.2l-3.4 -0.3M216.7 169.3l-5.6 -0.1M254.1 164.3l-4.5 1.7M246 164.9l-4.5 1.7M244 150.3l-3.7 1.1M246.7 155.3l-5.1 1.9M251.5 161.7l-4.3 2.1M221.2 160.8l-5 2.2M250.4 146.3l-4.4 3.2M249.5 147.6l-4.5 3.3M232.8 163.7l-3 2.1M211.8 160l-2.9 1.6M255.1 152l-3.4 -1M249.6 156.5l-4.1 1.8M242.6 157.3l-5.1 0.2M220.6 167l-3.9 2.4M246.6 160.5l-3.1 2.3M243.9 166.2l-4.1 1.7M238.2 158.7l-4.5 1.8M241.4 153l-4.3 0.8M236.2 152.7l-3 1.4M235 160.9l-4.3 -0.4M241.9 152.3l-3.4 0.1M243.8 156.6l-5.6 -0.3M208.8 163.6l-5.3 1.2M237.4 164.4l-2.9 1.2M223.9 156.1l-3.7 0.4M226.6 154.8l-3.4 -0.9M213.1 167.4l-3.5 0.2M241.2 148.7l-5.3 2M255.8 157.6l-2.8 1.4M208 159.1l-4.9 2.6M253.7 151.1l-2.8 1.2M228.1 155.3l-3.3 2.2M212.2 155.4l-3.3 -0.6M218 155.3l-3.6 -0.8M222.4 165.3l-3.6 1.6M224.9 157.5l-5.1 0.6M223.3 160.1l-5 2.8M239.5 166.9l-4.6 -0.9M209 167.1l-4.9 -0.2M241.4 149.8l-5.1 3.2M239.1 156.3l-4.9 2.8M244.7 156.3l-3.3 -0.4M246.6 147l-3.5 2.7M208 162.7l-4.2 0M216.6 154.2l-5.7 0.2M243.5 155l-5.2 2.4M250.2 158.6l-3.1 -0.9M237.1 167.9l-5.9 -0.3M232.5 166.3l-3.9 0.9M213.5 162l-5.7 1.4M219.2 155.4l-3.4 1.6M235.5 157.4l-4.2 1.3M210 169.6l-3.2 1.1M238.2 159.3l-4.8 -1.1M239.2 157.6l-2.5 2M245.8 155.3l-3.8 -0.4M238.9 163.3l-4.4 0.7M216.6 164l-4.3 2.4M212.2 169.8l-4.6 3M231.3 167.2l-5.6 -0.5M225.8 159.1l-3.6 2.6M216.5 156.4l-4.6 0.7M213 161.8l-2.7 2.1M243.3 154.7l-3.1 0.1M230.5 163.5l-3 1M219.2 169.7l-5.3 0.8M221.6 156.2l-5.8 0.3M223 157.8l-3.6 -0.7M221.2 165.7l-5.9 0.9M224.1 162.5l-3.7 0.2M233.7 150.9l-3.4 0.9M238.9 154.1l-3.4 0.9M210.1 160.7l-3.6 0.6M224.3 153.1l-5.5 1.2M250.5 161.5l-4.6 -0.6M246.3 153.2l-2.8 2M217.3 163l-4 1.1M248.3 149.8l-3.7 2.4M241.6 161.4l-3.8 0.4M228.3 154.2l-4 3.1M232.8 163.1l-3.3 1.5M250.4 163.5l-5.4 1.1M237.5 153.4l-5.1 2.5M223.3 153.9l-5.8 -0.6M226.6 160.8l-5.4 -1.4M251.4 159.7l-2.9 1.3M207.8 159.1l-4.8 0.6M218.2 170.2l-5.4 2.5M227.1 166.5l-3.7 0.4M232.2 165.7l-3.4 0.9M241.1 165.1l-3.5 1.2M242.3 158l-3.8 2.1M221.2 165.7l-3.3 1.7M232.5 165.8l-4.3 -0.5M254.8 153.7l-4.5 0.7M251.4 163.1l-5.8 -1.2M234 164.2l-5.7 -0.7M254.1 151.2l-3.7 0.7M226.2 164.1l-2.6 2.1M218.9 167.6l-5.2 2.3M221.9 154.4l-4.8 0.5M236.5 158.7l-3.8 -0.8M253.8 154.4l-4.6 -0.3M221.7 158.9l-2.9 -0.9M238.9 165.5l-3.2 1.9M213.2 155.7l-4.7 3.5M241.2 159l-3.5 2.1M218.8 169.3l-4.3 3.2M220.9 165.7l-5.5 0.1M247.7 155.4l-3.2 -0.9M229.5 151.9l-5.9 0.3M250.2 152l-5.2 -0.2M207.7 158.4l-4.8 1.1M253.2 152.9l-4.1 -1M253 155.3l-4.9 1.2M245.5 161.8l-5.2 -1.3M224.7 155.5l-4.9 3.2M243.7 155.6l-3.7 -1M228.5 164.5l-2.9 1.6M247.6 154.8l-3.2 -0.5M206.3 161.5l-4 -0.4M239.6 165.8l-4.8 0.5M217.7 158.8l-3.5 2.6M249.6 163.6l-3.6 2.4M217.1 157.8l-5.8 -0.8M247 162.1l-6 -0.2M210 161.2l-3.4 -1.1M219.9 155.8l-5.2 -1.5M212.2 164.8l-4.4 0.2M255.3 154.1l-2.9 1.6M240.9 155.5l-4.4 1.8M227.6 157.1l-3.8 2.7M219.8 165.5l-5.7 1.3M254 161.3l-5.3 0.5M232.2 167.3l-4.5 3.2M231.7 162.8l-3.2 2.5M247.4 150.2l-4 2.1M221.2 157.5l-3.8 3.1M245.7 155.4l-3.1 1.6M248.3 163.5l-3.9 -1.1M222.4 166.5l-5.8 -1M230 154.6l-5.5 1.1M217.6 161.8l-4.6 2.9M213.8 156.2l-4.1 1.3M251.5 151.3l-3.4 -0.5M224.6 159.5l-3.6 1.2M206.5 162.9l-3.9 -0.3M254.3 159.2l-4.1 0.9M222.3 165.8l-5.6 0.8M253.7 154.4l-4.5 0.5M228.6 167.1l-3.7 2.9M233.6 155.6l-3.6 0.9M216.4 163l-4.6 0.5M249.7 155.1l-2.8 2.1M241.5 163l-3.1 0.1M227.5 153.9l-3.3 -0.6M215.8 158l-5.1 0.7M208.5 169.6l-5.4 1.6M235.7 163.5l-4.9 -0.7M223.2 163.7l-3.7 0.8M211.9 168.6l-4.6 2.1M243.8 151.5l-3 0.5M208.5 157l-4.3 0.3M247.5 151l-4.4 -1.2M226.2 156.8l-3.6 0.9M248.7 160.3l-5.3 1.6M252.7 153.4l-2.9 -0.9M217.1 157.6l-3.1 0.7M224.1 158.4l-5.4 0.6M225.4 164.2l-5.6 0.4M230.3 165.3l-3.9 1.1M239.9 152.3l-3.9 0.2M254.3 165l-4.7 0.7M224.4 166.1l-3 0.1M238.6 154.7l-4.3 3.4M236.9 161.5l-3.3 0.5M225.3 162.8l-3.8 0.3M216.5 160.9l-3.1 1.1M223.5 161.2l-5 1.6M216.4 156.3l-4.9 -1.2M228.3 155.7l-3.7 1.4M234 157.4l-5.7 1.4M252.7 160.2l-2.8 1.3M235.8 166.4l-3.6 1.4M239.4 160.4l-4.4 0.5M256.1 157.7l-3.3 1.5M219.9 164.8l-3.9 -0.6M246.7 162.3l-5 1.4M228.8 164.8l-5.1 2.4M207.1 164.5l-4.6 -0.9M225.1 155l-4.2 0.8M226.5 167.7l-3.8 2.2M238.1 163l-3 0.3M214.8 163.4l-3.5 1.8M242.3 151.7l-4.1 2.2M210.5 173.2l-3.3 -0.1M224 161.2l-4 0.3M248.1 158.6l-2.6 1.8M243.1 156.4l-4 1.5M242.9 155.4l-4.2 -0.1M243.2 156.2l-4.4 0.7M224.1 153l-5.4 -0.3M223.6 170.1l-4.4 -0M224.6 153.3l-3.5 2.5M232.7 153l-5.1 0.5M233.6 152.5l-4.3 2.3M216.9 169.7l-3.1 0.8M223.9 157.4l-2.9 0.9M239.2 161.5l-5.7 0.5M252.7 159.4l-5.6 0.6M249.5 160.3l-5.1 -1M245.8 156l-5.4 0.7M238.9 165.5l-3.3 1.3M246.2 154.3l-4.5 1.8M212.6 154.6l-3.9 2.4M216.6 162.9l-4.7 1.8M236.9 152l-5.1 -1.1M225.8 166.3l-2.9 2.3M207.7 163.3l-3.2 1.9M246.7 150.3l-3 -0.7M256.1 157.9l-5.8 0.8M232 159.4l-3.2 1.4M211.3 163.1l-3.6 -1.2M237.5 158.5l-3.2 2.2M251.6 147.9l-4.5 0.1M214.5 169.4l-5.2 2.5M219.6 158.6l-3.2 0M250.4 159.2l-2.8 2M214.3 166.8l-4.2 -1.4M236.7 156.2l-3 -0.4M244.9 163.4l-3.1 0.5M254.4 161.9l-6 0M235.2 152.3l-5.6 1.2M246.8 162.9l-5.2 0.3M248.6 147.4l-3.2 1.5M213.6 166l-4.5 3.3M212.1 167.9l-3.6 -0.6M255.5 154.2l-3.6 -0.8M229.9 169l-4.4 -1.3M208.4 169.2l-5.9 -0.8M252 157l-4.6 2.8M247.8 155.7l-5.3 0.7M207.6 163.9l-3 0.6M228.9 156l-4.9 0.6M225.4 153.5l-5.1 2.4M241.1 151.2l-4.4 0.4M210.1 161.4l-3.4 -0.4M245.8 154.1l-4.2 -0.7M220.7 161.9l-4.2 -0.5M212.7 165.8l-5.2 0.7M237.4 152.2l-3.5 -0M256.3 157.4l-4.1 0.2M229.9 152.4l-3.8 2.9M232.5 156.5l-3.5 -0.9M219.4 155.2l-3.9 1.3M255.9 158.5l-2.9 0.7M232.4 161.5l-3 2M251.4 151.8l-3.1 -0.5M242.2 152l-4.4 -0.9M238.9 157.9l-4.1 1.9M215.6 167.5l-3.9 1M222.2 157.9l-4.4 -1.4M227.2 161.3l-4.1 -0.6M216.2 160.9l-4.6 2.6M220.2 156.4l-5.4 -1.6M213.2 161.5l-3.5 -0.2M225.4 160l-2.9 0.8M247.8 161.3l-5.5 0.7M225.9 167.7l-5.1 1.9M256.4 160.4l-3.5 -0.2M227.9 155.9l-3 1.5M227.2 153.3l-5.1 -0.7M223.8 161.6l-3.4 0.6M254.9 158.8l-3.1 0.5M219.6 158.2l-2.8 1.9M222.4 163.4l-4.6 -0.1M232.8 163.5l-3.3 0.6M238.6 151.8l-3.9 -0.7M219.8 163.3l-4.3 -0.8M250.3 155.1l-4.4 -0.2M222.8 162.8l-5.2 2.1M254.3 160.5l-3.5 2.2M212.8 156.1l-4.6 -1.5M251.8 160.4l-3.8 -1.3M221.3 169.4l-4.3 3.4M222.6 169.8l-4.2 2.6M225.1 168.2l-3.8 -0.6M217.7 160.5l-5.9 -0.8M245.7 160.3l-3.5 2.2M219.4 164l-5.2 2.5M219.1 171l-5 -1.2M242.6 159.4l-4.5 -0.9M212.1 164.4l-4.2 1M228.5 158.7l-5 1.7M252 161.7l-5.7 -0.4M232.6 155.1l-3.6 2.7M231.9 164.6l-5.3 1.5M246.4 162.7l-4.6 -0.2M238.1 155.3l-5.7 1M211.2 171.8l-4.6 2.6M246.4 161l-4.7 2.3M217.6 153l-3.2 1.9M255 156.8l-4 0.6M216.8 170.7l-4.8 3.3M224.7 161.3l-3.1 0.6M236.8 158.5l-4 1.5M209.1 165.7l-4.9 3.4M222 170.2l-3.5 -0.1M223.6 160.7l-3.4 0.9M234 156.8l-3.9 0.6M229.6 160.9l-4.3 1.3M218.6 169.2l-4.8 -1.4M232.5 155l-4 -0.7M229.8 165.9l-4.4 3.3M222.2 165.1l-5.7 1.1M235.7 153.2l-4.3 -0.1M219 160.8l-5.8 1M221.1 165.8l-5.6 0.8M240.2 157.2l-5 0.3M255 156l-3.9 2.1M217.7 168.1l-5 2.8M215.8 154.1l-4 0.7M246.1 163.5l-5.6 -0.3M243.4 166.9l-5.4 0.6M224.1 153l-5 1.5M255.6 151.5l-4.6 -1.1M231.2 167.7l-5.2 -0.3M217.7 154.6l-5.1 2.5M242.5 149.2l-3.1 2M256.8 160.8l-4.1 -0.2M217.6 161.6l-4.7 2.5M249.8 161.8l-5.2 -0.8M230 163.9l-4 1.4M242.1 152.7l-3.8 -1.1M213.7 170l-4.1 -0.9M249.6 155.7l-4.1 3.2M232.2 158.9l-3.8 1.6M221.6 159.2l-4.8 -0.1M209 170.6l-3.6 1.5M246.4 164l-6 0.2M209.8 165.1l-4.4 0.5M227.1 160.1l-3.8 1.7M248.8 151.8l-4.2 0.7M208.9 165.8l-4.6 2.2M211.5 160.2l-4.2 2M253.1 165.7l-4.7 -0.4M242.2 151.1l-4.1 1.6M231.1 158.2l-4.1 2.2M236.7 161.3l-2.8 1.4M212.8 157.2l-5.6 2.1M226.5 167.2l-4.4 0.1M218.5 161l-4.7 0.3M224.7 153.5l-4.2 0.1M235.4 161l-5.1 0.4M210 166.8l-4.3 0.6M250.1 156l-3.3 1.8M245.8 160.6l-4.2 -1.1M228.1 158.7l-4.7 -0.3M225.3 163l-3.6 0.5M242.2 167l-5.4 -0.7M247.8 154.8l-5 3.2M225.5 160l-3.1 0.3M213.9 155l-4.4 2M212.9 160.9l-4.9 1M225.9 166.8l-5.6 0.6M215.3 168.3l-5.4 0.7M257.3 163.1l-4.1 1.5M242.2 154.3l-3 1.1M223.8 168l-3.2 0.6M241.9 156.6l-4 -0.3M242.7 161.8l-3.3 1.9M249.4 151.9l-3.6 -0.2M210.7 159.8l-3.1 -0.7M243.4 161.7l-3.1 -0.9M212.1 156.5l-2.5 1.7M207.9 166.1l-3 -0M239.6 151l-3.4 2.5M231 167.6l-4.2 2.4M210 165.5l-4.3 2.4M217.3 168.1l-4.6 -0.2M236.7 151.1l-4.1 3.3M253.3 149.5l-5 -0.1M249.6 165l-5.5 1.5M229.3 161.4l-5.7 0.9M255.7 150.7l-4.6 1.2M232.5 154.1l-4.4 -0M238.1 151.6l-2.6 1.6M210.7 157.5l-5.8 0.5M247.4 160.5l-2.7 1.7M221.9 161.4l-3.9 2.2M222 169.2l-3.8 0.4M222.1 154.8l-2.5 1.7M247 156.3l-5.8 -0.9M222.2 167.9l-4 3.2M241.4 159.4l-4 0.7M209.8 159.6l-3.5 -1M239.7 152.5l-3.3 1M218.4 158.6l-3 1.2M232.4 162l-3.1 1.2M240.5 160.7l-4.3 0.2M209 162.6l-3.2 1.8M250.5 147.7l-4.4 2.2M255 158.9l-5.4 1.7M210.8 164.6l-3.5 2.4M234.1 160.4l-4.6 1.7M224.6 160.5l-5.3 1.5M218.7 157.8l-3.9 0.1M232.9 167.5l-4.5 -1M234.2 159.8l-3.3 -0.6M234.4 154.4l-5.4 1.3M238.7 158.2l-5.8 1.3M232.7 153.1l-4.5 3.2M247.9 162.5l-5.1 0.8M208.8 166.3l-4.2 2.6M211.2 163.2l-4.8 1.1M221.3 164.8l-4.4 -1.3M235.7 152.4l-4.5 0.1M209.5 159.8l-5.3 0.9M239.1 151.5l-4.6 1.5M213.9 173l-3.5 -0.7M244.3 154.5l-3.3 -0.9M230.1 157.4l-4.5 2.2M210.9 167.6l-5.9 -0M224.9 157.6l-5.2 -0.1M208 166.4l-5.7 0.8M233.1 150.3l-4.4 2.1M249.5 164.2l-3.2 2.5M221.8 165.4l-4.6 1.4M228.9 166.2l-2.8 1.7M240.2 155.6l-5.8 -0.9M223 169.8l-5.5 0.6M247.1 151l-3.4 -0.5M242.3 148.1l-3.2 1.8M241.5 157.4l-4.7 2.6M213.1 156.6l-4.9 -0.9M224 159.1l-5.3 -1.6M220.4 163.4l-2.5 1.8M218.8 158.9l-3.5 1M253.5 148.1l-3.6 0M214.6 171.7l-5.3 -0.7M238.4 164.4l-4.9 1.6M206.8 159.3l-5.2 2.9M249.8 161.7l-5 1.1M248.9 162.1l-5.4 -0.4M251.7 152.5l-5.7 -0.3M251.9 162l-4.7 3.3M206.8 160.2l-5.2 0.4M235.3 155l-4.7 1.6M249.8 150.4l-4.6 1.1M214.2 158.4l-4.3 -0.5M231 160.8l-2.8 1.6M238 161.8l-5.2 1.7M253 158.9l-4.2 -1M239.6 154.5l-4.4 2.3M246 156.6l-3.6 0.4M214 171.4l-4.1 -0.3M212.1 168.6l-3.2 -0.3M247.3 152.4l-3.5 -0.5M223.9 165.4l-4.7 -0.7M221.8 155.1l-4.1 1.9M235.7 162.9l-4.2 3.2M251.9 163.5l-4.9 0M217.4 169.9l-4 0.8M223 171l-5.4 -1.2M242.2 165.5l-5.6 1.7M209.5 156.4l-3.4 2M211.5 169.6l-4 -1.2M249.9 157.3l-3 -0.6M256.5 155.1l-4.6 3.3M214 157.2l-4.5 -1.4M251.3 162.8l-3.7 1.4M256.6 158.9l-4.3 -0.7M256.2 151.7l-5.4 1.7M247.7 160.7l-5.6 0.3M244.7 159.7l-4.3 -1.2M250.1 150.1l-3 1M238.6 163.2l-5.9 0.6M207.2 155.7l-4.4 1.9M208.2 163.2l-4.5 -0M233.8 163.9l-3.2 -0.9M249.5 148.8l-4.5 1.1M253.5 150.1l-2.7 2M243.1 166.4l-5 0M228.4 158.4l-4.9 1.9M213.7 164.5l-5.3 2.1M244.5 163.5l-4.6 -1.3M249.1 154.9l-4.2 -1.4M254.6 158.2l-5.1 -0.2M251.7 153.7l-5.1 1.2M220 166.7l-6 -0.1M210.3 169.9l-3.5 2.6M245.3 161.7l-4.3 1.5M236 166.4l-4.3 -0.9M220.5 168.4l-3.4 1.8M244.6 156.7l-2.7 1.7M230 159.4l-3.7 1M227.5 156.3l-4 2.1M216.6 158.4l-4.1 1.5M242.5 153.4l-3.6 2.9M209.8 158.7l-3.7 -0.1M256 151.8l-5 1M223.7 156.4l-3 1.2M214.1 161.6l-4.8 2.3M247.7 152.9l-4.1 -0.7M240.6 161.4l-3.8 2.6M252.7 151.7l-5.8 -1M227.8 154.5l-3.6 -0.7M254.3 151.3l-4.4 -1.2M248.8 164.5l-4.1 1.5M236.7 162.7l-4.6 1M229.9 164.8l-5.1 3.1M218.1 163.5l-2.8 2.2M247.9 159.9l-4 0.6M235.2 152.3l-5.9 -0.7M221.4 170l-4.7 1.5M254.1 160l-3.7 -1M223.9 159.2l-4.8 -0.5M230.5 165.9l-4.3 0M255.6 154.6l-5.6 1.2M252.7 164.6l-4.1 0.1M218.7 156.4l-4.3 1.8M257.1 162.6l-4.2 -0.5M215.7 169.9l-5.7 0.4M256.9 155l-5.7 1.7M236.1 149.6l-3.8 2.3M225.9 156.8l-5.6 -1.8M232.4 156.8l-2.6 1.7M228.4 158.4l-5.3 0.4M229.1 157.5l-3 -0.5M240.3 163.2l-4.7 1.9M236.9 160.6l-3.4 1.6M253.8 163l-4.7 -1.3M253.1 157l-4.9 -1.2M235.9 150.1l-5.5 1.7M227.7 157.4l-3.8 2.3M244 153.5l-5.2 -1.5M221.8 156.4l-4.1 -0.5M221.4 157.6l-5.1 -0.7M244.5 149.7l-3 -0.2M235.7 150.3l-5.2 0.9M216.5 159.9l-5.7 1.2M252.7 150.9l-3.5 0.1M217.9 162.9l-5.3 0.4M205.9 157.7l-4.2 0.3M209.6 170.8l-4.5 2.3M213 171.5l-3.8 1.5M249.3 149.3l-3.8 2.2M230.3 165l-3.8 2.4M231.8 157.4l-3.3 2.5M243.6 155.6l-3.1 2.2M221.4 155.2l-3.4 0.6M228.4 163.8l-2.7 2.1M253.6 160.5l-4.5 2.3M212.8 165.8l-5.2 1.6M230.1 160.3l-5.8 -0.2M255.3 158.7l-4.1 0.1M253.7 153.5l-4.6 0.2M211.8 156.6l-4.3 -0.1M221.5 159.2l-4.5 0.5" fill="none" stroke="#111" stroke-width="0.9"/>
<path d="M374.1 161.8l-6 0.3M371.4 164.7l-4.1 -0.6M332.6 161.4l-3.1 -1.7M332.3 150.1l-5.8 0.6M365.2 154.3l-4 -0.8M371.8 155.5l-4.4 0.5M347 153.8l-5.2 -0.1M342.3 153.7l-4.2 -2.5M373.5 161.5l-4.7 0.4M348.4 159.1l-4.7 -1.9M371.7 167.1l-3.4 -2.3M365.3 165.5l-4.9 -3.3M323.9 160.2l-4.3 1.1M349.1 157l-5.7 0.8M321.9 159.3l-5.3 -0.1M369.3 163.1l-3.3 -0.5M332.8 158.4l-3.1 0.6M377.9 157.5l-4.1 -0.3M381.7 162l-3.9 -3M385.4 164.9l-4.7 -1.8M343.8 152l-4.9 -0.7M348.2 152.5l-5.3 1.6M358.2 163.2l-5.1 0.3M360.8 158.4l-3.8 -1.9M321.8 154.4l-4.6 0.7M340.8 154.3l-3.6 -1.2M348.4 162.6l-3.8 -0.2M368.1 166.3l-4.6 -0.8M350.1 155.9l-3.1 -2.4M322.4 155.2l-3 -0.9M338 152.7l-4.2 0M347.2 151.1l-4.7 -1.5M351.9 151.9l-3.2 -1.9M354 153.8l-3.9 -0.2M349.4 157.9l-4.5 -0.2M327.3 150.4l-5.2 0.7M333.8 159.3l-5.3 0.7M351 155.7l-5.1 -0.1M339.4 153.3l-4.9 -3.2M352.4 163.5l-3.8 -0.3M387.6 161.8l-3.4 -1.2M370.9 167.3l-4 -2.6M356.2 164.4l-5.8 -1.1M351.3 154.2l-3.3 1.1M348.6 162.4l-5.8 -0.8M331.4 160.8l-3 -0.5M325.9 156.7l-3.4 1.4M350.3 159.4l-5 1M329.3 158l-3.3 -0.9M382.3 173.1l-4.6 -3.8M346.7 157.6l-3.2 -1.1M364.6 162.3l-3.9 -3.4M342.8 151.5l-4.9 -2.1M319.6 157.3l-3.3 1M339.8 152.4l-3.4 -2.1M357 159.4l-5 -3M383 162.1l-5.2 -0M345.8 161.1l-4.8 1.7M334.2 154.1l-3.3 1.1M355.1 162.6l-3.3 0.6M341 156.2l-4.4 -0.2M365.5 163l-4.7 -0.7M375.9 167.8l-3.1 -1.6M343.7 155.2l-3.2 -1.3M351.5 159.6l-3 0.8M337 156.6l-4.9 -1.5M364.6 165.1l-5.5 -2.4M384.8 167.6l-3.2 0.1M350.1 152.7l-4.4 -1.1M326.7 153.3l-4.4 1.3M346.7 155.4l-4.9 -0.4M367.5 164l-4.7 0.2M373.6 166.9l-3.6 0.7M335.1 150.5l-4.2 -1.3M354.4 162.4l-4 0.5M330.9 157.6l-4.1 0.7M329.5 149.9l-5.2 2.1M377.4 163.2l-4.2 0.5M326.8 161l-5.6 -0.9M324.7 152.1l-4.9 2M351.1 150.7l-5.9 -0M338 158.9l-3.3 -0.8M380.5 163.7l-4.8 -2.4M344.1 161.5l-3.6 1.3M362.5 165.8l-4.2 -0.7M347.4 151.2l-2.9 -1.4M366 166.1l-3 0.6M341.9 161.7l-3 1M356.9 159.9l-2.9 -2.2M334.9 157.8l-5.2 -0.3M350.3 163.2l-3.6 -1.5M336.4 153.4l-3.4 0.1M324.4 159l-2.8 -1.6M333.9 160.7l-3.6 -0.6M346.8 160.3l-3.9 -1.9M348.2 151.1l-4.7 -0.1M381.2 162.9l-3.3 -3M379.1 165.8l-4 0.6M334.1 149.4l-4.4 0.6M374.7 169.1l-4.1 -1.6M378.4 162l-5 -1.2M355.3 162.9l-3.7 -0.1M378.1 164l-5.5 -1M341.1 162.5l-3.6 -0.3M340.2 160.3l-3.6 -1M349.6 158.5l-4.7 -3M330.2 159.6l-5.6 2.2M344 153.7l-5.6 0.9M360.4 165.7l-4 -2.5M331.2 156.7l-4.5 -1.2M367.2 156.8l-4.8 -0.5M341.7 154.9l-3.4 -1M332.4 156.8l-4.4 0.1M380 161.4l-2.8 -1.6M375.6 160.8l-3.4 -2M320.1 158.2l-4.2 -2M379.9 166.1l-3.2 -1.4M367.4 164.3l-4.7 0.1M351.2 158.5l-3.8 -2.7M356.8 162.3l-3.8 -1.6M369.3 163.2l-5.9 0.8M327.3 152.7l-3.3 0M342.6 155.6l-5.3 -0.3M337 161.5l-3.5 -1.6M330.8 154.3l-5.8 -0M384.6 169.9l-3.3 -2.6M331.9 156.8l-3.3 -1.5M326.4 149.3l-3.2 -0M336.3 155.5l-5.5 -0.6M330.8 152.4l-3.1 0.6M334.3 153l-3.1 0.2M322.4 154.9l-5.7 -0.2M356.4 151.8l-5.9 0.2M368.1 168.1l-3.2 -1.8M344.4 160.5l-3.7 -1.3M353.8 151.9l-5.4 1.8M385.9 167.5l-3.3 0.2M363.1 155.4l-3 0.5M343.9 152.9l-3 -1.9M364.7 160.1l-3.4 -1M351.6 158.6l-4.8 -0.9M342.4 158l-5.5 1.6M368.1 164.3l-5.6 -1.8M379.3 160.2l-3.4 -0.8M349.3 155.7l-3.6 -1M327.7 156.8l-4.7 -1.1M340.6 155.4l-3.3 -1.7M343.4 161.1l-3.9 -0.4M361.1 156.4l-3.8 -0.8M370.2 167.4l-3.6 0.5M354.5 156.6l-5.8 0.2M337.7 150.8l-5.4 -0.3M321.5 149.6l-3.2 -1.5M339.5 150.6l-5 1.8M354.8 163.5l-5.3 0.6M353.5 156l-5.8 -0.1M325.2 152.5l-3.6 0.6M329.8 152.6l-3.4 -1.9M342.9 151.7l-3 -1M354.3 151.2l-3.8 0.8M322.4 154.6l-5.6 -1.9M384.2 166.7l-2.9 -2.6M342.7 161.5l-4.3 -1.4M364.8 155.2l-5.7 -1.3M380.5 167.2l-4.8 -1.6M346.9 157l-3.4 -1.1M358.8 164.3l-3 -0.4M336.6 151.6l-3.3 -0.7M351.3 157.5l-4.1 0.2M352.3 160.5l-5.1 1.7M341.6 158.8l-4 0.7M344.4 157.9l-5.4 0.8M354.6 151l-4.4 1.2M387.3 162.6l-3.7 0.6M337 150.1l-3.9 -1.4M357.7 160l-4.9 -1.2M361.5 163.8l-2.9 -2.3M362 155.2l-5.5 1.4M381 163.4l-4.1 -0.3M375.4 169.9l-3.1 -2.5M340.1 160.5l-5.5 -2.4M326.4 152.1l-3.8 1.6M383.6 165.5l-3.7 -1.6M378.1 170.5l-3.9 -2.2M342.1 158l-5 1.6M376 157.8l-4.6 -2.1M329.9 157l-4.5 0.3M340.3 150.1l-4.2 1.1M320.2 158.1l-4.3 -0.1M342.6 152.5l-4.8 0.4M369 161.2l-4.2 0.4M347.2 161.4l-5 -1.8M321.7 154.2l-4 -2.2M320.3 150.8l-3.5 -1.9M330.8 160.2l-4.1 -1.7M372.4 161.9l-4.2 -1.8M363.7 166.1l-2.4 -2M350.4 156.2l-4 -0.6M378.9 157.1l-3.6 0.7M374.1 166.4l-3.4 -2.7M368.2 160.2l-3.8 -0.9M357.8 154.7l-5.5 0.8M357.5 165.4l-4.3 -1.7M350.6 153l-3.2 -2M332.2 157.1l-4.2 1.8M381.5 159.6l-4.2 -2.7M343.5 154.2l-4.9 1.2M368.9 155.4l-5.3 -0.3M365 166.5l-3.2 -0.9M355.4 162l-3.6 1M342.5 151.1l-4.4 1.4M359.6 153.9l-4 -0.1M329.6 149.8l-5.1 -2.3M357.4 163.5l-5.8 -0.6M342.7 156.5l-5.8 0.7M358.1 164.9l-5.4 -0.5M356.9 154.2l-5.3 -1.4M325.2 148.7l-5.2 -0.9M354.9 160.9l-4.6 1.2M348 155.7l-5.5 1M375.4 159.8l-4.8 -1M333.9 156.7l-5.2 1M365.8 158.5l-4.8 -1.3M338 158.7l-5.2 0.9M379.5 159.9l-3.8 -0.2M325 151.4l-5.3 0.4M364.7 157.3l-4.7 0.3M348.8 153.8l-4 -2.1M364.9 157.2l-4.2 -2.9M322.6 156.3l-3.8 1.7M357.6 158l-4.3 1.3M365.8 155.8l-3.4 -1.7M326 156.5l-3.5 1.6M326.4 150.4l-3.4 -0.1M328.2 151l-4.8 -0.1M366.3 164.8l-4.9 -0.7M338.5 150.1l-4.9 -0M345.8 159.3l-4.1 -0.9M384.6 172.2l-2.7 -1.7M349.9 157.2l-4.9 -3.4M327.1 155.4l-3.3 1.1M349.1 153.5l-3 1.1M377.4 166.6l-5.2 -2.4M359.5 164.2l-4.5 0.5M333.8 158.8l-5.3 2.4M323.1 151.1l-4 0.2M342.6 154.3l-5.3 1.5M338.3 152.9l-4.6 -1.9M355.3 157.9l-3.6 -1.8M354.6 161.7l-4.1 -0.1M387 162.7l-5.1 -0.2M330.7 156.4l-3.6 1M347.1 152.2l-4.7 -2.5M363.7 155.9l-4.1 -0.2M382.6 157.8l-4.4 0.6M359.1 154.7l-3.5 0.3M360.6 153.4l-5.8 -0.4M372.5 163.5l-2.8 -2.6M337.5 152l-5.1 -1.9M342.6 152.2l-4.8 0.3M359.5 159.4l-4.1 -0.3M383.2 166.1l-3.6 -0.3M348.8 163.3l-4.5 -1.7M364.6 154.3l-4.9 -1.4M380.2 164.4l-4.5 -2.6M377.9 158.1l-3.8 -2.3M384 166.8l-5.4 -0.8M324.1 155.8l-4.1 1.3M330.5 155.5l-5.3 -1.3M350.7 151.2l-5.3 0.6M340.9 151.6l-3.3 -2.2M385.1 171.1l-2.9 -2.4M333.2 155.8l-3.3 -1.8M334.9 160.3l-3.5 1.2M380.6 162.8l-5.4 1.1M347 159.4l-4.4 1.1M361.1 155.7l-5.2 -2.8M330.9 158.6l-4.2 -1.9M337.6 155.9l-3.9 -0.5M334.8 159.7l-5.2 -1.8M354.6 160.2l-5.3 0.4M355.1 152.1l-3.2 -1M373.5 161.3l-4.4 0M335.3 161.9l-4.5 -0.2M379.8 159l-3 -2.8M364.2 153.5l-4.1 -0.1M363.2 155.3l-5.3 0.1M372.4 166.5l-2.3 -2.2M367.5 158.1l-4 -0.1M384.4 162.7l-3.4 -2.8M376.7 165.8l-4.1 0.4M336.4 153.1l-3.2 0.5M364.1 161.3l-5.3 -0.3M360.5 155.9l-4.7 0.8M330.9 155.3l-3.6 -1M376.2 165.5l-5.5 0M384.6 164.8l-2.9 -2.2M360.4 161l-4 -3M366.4 154.7l-4.4 -0.5M329.2 149.1l-4.2 -1.3M382.4 159.7l-4.1 -2.5M330.5 155.3l-3 1.3M325.8 157.9l-5.3 -1.9M343.3 159.4l-5.2 -1.9M357.2 161.5l-4.5 -0.8M360.7 157l-5.2 -1.6M337.9 150.2l-3.6 -0.7M380.8 159.5l-3.5 -0.8M329.4 151.8l-5.2 0.2M373.4 166.1l-4.2 -1.6M366 155.2l-4.1 0.9M343 152.6l-3.6 0.8M373.4 164.8l-4.2 0.9M339.1 151.2l-4.1 0.4M380 167l-4.2 -0.1M369.2 156.9l-4.3 -0.6M326.3 149.5l-5.2 -1.5M351 153.2l-4.5 1.3M331.2 153.9l-4.1 0.4M385.8 159.4l-5.3 0.6M321.2 155.2l-3.5 1.5M346.9 150.1l-4.3 1.6M387.7 161.9l-4.1 0.9M329.3 153.8l-5.3 1.5M371.3 158.4l-4.6 -1.3M323.7 150.5l-5.1 -1.2M334.6 157.7l-4.5 -1.4M345.3 155.3l-4.6 1.8M344.1 160.1l-4.9 -1.8M351.4 153.8l-5.2 -0.8M348.1 156.8l-3.7 1.2M331.2 162.5l-5.3 -2.3M350.7 151.1l-5.2 0M379.3 158.5l-4.8 -1.1M360.2 159.7l-3.6 -0.2M366.2 165.5l-2.4 -1.9M350.9 153.4l-4 -1.1M323.7 153.4l-2.8 -1.7M379 168.3l-2.8 -1.2M344.4 157.4l-5 -1.3M369.8 168l-5 -0.5M351.9 153.6l-4 -0.2M363.2 165.9l-3.3 -1.2M358.3 154.4l-3.8 -0.7M329 158.9l-2.7 -1.6M382.6 159.6l-3.2 0.6M366.9 165.8l-4.5 0.4M385.1 159.7l-5.7 -1.2M324 157.1l-4 -1.2M353.6 152.9l-4.7 -2.5M359.9 160.3l-3 -1.2M340.3 156.4l-5.4 0.5M358.3 152.7l-5.5 0.2M349.6 156.6l-4.6 0.2M367.5 163.7l-4.4 -1.1M350 156.1l-5.2 -0.8M332.2 150.8l-3.2 -1.4M337.4 154.1l-3.4 1M346.7 154.2l-4.9 0.6M373.1 164.5l-2.9 -0.8M351.7 154.5l-3.9 0.2M320.8 148.1l-4.1 -0.3M352.3 153.2l-4.2 -2.9M367.1 165.3l-3.8 -2.8M357.5 153.7l-4.3 -0.7M321 158.3l-3.3 -0.8M360.3 160.7l-4 -1.1M366.4 159l-4.1 -1.2M385.7 168.3l-3.5 0.8M321.7 150.2l-3.6 -2M337.7 161.1l-3.2 0.5M337.7 161.4l-3.2 0.7M349.2 153.8l-4.7 -3.3M352.2 155.3l-5.3 1.1M372.9 157.6l-2.8 -1.5M339.4 153.3l-5.1 0.9M363.8 158.5l-5.5 -1.3M369.6 163.7l-4.4 0.2M374.6 159.5l-4.7 -3.5M377.4 166.7l-5.3 -2.2M346.2 152.8l-3.2 -1.8M384.3 163l-4.1 -0M374.4 169.5l-3.4 -2.5M351 163.3l-5.4 0M368.6 159.7l-3.8 -2.9M369.6 166.1l-5.4 -0.5M377.2 170.3l-4.5 -2.6M346 162l-4.9 -3.1M382 162.5l-4.8 -2.8M367.9 157.8l-3.8 -2.7M386.4 166.3l-5.3 -1.9M352.7 163.3l-3.8 -1.9M363.4 165.5l-3.9 0.1M342.5 152.2l-4.4 -0.4M353.2 163l-3.4 -0.1M330.8 152.6l-5.7 0.2M371.1 159.9l-3 -0.1M349.3 155l-5.5 -0.8M333.9 156.7l-5.2 1.1M357.8 162.3l-3.4 -2.5M352.8 160.1l-5.7 -0.1M356.3 154.8l-4.5 -1.5M373.1 156.9l-5.1 -1.4M362.4 162.4l-4.5 -1.3M376 160.5l-4.5 -0.5M351.3 160.5l-4.9 -0.8M374.2 165l-2.8 -2.7M361 164.5l-5.4 1.1M376.4 160.8l-2.3 -2.2M373.8 167.8l-4 -1.1M322.8 160l-4.7 0.4M349.9 155.1l-4.6 -1.3M339.4 149.6l-4.6 1.9M320.4 149.5l-3.5 -0.6M327.3 151.8l-3.2 1.3M345.1 154l-5.8 0.2M351 163.4l-3.1 -0.7M366.3 161.2l-5.6 0.5M359.4 156.9l-5 0.3M383.2 170.7l-3.9 0.4M363 163.1l-3.8 -0.3M365.1 162.5l-5.3 -1.4M359.3 158.9l-5.4 -0.1M365.4 160.3l-4.5 -3.3M324.2 159.9l-4.9 1.2M346.4 158.3l-5.2 1.1M380.9 160.9l-4.1 -2.1M359.6 156.6l-2.7 -2.1M348.4 156.6l-4.1 -1.3M386.4 166.8l-3.7 -1.1M361.4 158.5l-5.4 -0.2M336 154.9l-4.8 -0.2M346.7 162.1l-4.3 0.4M379.7 167.6l-3.4 -2M328.5 152.1l-3.3 -0.6M371.9 156.8l-4.3 -3.3M356.1 154.5l-4.3 0.5M365.3 156.5l-3.3 0.5M327.8 158.8l-5.1 -0.1M383.8 163.7l-5.5 -0.8M376 157.5l-4.7 -0.9M343.8 155.7l-3.3 -1.4M358 157l-4.1 -2.2M329.6 150.3l-2.8 -1.5M374.9 166.1l-2.7 -1.5M374.8 167.5l-3.2 -1.9M383.6 164.9l-3.3 -1.7M338.3 153.6l-3 0.6M331 156.6l-3.9 -1.2M377.5 159.6l-3.8 -3.2M355.5 164.3l-4 -2.6M346 155.6l-5.7 -0.7M348.8 159.3l-5.3 -2.6M320.2 149.1l-3.2 0.5M380.3 164.2l-3.2 -0.5M365.8 155.4l-5.5 -1.4M369.8 164.5l-5.4 1M380.9 164.8l-5 1M363.6 160.1l-5.7 -1.4M339.7 150.6l-5.1 -1.4M344 151.1l-4.9 -2.1M373.8 162.9l-5.7 -0.3M320 154.2l-3.4 -0.4M353.2 151.9l-3.8 -0.2M376.7 157.8l-4 -1.4M385.3 163.9l-4.5 0.9M327.4 156.6l-4.1 1.2M384.7 171.5l-3.1 0.3M320.9 160.3l-3.5 -0.1M343.6 153.8l-4.9 0.3M341.9 157.4l-4 -2.3M385.2 161.5l-4.5 -2M320.7 150.9l-4.6 1.6M362.7 163l-2.7 -2.4M348.4 162.7l-5.8 0.3M354.3 163.2l-3.8 -1.4M368.4 162l-3.3 0.4M365.6 163.6l-5.3 -0M356.6 163.7l-3.7 -2.8M321.3 149.5l-5.3 -1.1M347.8 155.9l-5.1 0.7M329.7 162.2l-4.6 -2M345.2 155l-4.3 0.9M360.5 162.4l-5.2 -2.1M324.8 158.2l-5.9 0.7M333.7 152.9l-4 -1.7M357.8 164.2l-4 -3.2M336.9 150.4l-3.8 0.3M359.6 153.9l-4.4 1.2M381.7 169.6l-5.2 1M381.9 164.6l-4 -1.6M342.9 152.9l-5.7 0.9M364.3 162.8l-3.8 -1.9M349.7 159.8l-3.9 0.3M349.7 150.3l-3.2 0.9M366.4 162.6l-4 -0.4M335.4 157.9l-3.9 -1.6M373.1 162.1l-3.8 -1.2M386.1 165.9l-4.5 -1.2M343.7 151l-4.3 -2.9M335 159.4l-3.5 0.4M345.4 160.4l-3.5 -0.7M365.1 156.9l-2.5 -2.1M375.7 164.5l-3.1 -2.6M362.8 163l-3.2 -1.4M354.3 155.8l-4.9 -1.9M351.9 152.5l-5.9 -0.1M359.9 154.8l-4.5 -2.6M336.4 160.8l-4.5 0.3M337 154.7l-4.6 -0.7M344 154l-5.6 -0M368.4 164.9l-4.8 0.1M347.4 155.9l-4.4 1.6M337.3 158.1l-3.7 1.1M356 153l-3.3 -0.3M375.3 159.9l-4.4 -2.1M383.9 168.7l-4.2 0.8M355.1 158.1l-3.8 1M349.9 162.3l-5 -0.1M351.9 152.5l-3.6 -0.8M357.5 156l-5 -1M345.2 154.5l-3.7 -2.3M330.5 149.2l-4.5 -0.5M356.7 163l-3.7 -2.7M370.6 164.4l-4.5 -0.7M363.5 165.8l-3.7 -2M346 153.2l-3.2 1.3M381.2 171.5l-4.3 -2.8M345.2 152.3l-5.7 -0M334.2 154.4l-3.4 0.7M375.7 162.2l-5.1 0.8M374.4 156.8l-3.6 -0.6M379.5 163.5l-4.9 -3.4M380.6 159.3l-4.7 -3.4M320.9 155.8l-5.5 0.2M359.5 166.3l-4.5 -3.4M330.9 157.5l-3.9 -1.7M360.7 163.8l-4.3 0M326.8 161.4l-3.4 -1.5M348.2 156l-3.6 0.2M351.1 152.5l-3.9 -3M356.7 157.4l-4.1 -1.2M355.3 151.8l-3.4 -1.2M354.9 159.7l-3.5 -1.7M332.7 151.2l-4.1 -2M380.8 170.7l-3.3 -1.5M330.1 156.7l-5 1.9M333.8 162.5l-5.6 -1.9M386.3 166.6l-3.6 0.1M364.1 155.2l-4.6 -0.4M362.8 163.1l-3.5 -0.2M365.1 166.6l-5.6 -1.3M380.5 163.7l-2.9 -1.6M360.4 162.3l-4.7 -2.9M328.3 157.4l-3.9 0.7M338.8 150l-3.4 -0.3M367.4 156.8l-4.4 -3.7M378.5 170.2l-3.2 0.3M354.5 161.9l-3.4 -2.7M378.7 159.3l-4.3 -0.1M376.7 163.6l-5.6 0.8M371.7 165.9l-3.1 -1.1M346.7 155.7l-4.9 -1.8M325.1 151.7l-5.6 0.5M327.1 157.1l-5.8 -0.4M342.2 156.4l-4.5 -2.6M338.9 159.3l-3.3 1.4M333.7 152.3l-3.9 -1.4M387.3 159.4l-4 0.4M342 157l-4.6 0.1M381.9 163l-3.1 -1.5M359.3 153.1l-3 -1.5M379.6 171.6l-3.2 -2.8M326.8 157.6l-5.1 -1M377.1 159.2l-3.3 -0.9M381.3 165.7l-3.2 -2.7M336 153.7l-4.5 -0.3M382.2 169.3l-5.4 -1.3M327.7 153.9l-4.2 -0.9M358.3 158.2l-3 -0.9M351.5 154.2l-3.5 -0.2M329.6 161l-4.5 0.4M353.6 154l-3.2 0.5M356.4 165l-3.8 -3M329.4 157.6l-3.6 1M363.2 157.4l-4 -0.1M376.1 166.4l-3 -1.3M357.9 153.6l-4.6 -2.3M374.4 169.2l-3.1 -2.8M372.4 165.9l-4.2 -2.1M362.3 163.3l-4.3 -3.2M348.9 159.1l-3.5 -1.9M359.9 154.2l-4.4 -1.8M334.4 149.6l-2.8 -1.4M332.6 156.9l-4.9 -1.3M362.7 160.7l-3.9 -3M347.6 149.9l-5.4 0.1M367.5 165l-4.6 -2.9M348 159.2l-4.3 1.6M363 166.8l-4.9 -3.2M359.1 154.4l-3.2 -0.8M383.9 172.1l-5.1 -2.8M331.3 155l-4.5 0.3M370.5 166.9l-3 -2.3M369.2 163.5l-5.5 -0M357.8 157.1l-4.2 0.5M366 162.2l-4.9 -2M366.6 157.9l-4.2 -0.4M338.7 150.4l-3.2 0.3M362.2 161.3l-3.8 -0.1M372.3 161.7l-4.7 1M362 156.5l-5 -2.7M331.5 151.8l-4.4 -1M343.3 156.2l-4.9 0.9M363.1 164l-3.9 -3.1M323.4 157.5l-5.4 -1.7M378.9 158.2l-4.4 0.8M378.9 159.5l-4.8 0M357.7 159.2l-4.2 -2.9M331.7 154.4l-5.2 -0.9M370.3 156.9l-3.6 -3.1M354.4 160.9l-5.2 0.2M336 159.1l-3.3 0.9M332.7 159.8l-3.1 -0.4M353.2 161.4l-4.6 -1.1M345.9 156.3l-5.7 -0.5M347.4 155.6l-4 -2M364.3 155.8l-5 -1.6M377 162.6l-5.2 -0.6M344.1 161.9l-5.5 0.5M331.8 155.3l-2.9 -1.8M340.7 162.1l-4.8 -1.9M351.1 156.5l-5.6 -0.2M337.9 159.1l-3 -0.9M351.9 156.5l-2.9 0.9M372.7 162.9l-3.8 0.9M341 151.6l-3.5 -2.3M337.7 152l-5.6 -0.4M336.6 150.5l-5.2 -1.8M323.3 160.3l-5.4 -1.8M334.7 149.5l-3.4 -0.9M329.7 152.4l-3.3 -0.7M327.6 157.9l-4.5 -2.8M378.7 159l-4.5 1M387.8 165.2l-5.2 -2.7M357.4 161.8l-5 -1.5M327.8 155l-4.5 -1.5M351.6 151.8l-4.8 -2.4M347.2 152.2l-3.1 0.6M383.3 159.3l-4 -1.1M351 155.8l-4.7 -2.6M388.8 160.8l-5.5 -0M355.3 160.9l-2.7 -1.4M335.5 153.7l-3.8 1.1M329 150.1l-3.8 -1.9M384.7 168.9l-4.9 -3.4M333.9 149.4l-3.8 -0.8M328.7 155.3l-4.2 -0.1M359.8 159.3l-4.3 -1.7M355.9 161.2l-4.4 0.6M337 160.1l-5.6 0.5M338.9 162.3l-3.5 -1.1M371.8 161.7l-5.1 -1.6M357.7 152.1l-4.2 0.1M386.5 169.4l-5.7 0.8M348 159l-3.7 -1.7M364.4 163.1l-4.8 0.3M382.4 163.5l-4.8 -0.4M323 157.9l-4.7 -0.8M359.2 162.6l-4.8 -0.7M322.7 149.6l-5.4 -1.7M335.9 150.2l-3.9 0M376.5 167.7l-4.7 -0.5M382.1 160.3l-4.7 0.4M352.2 155.7l-5.1 -0.9M385.7 168.7l-3.4 -0.3M368.6 162.9l-4.1 0.2M369.6 160.9l-4 -3.8M358.2 158.3l-2.8 -1.9M334.7 161.1l-5 -3M344.4 158l-5.1 -1.3M367.2 161.7l-5.5 1.1M386.6 168.9l-5.6 1M379.7 158.3l-5.3 -1.2M334 156.9l-3.2 -1.1M327.3 152.4l-3.2 0.3M365.4 155.6l-3.1 0.5M349.6 163l-4.2 -1.9M348.6 150.5l-5.4 0.7M339.7 155.8l-4.2 1.5M326.6 156.6l-4.7 -0.4M320.8 151l-4.5 -1.1M349.4 153.2l-5.2 -2.1M355.3 151.3l-3.6 0.9M321.5 157.8l-4.2 -1.4M386.3 168.8l-3.7 -3.5M375.9 166.6l-5.7 0.5M368.3 154.4l-3.4 -0.4M368.3 157.2l-4.9 -0.5M384.8 171.9l-3.4 -0.1M346 160.3l-5 1.7M380.8 162.5l-5.7 1.2M328.8 153.3l-4 -0.5M338 158.3l-3.3 1.4M374.8 159.3l-3.5 -0.4M338.4 150.9l-4.6 -1.8M344.8 161.4l-4.8 -0.5M385.1 165.2l-5 1.2M385.2 169.3l-5 0.5M381.7 168.1l-3.4 -2.1M370.9 164.2l-2.5 -2.1M364.1 161.8l-2.8 -2.1M354.1 159.3l-3.6 -2.5M385.4 161.4l-3.4 0.3M374.3 161.2l-5.8 -0.6M328.3 153.1l-3.1 -0.2M340.8 158.1l-4.3 -2.1M365.8 162.1l-4.7 -1.1M368.2 159.1l-3.5 -0.2M386.2 162.6l-5.2 -1.2M353.6 163.8l-4.4 -0.6M386.6 162.1l-3.6 -1.2M356.5 164l-4 -1.4M333.9 155.4l-2.6 -1.6M342.6 155.2l-5.3 0.6M369.6 162.6l-3.4 -1.3M359.6 152.1l-5.7 0.1M362.2 166l-5.7 -1.4M361.4 166.6l-4 -3.5M356.3 161.9l-2.9 -0.8M342.4 153.4l-4.3 -2.4M320.5 153.3l-4.5 1M383.7 170l-4.2 -1M387.4 162.9l-5.6 -1.4M335.5 149.7l-3 -0.6M325.3 156l-4 -2.5M320 154.7l-3.6 -0.2M381.3 159.3l-4.3 -1.1M331.9 158.6l-3.6 -1.7M337 161l-5.7 0.5M321.5 148.3l-3.1 -0.1M378.3 161.8l-4.3 -2.2M340.5 162.3l-4.7 -0.8M353.7 159.2l-5.2 1.4M386.5 161.9l-2.9 -2.2M355 162.9l-5.1 -1M383.6 168.1l-5.8 0.7M377.3 168.2l-4.3 0.6M378.8 164.9l-4.6 -2M360.6 152.8l-3.5 -0.3M385.4 166.6l-3.3 -2.1M382 170.7l-5.7 -1.5M334.9 162.1l-3.8 -0.6M349.4 160.6l-5 -2.5M340.1 150.8l-3.7 -1.3M330.3 159.2l-5.6 0.7M339.2 157.5l-5.2 -2.9M384.3 171.4l-4.1 -0.5M371.4 165l-4.2 -0.7M327.4 160.2l-4.5 -1.6M343.7 155.4l-3.1 -1.5M323.2 154.1l-4.5 -1.5M345.9 153.4l-5.3 1.1M357.9 155.7l-3.4 -1.2M381.9 170.1l-4.7 -3.2M321.5 151.4l-3.4 0.1M342.1 160.5l-5.2 -1.5M343.2 162.7l-5.6 -1.7M363.1 162.7l-3.8 -1.1M384.8 169.5l-4.1 -0.6M345.9 160.2l-4.2 -3M378.7 161.7l-3.2 -0.1M337.8 154.5l-4 -1.7M335.8 157l-4.8 0.3M378.3 163l-5.5 -0.2M365.5 163.4l-4.1 -3.6M341 160.5l-3.1 -1.5M324 151.7l-3.3 -0.1M374.9 168.3l-4.5 0.1M324.7 149.8l-4.3 -1.4M346.3 159.5l-5.3 1.2M373.7 166.8l-3.6 0.5M342.8 159l-4.1 -1.9M365.3 165.2l-3.3 -0.1M359.4 155.8l-3.9 -2.5M343.3 158l-4.9 -3M356.3 153.7l-4 -0.6M348.2 152.3l-5.1 1.5M348.2 155l-5.4 -2.1M348 152.2l-4.3 -1.9M366.4 161.5l-3.1 -1.3M342.2 151.9l-3.9 0.5M379.3 168.3l-3 -2.2M356.8 156.6l-3.9 -1.1M332.6 158.7l-5.3 1.3M365 165.7l-4.4 -3.3M354.5 153.9l-4.6 -2.1M336.3 152.4l-3 0.6M372.8 159.3l-3.4 -2.1M379.4 167.7l-4.5 -3.6M342.2 156.8l-4.8 0.4M324.1 157l-4 -1.2M350.5 161.2l-5.8 -0.9M330.6 155.7l-3 -1.9M326.8 152.4l-4.5 0.2M353.2 163.3l-3.3 -0.8M334.8 159.1l-3.1 -0.5M374.3 169.4l-3.2 -2.3M385.1 172.6l-3.5 -3.2M324.6 157l-5.3 2.3M379.9 165.5l-3.2 -0M353.6 160.4l-3.5 0.7M362.8 167.4l-3 -2.6M351 158l-3.7 0.1M377.1 168.4l-3.1 -2.8M355.6 160.7l-5.1 -2M331.5 157.9l-2.8 -1.5M344.3 158.8l-5.1 -0.5M361.2 154.7l-3.2 -0.1" fill="none" stroke="#111" stroke-width="0.9"/>
<path d="M474 268.9l-2.4 -3.2M474.3 299.5l0.2 -5.7M458.5 244.5l-0.3 -3.7M475.6 301.5l-0.1 -3.8M464.4 236.8l-4 -4.3M483.9 313.3l-1.2 -2.8M474.5 290l-1 -5.8M466.6 265l-0 -3.5M465.5 259.7l-2 -3.9M482.5 319.5l-0.4 -3.9M485.8 340.2l1.1 -5.8M475.8 285.1l0.9 -3.7M477.5 301.7l1.5 -5.3M481.2 312.1l1.1 -4.4M483.3 335.6l-1.4 -4.2M475.5 280.5l-3.4 -4.9M479.8 299.9l-0.7 -4.1M459.3 248.9l0.2 -5.7M485.2 344.9l-0.5 -3.7M457.3 236.8l-0 -3.6M481.5 326.8l0.8 -3.3M474.1 273.2l-1.1 -3.4M476.5 298.9l-0.9 -5.1M477.5 301.9l0.5 -3.5M479 292.8l-0.6 -4.5M460.9 243.9l-2.8 -3.7M474.1 279.9l-0.5 -3.7M479.8 330.3l-2.6 -5.2M473.6 286.6l-1.4 -2.9M470.4 281.1l0 -4.3M474.8 290.7l0.5 -3.1M471.9 285.8l-1.8 -2.7M475.5 298.8l1.4 -5M477.9 341.2l2.1 -5.6M461.7 255.8l1.4 -5.5M479.6 322.9l-0.3 -3.2M480.3 337.8l-0.9 -3.5M480.8 298.3l0.6 -3.7M469 252.5l-2 -4.1M458.4 233l-0.1 -4M485.1 330.7l-1.6 -5.5M478.5 286.8l-0.9 -3.4M474.5 288.3l1.1 -5.1M469.1 278.5l-1.9 -2.3M484.2 332l-1.4 -3.5M484.6 339.6l-2.3 -3.7M477.3 318.7l-0.3 -3.1M481.5 319.6l-2.4 -3.5M455.2 234.6l-1.6 -5.3M480.2 342.2l-0.7 -5.7M457.8 238.8l-3.1 -4.3M479.7 305.5l0.6 -3.1M465 247.3l-0.9 -3.5M466.2 253.3l-1.2 -4.6M481.2 325.2l-0.2 -4M465.2 243l-0.9 -3.9M476.9 317.9l0.2 -5.7M478 322l-1.3 -5.1M482.7 310.6l0.6 -5.8M480.9 290l-3 -3.6M478.8 293.1l-3 -4.6M477.8 305.7l-1.1 -4.6M476.5 289.6l-2.2 -3.2M478.2 315.5l0.5 -5.7M465.9 241.9l-3.7 -4M469.2 257.9l-2.1 -5.1M481.1 310l-1.7 -3.8M479.5 332.1l-2.4 -4.4M479 331.9l-0.4 -4.2M464.7 240l-2.3 -2.6M481.2 336.1l-0.4 -4.8M466.2 255.2l0.5 -3.7M462 260.2l-0.2 -5.9M472.3 270.1l0.3 -3.1M479.6 326.1l-0.7 -5.3M483.4 324.4l-0.6 -5.2M474.9 288l0.8 -4.5M465.5 259.5l-2.4 -3.5M478.5 291.6l-2.4 -3.7M468.8 266.7l0.3 -6M473.6 280.8l-2 -2.5M479.1 341.7l1.1 -4.6M475.6 277l-2 -3.1M465.8 248.2l-0.4 -3.7M474.9 307.7l-0.8 -5.8M477.5 328.9l1.5 -4.2M463.4 239.6l-0.8 -5.8M473.9 288.6l-0.8 -4.8M479.3 333.4l-0.7 -3.1M482.9 307.5l-1.2 -3.6M476.5 301.5l-2 -3.9M459.9 249.9l-0.6 -3.9M477.8 333.1l1 -4.3M467.1 273.2l-2.7 -4.8M464 260.9l-0.1 -3.7M481.7 313.7l-1.3 -5.1M474.4 270.9l-1.9 -5.3M478.3 285.8l0.4 -3.8M479.8 341.7l1.3 -4.9M478.9 331.9l0.2 -4.3M465.2 246.9l0.4 -3.4M462.9 255.4l0.7 -5M473.2 307.1l1 -4.2M470.7 259.1l-1.1 -4.1M474.3 274.3l-1.6 -3.4M481.5 319.3l-3.5 -4.9M479 327.1l0.5 -5.3M465.1 253.3l0.3 -4.4M464.8 245.4l-0.3 -5.7M479.8 312.6l-0.5 -4.6M483.4 319.5l-0.9 -4M477.5 302.8l-0.4 -3.1M478.3 285.3l-1.1 -4.8M487.5 336.5l-1.9 -4.8M473.3 263.4l-2.9 -3.9M479 317.7l0.8 -3.9M485.3 340.7l-1.4 -4.1M463.7 243.3l-0.3 -3.4M470.3 288.4l0.5 -5.4M467.3 255.8l-0.9 -5.1M485.1 343.8l0.2 -5.9M467.1 261.2l-1.7 -5.7M481.5 303.5l1 -3.8M466.2 254l-2.2 -3.1M477.5 323.7l-0.8 -4.2M484.9 337.6l1.6 -4.7M476.2 294.8l0.5 -5.6M481.3 337.9l0 -4.2M479.2 286.4l-1.3 -2.7M479 326.9l-1 -4.5M461.7 238.9l-1.4 -4.8M477.8 317.9l0.2 -6M480.7 312.3l-1.5 -4.2M454.5 237.8l-1.8 -3.9M483.1 332.1l0.3 -5.8M472.7 295.3l-2.2 -4.9M468.3 264.8l-2.5 -3.3M475.7 299.5l-0.9 -3.9M478.8 284.6l-2.1 -3.5M482.4 331l-1.3 -5.3M468 262.1l-0.6 -3.7M471.2 289.7l-0.4 -3.7M467.2 260.5l-0.8 -4.7M485.3 344.3l-2.6 -4.5M481.8 331l-1.4 -5.1M476.1 296.8l0.8 -3.2M473.7 290.5l-1.9 -3.9M480 306.3l-0.8 -4.6M456.1 237.7l-0.6 -3.9M475.9 278.2l-2.1 -3.2M463.8 243.1l0 -3.2M472.6 271.3l-2.2 -4.9M478.6 299l0.1 -4.1M479.9 340.7l-2 -4.7M467.8 256l-1.1 -5.6M484.1 315.8l-2.1 -3.3M457.3 234.1l-2.7 -3.7M468.5 266.8l-0.4 -5.6M480.9 301l-2.8 -4.2M466.4 251.2l-2.1 -2.9M478.1 300.4l-1.6 -4.3M484.7 335.5l-2.4 -4.3M465.8 262.7l-1.9 -5.5M465.6 262.4l-3 -4.4M483.1 327.3l0.2 -4.6M483.4 328.8l-3.1 -5.1M475.8 285.1l-2.4 -3.1M484.1 319.4l-2.5 -3.9M479.3 317.5l-1 -3.2M477.9 313.2l-2 -3M468.1 258l0.7 -5.4M471 263.5l0 -3.5M476.4 325.7l0.8 -3.8M470.5 268.6l-2.7 -4.9M471.1 266.7l0.2 -4.8M477.1 284.2l-1.1 -4.2M474.2 314.9l1.5 -5.8M479.5 291.1l-2.6 -5.2M481.6 334l1.5 -5.1M469.5 274l0.2 -4.7M478.7 307.9l0.8 -3.5M470.7 276.4l-0.5 -3.5M462.6 238.7l-0.2 -3.6M479.2 295.7l-0.7 -4.1M481 322.7l-1.9 -3M483.9 333.9l1.6 -5.6M468.1 252.7l-3.2 -3.9M484.6 337l-1.8 -5.1M482.9 305.1l-1.9 -5M476.4 314.4l-0.5 -5.2M459.3 232.2l-2.2 -4.6M470.9 278.6l-1.5 -5.6M463.1 238.4l-2.3 -2.3M476.9 322.4l-1.7 -3.5M471.6 263.6l-0.5 -3.9M476.9 316.2l-0.9 -4.4M471.7 280.5l0.1 -3.8M470.8 286.5l-1.7 -3.7M485.5 336.8l-2.9 -4.8M475.7 285.8l-1.7 -4.5M468.7 259.9l-0.2 -4.6M482.6 320l-1.2 -4.7M469.4 257.1l-2.4 -3.5M482.9 344.6l0.5 -4.9M481.4 338.5l-1.7 -2.9M480.1 340.9l0 -5.3M456.6 238.1l-0.8 -5.1M483.3 311.2l-2 -4.7M482.4 325.2l-2.4 -4.1M477.9 324.2l0.2 -5.4M468.5 265.1l-3.7 -3.7M483.5 314.9l-0.3 -5.9M481.7 323.1l1.4 -4.6M482.4 304.7l-1.7 -4M460.1 241.1l-1.9 -5M470.5 265.1l0.5 -3.8M477.7 290.4l-0.1 -5.9M482.1 320.9l-0.5 -4.4M476.4 285l-0.8 -3.4M476.1 291.2l0.9 -4.8M458.7 246.7l-0.3 -3.3M486.2 340.7l0.6 -4.4M468.1 250.6l-2.5 -4.7M472.6 274.4l-1.7 -2.6M478.1 311.4l-0.4 -5.9M483.5 314.5l-0.6 -5.1M470.4 263.6l-3.7 -4.6M467.3 262.4l-2.1 -3.5M464.6 267.6l-1.3 -4.2M469.2 275.1l-1.5 -4M476 308.5l1 -3.8M482.7 336.5l-1.4 -3.7M467.5 253.4l-0.1 -3.1M477.5 318.9l-1.7 -3.3M480.5 312.9l-0.8 -3.3M460.4 243.4l-0.9 -3M483.8 336.7l-0 -4.5M471.9 272.7l0.7 -3.8M468.5 261.8l-1.6 -3.2M473.2 302.8l0.2 -5.7M469.8 277l-1.5 -3.8M479.2 323.7l0.9 -4.9M473.4 288.1l-1.1 -5.9M476.1 327.1l1.4 -4.6M480.8 326.5l0.3 -4.5M486.6 343.3l1.2 -3.3M458.5 235.9l-2.5 -1.8M482.7 328.5l1.6 -5.1M467.1 248.8l-2.3 -5.1M461.8 236.7l-3.9 -3.7M484.6 322.6l-0.6 -4.1M467.5 250l-2.5 -5.3M464.2 264.2l-2.5 -4.8M480.2 341.5l1.2 -4.5M476.6 297.3l0.6 -4.4M472.1 275.6l-1.8 -4.6M474.8 293l-2.8 -4.9M460.8 235.6l-3.3 -3.2M471.9 294.3l0.1 -5.2M475.6 312.6l-1 -3.4M475.9 282.4l-2.5 -4.3M465.9 268.2l-2.9 -3.3M481.4 312.6l-0.1 -5.2M483.8 320.6l1.1 -4.5M475.8 273.5l-1.1 -2.8M480.2 324.5l1 -4.6M473.8 295.3l-1.2 -5.5M477.4 285.9l-0.6 -3.3M467.9 265l-2.3 -3.5M483.6 319.9l1.8 -5.2M477.6 316.5l-0.1 -3M454 239.3l-0.2 -4.9M477.5 321l-1.3 -5.3M464.9 254.9l-1.9 -4.4M482.1 308.2l0.6 -2.9M478.9 308.6l-1.9 -2.5M457.8 234.8l-2.5 -3.3M461.2 237.2l-1.2 -3.2M476.6 304.3l-1 -5.7M476.2 320.4l-0.3 -6M463.2 241.5l-0.4 -4.9M481.7 309.7l-1.8 -5.4M477.5 325.9l1.6 -4.7M479.8 328.9l-2.6 -4.5M470.3 286.3l-0 -3.5M473 303.4l1 -3M480.6 329l-0.8 -3M484.3 327.2l1.1 -5M461.2 235.8l-0.2 -5.5M479.3 330.1l-2.6 -4.6M469 284.1l0.7 -4.9M462.9 245.4l-3.6 -2.9M485.9 342.6l-1.6 -3.6M470.8 264.5l-2.1 -4.7M465 266.6l-2 -2.4M476.3 284.8l-2.7 -4.7M481.5 302.4l0.5 -3.6M479.9 313.9l-0.9 -5.1M471.5 289.1l-1.5 -4.7M485.8 333.7l0.1 -3.4M487 343.7l1.3 -4.3M477.9 305.1l-1 -3.4M477.7 319.2l1 -4.3M467.9 271.7l-0.5 -3M483.7 340.7l0 -6M480 345.5l-0.5 -5.7M480.1 312.5l-2.4 -4.2M485.4 344.3l-1.1 -4.7M485.6 343.5l0.7 -3.3M481 335.6l0.8 -4M483.1 325l-2.4 -4M470.2 263.2l-1.8 -4.4M477.6 327.7l-1.8 -3.6M487.1 342.7l-0.4 -4.2M478.6 323.8l0.7 -5M460 234.1l-2.5 -1.9M484 342.5l-1.5 -2.8M480.8 306.4l-2.6 -4.7M468.5 265.7l-0.8 -3.2M456.8 232.6l-2 -5.3M462.1 243.2l-0.3 -4.6M467.1 249.1l-1.9 -3.5M481.6 333.5l-1.1 -3.8M475 280l-3.2 -3.7M456.9 232.6l-0.8 -5.9M478.6 334.1l1.4 -4.5M478.6 325.2l1.3 -3.5M455.6 232.9l-1.8 -4.8M467.9 274.6l-2.8 -4.1M465.1 267.8l-2.2 -4.7M459.5 251.1l0.9 -4.4M480.6 303.3l-0.3 -5.1M470.7 287.8l0.9 -4.7M478.3 290l0.1 -3.2M479.3 289.9l0.2 -5.7M476.9 328l0.7 -4.3M478.1 297.6l0.6 -5.6M473.5 307.8l0.4 -5.6M478.5 297l-2.7 -3.9M479.3 338.9l-0.8 -3.1M471.7 278.5l-2.5 -3.6M476.5 313.3l0.1 -5.1M483.5 326.6l0.5 -3.4M478.9 303.8l1.1 -5.8M466.1 250.3l-1.1 -5.6M472.5 281.3l-0.3 -5.8M480 326.3l-1.7 -3.7M482 308.2l1 -5.1M484.3 335l-0.7 -5.4M473.2 303.6l-0.2 -5.4M474.6 283.2l-2.4 -2.9M457.7 234.4l-2.8 -2.3M477.7 324.3l0.1 -5.6M463 261.9l-0.4 -5M476.5 304.1l-0.1 -3.3M477 318.9l0.1 -3.3M476.4 292.6l-0.7 -3.2M462.9 249.7l-1.1 -2.8M481.3 325.8l-1.5 -5.2M487.7 342l-1.9 -5M480.9 324.2l-1.6 -3.8M479.5 305.1l-2.8 -3.8M462.2 254.5l1 -5.8M470.7 288.8l0.1 -4.1M462.2 243.3l-1.5 -4.3M480.2 318.8l-0.1 -4M468 249.9l-1.3 -5.7M480 306.7l0.4 -5.6M480.3 322.5l0.9 -5.1M472.4 276.7l0.6 -3.3M482.5 312.7l-0.6 -3.4M482.2 308.4l-3.5 -4.7M475.7 285.8l-0.7 -4.7M480.4 324.1l0.7 -3.8M464.1 263.9l-0.6 -4.7M467.6 249.5l-1.9 -2.4M466 249l0.5 -3.3M482.6 334.3l-2.1 -3.3M473.6 304.8l1 -4M483.7 318.4l-1.2 -4.2M474.7 286.4l-2.3 -2.9M467 272l0.5 -5.7M473.4 298.4l0.5 -3.3M475.4 294.8l-0.3 -5.2M478.4 315.2l-1.7 -2.8M465.7 266.1l0.4 -5.2M473.9 312l1.3 -3.8M473.6 281.2l-0.5 -6M477.7 292.3l-0.5 -3.2M481.3 344.3l-1.7 -5.7M458.4 237.1l-1.4 -4.6M480.9 339.1l-0.7 -4.1M469.8 285.6l-0.5 -3.5M469.8 272.3l-0.1 -3.3M483.2 336.2l0.9 -3.6M479 335.2l-0.8 -4.4M479 336.9l-0.2 -5.7M472.7 294.8l-2 -3.9M482.7 313.2l-2 -4.4M455.6 239l-1.5 -3.2M471.2 273.3l-2.9 -3.4M483.5 329.9l-0.2 -3.5M476.8 298l-0.3 -5.7M484.4 328.7l-0.6 -3.5M478 306.1l0.6 -3.6M482.1 332.1l-1.2 -3.2M462.5 249.7l-2.9 -4.4M477.8 324.1l0.2 -5.3M479 292l-2.7 -4.6M461.3 240.9l-2.1 -3.3M473.3 268.9l-1.1 -3.2M459.5 249.7l-0.6 -4.9M483 313.8l-1.3 -3.5M465.5 266.7l0.1 -3.5M477.9 331.1l1.5 -4.7M461.6 249.5l-0.6 -5.8M455.7 234.1l-1.4 -5.1M483.1 332.4l-0.9 -4.2M479.1 311.6l-0.2 -4.5M466.4 266.8l-0 -4.4M473.9 292.4l-2.5 -3.5M479.3 295.4l-0.6 -3.6M465.2 244.9l-0.2 -5.3M462.3 257.1l-2.2 -4.6M477.6 288.3l0 -3.8M476.8 284.5l-2.4 -4.3M471.7 286.2l0.4 -3.9M482.1 343.3l0.7 -4.3M471.6 269.1l0.5 -3M486.5 340.3l-2.2 -3.5M467.5 251.4l0.3 -4.2M465.1 270.6l0.5 -4M467.8 265.8l-0.7 -3.1M481.7 301.3l-2.3 -5.3M475.7 286.5l-0.6 -3.9M477.1 289.4l-0.8 -3.4M466.1 248.2l-1.3 -3.6M477.7 322.9l-2.5 -4.7M468.3 271.8l0.4 -3.8M473.2 293.7l0 -4.4M481.8 327.7l1.1 -3M482.2 334l-3.1 -4.8M474.3 271.9l-1.2 -3M484.5 324.5l-1.6 -3.4M464 252l-1.3 -3.6M461.6 247.1l-1.5 -3.3M465.9 256.6l0.8 -4M484.2 344.2l-2.5 -4M473.8 299.1l-1.8 -4.4M460.8 253.2l0.2 -5.1M470.5 273.3l-0.3 -5.8M464.3 248.5l-1.4 -3.3M455.3 239.3l-0.6 -4M478.3 328.6l0 -5.9M464.1 262.1l0.2 -3.8M464.7 244.7l-1.6 -3.8M466.9 273.3l-1.8 -5.1M476.1 296.6l-0.5 -4.8M467.9 278l-1.1 -4.7M462.1 250.8l-2.1 -4.3M479.1 292.1l-0.8 -5.2M486.2 345.2l-2.5 -4.4M481.1 294.8l-2.5 -4.7M478.8 307.5l-0.4 -4.4M474.1 306.2l-1.3 -4.5M476.3 284.7l-1.8 -2.6M484.1 331.6l0.4 -5.2M465.6 260.1l-1.8 -2.6M458.5 234.1l-1.6 -3.2M473.9 276.2l-0.1 -3.1M463.9 255.8l-1.4 -3.1M461 232l-3.9 -2.9M465.6 259l-1.2 -2.9M479.8 291.9l-1.6 -5M479.4 327.1l1.4 -5.4M484.7 327.6l-1.5 -3.3M481.5 315.8l-2.1 -4.8M469.3 282.2l-0.3 -5.8M483.8 335l0.9 -3.6M474.9 297.7l-0.8 -4.3M477.5 284.5l-3.7 -4.3M475.9 293.7l-1.8 -3M477.3 316.2l-2.8 -4.2M482.7 334.2l1.4 -3.6M477.4 303l0.4 -3.5M484.5 338.4l-2.2 -3.3M472.5 293.9l-1.5 -4.4M472.3 269.7l-2.4 -3.7M478.3 338l0.5 -5.8M475.2 299.6l-0.1 -4M481.8 316.2l-0.3 -3.7M476.5 300.4l-1.9 -3.8M462.9 253.8l-2 -4M480.7 302.6l-0.1 -5.8M487 342l-1.5 -4.8M481 308.6l1.1 -3.5M464.4 263.1l-2.2 -2.7M481 306.7l-1.5 -5.5M466.6 261.6l-1.5 -4.1M486.1 335.7l-0.8 -5.2M478.7 321.8l-1.6 -4.9M479.4 322.9l-2.6 -5.1M462.3 250.1l-1.5 -3.3M464.6 261.7l-0.9 -3.1M454.8 237.8l-1.5 -4.4M455 234l-2.5 -3.6M476.8 324.3l-0.1 -5.2M476.9 313.2l0.7 -5.2M475.4 316.2l0.4 -4.1M475.8 314.3l-1.9 -4.6M485.5 331.5l0 -3.2M460.1 252.4l-0.2 -5.4M479.2 303.2l1.6 -4.7M481.7 304.4l0.2 -3.5M482.5 312.8l-0 -3.7M476.4 295.6l-3.3 -4.5M484.9 323.2l-2.2 -5.1M455.2 236.9l-3 -4.5M471.4 291.7l-0.6 -5.4M459.9 241l-4 -3.5M455.7 236.6l-3.3 -4.4M470.1 277.1l0.5 -4.8M487.3 340.5l-1.2 -4.1M479 316.6l0.2 -3.7M481.7 339.5l-1.6 -2.8M460.7 244l-0.1 -5M476.6 301.1l-0.1 -3.3M475 295.3l0.5 -4.2M476.2 276.9l-0.9 -3.4M456.5 242.8l0.1 -5.5M472.6 267l-1.5 -3.6M472 281l1.1 -5.1M485.5 340.1l1 -5.3M474.1 294.3l-0.8 -5.7M484 322.2l0.6 -5.4M479.9 318.8l-1.1 -3.8M479.7 331.6l0.7 -3.9M484.7 320.4l-2.8 -3.7M462.2 236.6l-3.6 -4.1M486.9 332.4l-1.4 -5.1M483.1 311.2l-3.1 -4.4M473.3 276.5l-1.2 -3M467.5 261.4l-3.4 -3.6M484.2 330.6l1.7 -5.5M479.8 333.9l-2.2 -3.8M482.1 305.5l-1.9 -3.4M482.5 314.2l0.3 -4.3M470.8 274.1l-0.2 -3.4M480.3 341.4l-1.9 -3.9M458.5 241.5l-3.4 -3.2M482.4 316.7l-3 -4.6M478.5 312.8l-1.7 -4.6M463.3 259.7l-1.3 -2.8M470.1 282.5l-0.2 -4.4M473.7 294.2l-2.2 -5.2M480.9 318l-3.1 -4.4M469.8 260l-0.3 -3.3M472.2 274.4l-1.1 -4.7M473.2 301.9l-1 -5.7M471 266.8l0 -5M472.7 271.4l-2.6 -5M481.9 311.5l-0.5 -3M478.5 292.8l-0.3 -4.5M476.6 323.6l0.2 -3.9M475.3 298.1l-1.4 -3M467.5 272.1l0 -3.8M479.6 320.9l-1.6 -5.8M474.9 295.8l1 -3.1M469.8 269.9l-3.9 -4.2M474.4 301.4l-2 -3M467.4 276.1l0.5 -5.6M456.3 235.3l-0.5 -4M481.1 343.7l1.9 -5M479.9 304.4l-0.2 -4.9M459 230.1l-0.6 -3.4M476.6 312.4l-0.6 -3.3M455.3 237.2l-1.9 -3.5M454.6 233.4l-2.5 -4.4M480 298.3l-0.1 -3.3M476.4 298.3l-0.8 -3.9M468.3 275.2l-2.8 -3.3M485.7 339.1l-2.2 -5.1M474.3 288.9l-0.3 -5.9M484.7 319.5l-1.1 -4.5M469.1 273.7l-0 -3.8M470.5 255.7l-3.3 -3.6M470 255.2l-1.7 -5.1M484.9 335.9l-0.9 -3.2M465.6 249.3l-1.3 -5.5M479.3 329.4l0.5 -3.6M482.8 335.1l-2 -5M469.2 264.4l-2.7 -3.2M465.7 272.8l0.1 -4M470.9 275.4l-1 -3.7M470.9 274.4l-1.9 -3.4M469.5 273.6l-0.3 -5.7M468.6 270.3l-0.3 -3.2M480.8 312.2l-0.5 -4.2M472.1 271.4l-4.3 -4.1M474.2 287.1l-2.4 -4M471 269.7l-2.6 -5M465.3 249.8l-1.1 -4.1M485.7 334.6l-0.6 -3M473.4 282.1l0.8 -3.3M460.9 241.5l-2.4 -1.8M484.6 344.5l0.5 -5.1M476.8 305.4l-1.2 -3.8M465.7 249.5l-2 -3.5M486.5 341.2l0.7 -5.6M472.5 292.6l-2.5 -3.3M473.3 287.2l-2.4 -3.8M483.6 309.7l-1.9 -3.9M479.6 333.9l0.4 -4.3M466.8 246.5l-1.6 -2.8M479.6 340.1l-0.2 -3.7M480.1 312.8l-3.4 -4.7M473.8 273.4l-2.4 -3.2M478.1 300.7l0.5 -5.4M460.3 237.1l-2.7 -3.6M480.9 311.1l0.6 -4.1M466.8 266.6l-3.2 -3.1M458.4 244.3l-2.5 -2.2M461.1 232.1l-4.2 -3M460.7 233.7l-4.2 -3.3M473.7 282.1l-0.1 -3.2M469.1 276l-2.4 -3.4M468.2 257.1l-2.3 -5.3M479.4 295.4l-0.8 -3.4M471.3 279.9l0.9 -4.9M454.1 233.2l-2.2 -3.6M482 318l-0.3 -3M466.7 253l-3.3 -3.8M484.4 314.4l-1.6 -3M472 281.1l-1.4 -4.8M479.8 330l-1.7 -4.6M475.8 296l-1 -3.4M461.2 247.8l-1.1 -4.6" fill="none" stroke="#111" stroke-width="0.8"/>
<path d="M82.1 356.4L82.2 353.4L82.4 349.4L82.6 344.7L82.9 339.5L83.2 334.3L83.4 329.4L83.6 324.7L83.6 319.8L83.7 314.7L83.9 309.4L84.2 303.9L84.9 298.3L85.9 292.7L87.4 287L89 281.6L90.7 276.4L92.2 271.6L93.5 267.3L94.7 263.4L95.7 259.8L96.7 256.6L97.6 253.6L98.5 250.7L99.3 247.8L99.9 244.9L100.4 241.7L100.9 238.2L101.6 234.4L102.7 230.2L104.4 226L106.6 221.9L109.1 218.4L111.7 215.2L114.2 212.3L116.5 209.6L118.5 207.2L120.4 204.7L122.2 202.2L124.3 199.5L126.5 196.6L129.1 193.6L132 190.7L134.9 188L137.9 185.3L141.3 182.7L145 180L149.2 177.3L153.9 174.7L159.3 172.1L165.4 169.5L171.8 166.9L178.3 164.5L184.5 162.4L190.2 160.6L195.2 159.2L199.7 158.3L203.8 157.6L207.7 157" fill="none" stroke="#111" stroke-width="4.6" stroke-linecap="butt"/>
<path d="M82.1 356.4L82.2 353.4L82.4 349.4L82.6 344.7L82.9 339.5L83.2 334.3L83.4 329.4L83.6 324.7L83.6 319.8L83.7 314.7L83.9 309.4L84.2 303.9L84.9 298.3L85.9 292.7L87.4 287L89 281.6L90.7 276.4L92.2 271.6L93.5 267.3L94.7 263.4L95.7 259.8L96.7 256.6L97.6 253.6L98.5 250.7L99.3 247.8L99.9 244.9L100.4 241.7L100.9 238.2L101.6 234.4L102.7 230.2L104.4 226L106.6 221.9L109.1 218.4L111.7 215.2L114.2 212.3L116.5 209.6L118.5 207.2L120.4 204.7L122.2 202.2L124.3 199.5L126.5 196.6L129.1 193.6L132 190.7L134.9 188L137.9 185.3L141.3 182.7L145 180L149.2 177.3L153.9 174.7L159.3 172.1L165.4 169.5L171.8 166.9L178.3 164.5L184.5 162.4L190.2 160.6L195.2 159.2L199.7 158.3L203.8 157.6L207.7 157" fill="none" stroke="#fff" stroke-width="2.1" stroke-linecap="butt"/>
<path d="M77.7 355.9L77.8 353L78 349L78.3 344.3L78.5 339.1L78.8 333.9L79.1 329L79.2 324.4L79.2 319.5L79.3 314.4L79.5 309L79.9 303.3L80.6 297.5L81.6 291.6L83.1 285.8L84.8 280.3L86.5 275L88 270.3L89.3 266L90.4 262.1L91.5 258.5L92.5 255.3L93.4 252.4L94.2 249.5L95 246.7L95.6 244L96.1 241.1L96.6 237.5L97.3 233.4L98.5 228.9L100.4 224.1L102.9 219.6L105.6 215.7L108.3 212.3L110.9 209.4L113.1 206.8L115 204.4L116.8 202.2L118.7 199.6L120.7 196.9L123.1 193.8L125.8 190.6L128.9 187.5L131.9 184.7L135.1 182L138.5 179.2L142.5 176.3L146.9 173.5L151.9 170.8L157.5 168.1L163.7 165.4L170.2 162.8L176.8 160.4" fill="none" stroke="#111" stroke-width="4.6" stroke-linecap="butt"/>
<path d="M77.7 355.9L77.8 353L78 349L78.3 344.3L78.5 339.1L78.8 333.9L79.1 329L79.2 324.4L79.2 319.5L79.3 314.4L79.5 309L79.9 303.3L80.6 297.5L81.6 291.6L83.1 285.8L84.8 280.3L86.5 275L88 270.3L89.3 266L90.4 262.1L91.5 258.5L92.5 255.3L93.4 252.4L94.2 249.5L95 246.7L95.6 244L96.1 241.1L96.6 237.5L97.3 233.4L98.5 228.9L100.4 224.1L102.9 219.6L105.6 215.7L108.3 212.3L110.9 209.4L113.1 206.8L115 204.4L116.8 202.2L118.7 199.6L120.7 196.9L123.1 193.8L125.8 190.6L128.9 187.5L131.9 184.7L135.1 182L138.5 179.2L142.5 176.3L146.9 173.5L151.9 170.8L157.5 168.1L163.7 165.4L170.2 162.8L176.8 160.4" fill="none" stroke="#fff" stroke-width="2.1" stroke-linecap="butt"/>
<path d="M164 166.1L170.5 163.5L177 161.1L183.3 158.9L189.1 157.1L194.3 155.6L198.9 154.6L203.2 153.9L207.1 153.4L211.1 152.8L215.6 152.1L221.1 151.1L227.2 149.9L233.8 148.6L240.4 147.4L246.8 146.4L252.5 145.6L257.6 145.1L262.1 144.8L266.1 144.7L269.7 144.7L273.2 144.7L276.9 144.7L281 144.6L285.3 144.6L289.7 144.6L294 144.6L298.2 144.6L302.2 144.7L305.7 144.8L308.9 144.8L312.1 144.9L315.3 145.1L318.9 145.3L322.8 145.5L327.3 145.9" fill="none" stroke="#111" stroke-width="5.2" stroke-linecap="butt"/>
<path d="M164 166.1L170.5 163.5L177 161.1L183.3 158.9L189.1 157.1L194.3 155.6L198.9 154.6L203.2 153.9L207.1 153.4L211.1 152.8L215.6 152.1L221.1 151.1L227.2 149.9L233.8 148.6L240.4 147.4L246.8 146.4L252.5 145.6L257.6 145.1L262.1 144.8L266.1 144.7L269.7 144.7L273.2 144.7L276.9 144.7L281 144.6L285.3 144.6L289.7 144.6L294 144.6L298.2 144.6L302.2 144.7L305.7 144.8L308.9 144.8L312.1 144.9L315.3 145.1L318.9 145.3L322.8 145.5L327.3 145.9" fill="none" stroke="#fff" stroke-width="2.7" stroke-linecap="butt"/>
<path d="M331.9 149.9L337.1 150.3L342.5 150.8L348 151.5L353.4 152.3L358.8 153.3L364.2 154.5L369.6 155.8L374.7 157.1L379.3 158.3L383.3 159.4L386.2 160.1L388.6 160.5L391 161L393.8 161.7L396.9 162.9L400.3 164.7L404.3 166.9L408.5 169.7L412.9 172.7L417.4 175.8L421.8 179L425.8 182L429.6 184.6L433.4 187.2L437.4 190L441.6 193.2L445.8 197L450 201.5L453.9 206.9L457.7 212.9L461.2 219.2L464.5 225.3L467.4 230.9L469.7 235.7L471.4 239.6L472.5 242.9" fill="none" stroke="#111" stroke-width="4.6" stroke-linecap="butt"/>
<path d="M331.9 149.9L337.1 150.3L342.5 150.8L348 151.5L353.4 152.3L358.8 153.3L364.2 154.5L369.6 155.8L374.7 157.1L379.3 158.3L383.3 159.4L386.2 160.1L388.6 160.5L391 161L393.8 161.7L396.9 162.9L400.3 164.7L404.3 166.9L408.5 169.7L412.9 172.7L417.4 175.8L421.8 179L425.8 182L429.6 184.6L433.4 187.2L437.4 190L441.6 193.2L445.8 197L450 201.5L453.9 206.9L457.7 212.9L461.2 219.2L464.5 225.3L467.4 230.9L469.7 235.7L471.4 239.6L472.5 242.9" fill="none" stroke="#fff" stroke-width="2.1" stroke-linecap="butt"/>
<path d="M352.3 158.5L357.4 159.6L362.6 160.8L367.8 162.2L372.8 163.6L377.4 164.9L381.4 166.1L384.5 166.9L387 167.4L389.1 167.9L391.2 168.6L393.6 169.6L396.5 171.2L400.1 173.4L404.1 176.1L408.3 179.1L412.6 182.2L416.9 185.4L420.9 188.5L424.7 191.3L428.5 194L432.2 196.7L436 199.7L439.6 203.1L443.2 207.1L446.7 211.9L450.3 217.5L453.9 223.4" fill="none" stroke="#111" stroke-width="4.6" stroke-linecap="butt"/>
<path d="M352.3 158.5L357.4 159.6L362.6 160.8L367.8 162.2L372.8 163.6L377.4 164.9L381.4 166.1L384.5 166.9L387 167.4L389.1 167.9L391.2 168.6L393.6 169.6L396.5 171.2L400.1 173.4L404.1 176.1L408.3 179.1L412.6 182.2L416.9 185.4L420.9 188.5L424.7 191.3L428.5 194L432.2 196.7L436 199.7L439.6 203.1L443.2 207.1L446.7 211.9L450.3 217.5L453.9 223.4" fill="none" stroke="#fff" stroke-width="2.1" stroke-linecap="butt"/>
<path d="M371.6 167.9L376.2 169.2L380.2 170.4L383.5 171.2L386 171.8L387.9 172.3L389.6 172.8L391.6 173.7L394.3 175.1L397.7 177.2L401.5 179.8L405.7 182.7L410 185.8L414.2 189L418.2 192.1L422.1 195L425.9 197.6L429.5 200.3L433 203.1L436.4 206.2L439.7 209.9" fill="none" stroke="#111" stroke-width="4.6" stroke-linecap="butt"/>
<path d="M371.6 167.9L376.2 169.2L380.2 170.4L383.5 171.2L386 171.8L387.9 172.3L389.6 172.8L391.6 173.7L394.3 175.1L397.7 177.2L401.5 179.8L405.7 182.7L410 185.8L414.2 189L418.2 192.1L422.1 195L425.9 197.6L429.5 200.3L433 203.1L436.4 206.2L439.7 209.9" fill="none" stroke="#fff" stroke-width="2.1" stroke-linecap="butt"/>
<path d="M318.9 144.6L322.9 144.8L327.3 145.2L332.2 145.5L337.5 145.9L343 146.5L348.6 147.1L354.1 148L359.7 149L365.3 150.2L370.7 151.6L375.9 152.9L380.5 154.1L384.4 155.1L387.3 155.8L389.6 156.2L392.2 156.7L395.3 157.6L398.8 159L402.5 160.8L406.6 163.2L411 166.1L415.5 169.1L420 172.3L424.4 175.5L428.5 178.5L432.1 181L436 183.6L440.1 186.5L444.4 189.9L448.9 193.9L453.4 198.7L457.5 204.4L461.4 210.6L465.1 217L468.4 223.2L471.3 228.9L473.7 233.8L475.4 237.8L476.7 241.5L477.5 244.7L477.9 247.1L478.2 249.2L478.9 252.1L480.2 256.1L481.8 260.7" fill="none" stroke="#111" stroke-width="4.6" stroke-linecap="butt"/>
<path d="M318.9 144.6L322.9 144.8L327.3 145.2L332.2 145.5L337.5 145.9L343 146.5L348.6 147.1L354.1 148L359.7 149L365.3 150.2L370.7 151.6L375.9 152.9L380.5 154.1L384.4 155.1L387.3 155.8L389.6 156.2L392.2 156.7L395.3 157.6L398.8 159L402.5 160.8L406.6 163.2L411 166.1L415.5 169.1L420 172.3L424.4 175.5L428.5 178.5L432.1 181L436 183.6L440.1 186.5L444.4 189.9L448.9 193.9L453.4 198.7L457.5 204.4L461.4 210.6L465.1 217L468.4 223.2L471.3 228.9L473.7 233.8L475.4 237.8L476.7 241.5L477.5 244.7L477.9 247.1L478.2 249.2L478.9 252.1L480.2 256.1L481.8 260.7" fill="none" stroke="#fff" stroke-width="2.1" stroke-linecap="butt"/>
<path d="M443.7 190.8L448.1 194.8L452.5 199.5L456.5 205.1L460.4 211.2L464 217.6L467.3 223.8L470.2 229.4L472.6 234.3L474.3 238.3L475.6 241.9L476.3 245L476.7 247.3L477.1 249.5L477.8 252.5L479.1 256.4L480.7 261.1L482.5 266.5L484.4 272.7L486.3 279.7L488.1 287.6L489.8 297.2L491.6 308.5L493.3 320.4L494.9 331.8L496.2 341.5L497.2 348.3" fill="none" stroke="#111" stroke-width="5" stroke-linecap="butt"/>
<path d="M443.7 190.8L448.1 194.8L452.5 199.5L456.5 205.1L460.4 211.2L464 217.6L467.3 223.8L470.2 229.4L472.6 234.3L474.3 238.3L475.6 241.9L476.3 245L476.7 247.3L477.1 249.5L477.8 252.5L479.1 256.4L480.7 261.1L482.5 266.5L484.4 272.7L486.3 279.7L488.1 287.6L489.8 297.2L491.6 308.5L493.3 320.4L494.9 331.8L496.2 341.5L497.2 348.3" fill="none" stroke="#fff" stroke-width="2.5" stroke-linecap="butt"/>
<path d="M95.9 357.6L96.3 354.8L96.9 350.8L97.6 346.1L98.2 340.9L98.9 335.7L99.6 330.6L100.1 325.7L100.6 320.7L101 315.7L101.6 310.9L102.2 306.2L103.1 301.7L104.3 297.1L105.7 292.2L107.2 287.2L108.8 282.1L110.3 277.3L111.7 272.7L112.9 268.8L113.9 265.4L114.9 262.1L115.8 259L116.8 255.8L117.7 252.2L118.6 248.4L119.2 244.7L119.7 241.4L120.2 238.5L120.8 236.1L121.6 234L122.7 232L124.3 229.8L126.3 227.3L128.6 224.7L131 221.8L133.5 218.8L135.7 215.8L137.6 213L139.3 210.5L141 208.1L142.8 205.9L144.8 203.7L147.2 201.4L149.8 199L152.4 196.8L155.2 194.6L158.4 192.5L162.1 190.3L166.7 188L172.2 185.5L178.2 183L184.2 180.7L190.1 178.6L195.2 176.8L199.4 175.5L203.1 174.6L206.5 174L210.2 173.3" fill="none" stroke="#111" stroke-width="4.6" stroke-linecap="butt"/>
<path d="M95.9 357.6L96.3 354.8L96.9 350.8L97.6 346.1L98.2 340.9L98.9 335.7L99.6 330.6L100.1 325.7L100.6 320.7L101 315.7L101.6 310.9L102.2 306.2L103.1 301.7L104.3 297.1L105.7 292.2L107.2 287.2L108.8 282.1L110.3 277.3L111.7 272.7L112.9 268.8L113.9 265.4L114.9 262.1L115.8 259L116.8 255.8L117.7 252.2L118.6 248.4L119.2 244.7L119.7 241.4L120.2 238.5L120.8 236.1L121.6 234L122.7 232L124.3 229.8L126.3 227.3L128.6 224.7L131 221.8L133.5 218.8L135.7 215.8L137.6 213L139.3 210.5L141 208.1L142.8 205.9L144.8 203.7L147.2 201.4L149.8 199L152.4 196.8L155.2 194.6L158.4 192.5L162.1 190.3L166.7 188L172.2 185.5L178.2 183L184.2 180.7L190.1 178.6L195.2 176.8L199.4 175.5L203.1 174.6L206.5 174L210.2 173.3" fill="none" stroke="#fff" stroke-width="2.1" stroke-linecap="butt"/>
<path d="M100.3 358.1L100.7 355.2L101.3 351.2L101.9 346.5L102.6 341.3L103.3 336.1L103.9 331L104.5 326L105 320.9L105.4 316L105.9 311.2L106.6 306.7L107.4 302.5L108.6 298.2L109.9 293.4L111.4 288.5L113 283.5L114.5 278.6L115.9 274L117.1 270.1L118.1 266.7L119.1 263.4L120.1 260.2L121 257L122 253.3L122.9 249.2L123.5 245.4L124 242.1L124.5 239.4L125 237.4L125.6 235.9L126.5 234.4L127.8 232.4L129.7 230.1L131.9 227.6L134.4 224.7L137 221.6L139.2 218.4L141.2 215.6L142.9 213.1L144.5 210.9L146 208.9L147.9 206.9L150.2 204.6L152.6 202.4L155.1 200.3L157.7 198.2L160.7 196.2L164.1 194.2L168.5 192L173.9 189.6" fill="none" stroke="#111" stroke-width="4.6" stroke-linecap="butt"/>
<path d="M100.3 358.1L100.7 355.2L101.3 351.2L101.9 346.5L102.6 341.3L103.3 336.1L103.9 331L104.5 326L105 320.9L105.4 316L105.9 311.2L106.6 306.7L107.4 302.5L108.6 298.2L109.9 293.4L111.4 288.5L113 283.5L114.5 278.6L115.9 274L117.1 270.1L118.1 266.7L119.1 263.4L120.1 260.2L121 257L122 253.3L122.9 249.2L123.5 245.4L124 242.1L124.5 239.4L125 237.4L125.6 235.9L126.5 234.4L127.8 232.4L129.7 230.1L131.9 227.6L134.4 224.7L137 221.6L139.2 218.4L141.2 215.6L142.9 213.1L144.5 210.9L146 208.9L147.9 206.9L150.2 204.6L152.6 202.4L155.1 200.3L157.7 198.2L160.7 196.2L164.1 194.2L168.5 192L173.9 189.6" fill="none" stroke="#fff" stroke-width="2.1" stroke-linecap="butt"/>
<path d="M168.2 191.4L173.6 188.9L179.5 186.5L185.5 184.2L191.3 182.1L196.3 180.3L200.4 179.1L203.8 178.3L207.1 177.6L210.8 177L215 176.3L220 175.3L225.6 174.2L231.8 172.9L238.3 171.5L244.6 170.3L250.4 169.2L255.5 168.4L259.6 168L263.1 167.8L266.3 167.7L269.6 167.7L273.2 167.7L277.1 167.7L281.2 167.6L285.4 167.6L289.7 167.6L293.9 167.6L298 167.6L301.8 167.7L305.3 167.8L308.4 167.8L311.3 167.9L314.2 168L317.4 168.2L321.2 168.5L325.6 168.8L330.4 169.1L335.4 169.5L340.5 170" fill="none" stroke="#111" stroke-width="5.2" stroke-linecap="butt"/>
<path d="M168.2 191.4L173.6 188.9L179.5 186.5L185.5 184.2L191.3 182.1L196.3 180.3L200.4 179.1L203.8 178.3L207.1 177.6L210.8 177L215 176.3L220 175.3L225.6 174.2L231.8 172.9L238.3 171.5L244.6 170.3L250.4 169.2L255.5 168.4L259.6 168L263.1 167.8L266.3 167.7L269.6 167.7L273.2 167.7L277.1 167.7L281.2 167.6L285.4 167.6L289.7 167.6L293.9 167.6L298 167.6L301.8 167.7L305.3 167.8L308.4 167.8L311.3 167.9L314.2 168L317.4 168.2L321.2 168.5L325.6 168.8L330.4 169.1L335.4 169.5L340.5 170" fill="none" stroke="#fff" stroke-width="2.7" stroke-linecap="butt"/>
<path d="M301.9 164L305.4 164.1L308.5 164.1L311.4 164.2L314.4 164.3L317.7 164.5L321.4 164.8L325.9 165.1L330.7 165.4L335.8 165.9L340.9 166.3L345.9 166.9L350.6 167.7L355.4 168.7L360.3 170L365.3 171.5L370.2 172.9L374.7 174.3L378.7 175.6L382.1 176.6L384.7 177.3L386.4 177.8L387.6 178.3L389 179L391.3 180.3L394.4 182.3L398 184.9L402 187.9L406.1 191L410.2 194.3L414.2 197.4L418.1 200.4L421.8 203.2L425.3 205.9L428.4 208.5L431.3 211.3L434 214.5L437.1 218.5L440.5 223.6L443.9 229.1L447.1 234.7L450 239.9" fill="none" stroke="#111" stroke-width="4.6" stroke-linecap="butt"/>
<path d="M301.9 164L305.4 164.1L308.5 164.1L311.4 164.2L314.4 164.3L317.7 164.5L321.4 164.8L325.9 165.1L330.7 165.4L335.8 165.9L340.9 166.3L345.9 166.9L350.6 167.7L355.4 168.7L360.3 170L365.3 171.5L370.2 172.9L374.7 174.3L378.7 175.6L382.1 176.6L384.7 177.3L386.4 177.8L387.6 178.3L389 179L391.3 180.3L394.4 182.3L398 184.9L402 187.9L406.1 191L410.2 194.3L414.2 197.4L418.1 200.4L421.8 203.2L425.3 205.9L428.4 208.5L431.3 211.3L434 214.5L437.1 218.5L440.5 223.6L443.9 229.1L447.1 234.7L450 239.9" fill="none" stroke="#fff" stroke-width="2.1" stroke-linecap="butt"/>
<path d="M321.1 169.2L325.6 169.5L330.4 169.8L335.4 170.2L340.4 170.7L345.3 171.3L349.9 172L354.4 173L359.2 174.3L364.2 175.7L369 177.2L373.5 178.6L377.6 179.9L381.1 180.9L383.7 181.6L385.2 182.1L386 182.4L387.1 183L389.1 184.2L392 186.1L395.5 188.5L399.4 191.4L403.5 194.6L407.5 197.8L411.5 200.9L415.5 204L419.3 206.8L422.6 209.4L425.5 211.8L428.1 214.4L430.6 217.3L433.5 221L436.7 225.9L440.1 231.3L443.2 236.8L446.1 242L448.3 246.2L449.7 248.9L450.3 250.2L450.6 251L451.1 252.8L451.8 255.8L453.1 259.9L454.6 264.6L456.2 269.4L457.9 274.4L459.6 279.8L461.2 285.9L462.8 292.7L464.3 301.4L466.1 312.3L467.8 324L469.3 335.3L470.7 345L471.6 351.9" fill="none" stroke="#111" stroke-width="4.6" stroke-linecap="butt"/>
<path d="M321.1 169.2L325.6 169.5L330.4 169.8L335.4 170.2L340.4 170.7L345.3 171.3L349.9 172L354.4 173L359.2 174.3L364.2 175.7L369 177.2L373.5 178.6L377.6 179.9L381.1 180.9L383.7 181.6L385.2 182.1L386 182.4L387.1 183L389.1 184.2L392 186.1L395.5 188.5L399.4 191.4L403.5 194.6L407.5 197.8L411.5 200.9L415.5 204L419.3 206.8L422.6 209.4L425.5 211.8L428.1 214.4L430.6 217.3L433.5 221L436.7 225.9L440.1 231.3L443.2 236.8L446.1 242L448.3 246.2L449.7 248.9L450.3 250.2L450.6 251L451.1 252.8L451.8 255.8L453.1 259.9L454.6 264.6L456.2 269.4L457.9 274.4L459.6 279.8L461.2 285.9L462.8 292.7L464.3 301.4L466.1 312.3L467.8 324L469.3 335.3L470.7 345L471.6 351.9" fill="none" stroke="#fff" stroke-width="2.1" stroke-linecap="butt"/>
<path d="M434 214.5L437.1 218.5L440.5 223.6L443.9 229.1L447.1 234.7L450 239.9L452.3 244.3L453.8 247.2L454.5 248.8L454.9 250L455.4 251.9L456.1 254.7L457.3 258.6L458.8 263.2L460.4 268L462.1 273L463.8 278.6L465.5 284.8L467.1 291.8L468.7 300.7L470.4 311.7L472.1 323.4L473.7 334.7L475 344.4L476 351.3" fill="none" stroke="#111" stroke-width="4.6" stroke-linecap="butt"/>
<path d="M434 214.5L437.1 218.5L440.5 223.6L443.9 229.1L447.1 234.7L450 239.9L452.3 244.3L453.8 247.2L454.5 248.8L454.9 250L455.4 251.9L456.1 254.7L457.3 258.6L458.8 263.2L460.4 268L462.1 273L463.8 278.6L465.5 284.8L467.1 291.8L468.7 300.7L470.4 311.7L472.1 323.4L473.7 334.7L475 344.4L476 351.3" fill="none" stroke="#fff" stroke-width="2.1" stroke-linecap="butt"/>
<path d="M79.7 329L79.8 324.4L79.8 319.6L79.9 314.4L80.1 309L80.5 303.4L81.2 297.6L82.2 291.8L83.7 286L85.4 280.5L87 275.2L88.6 270.5L89.9 266.2L91 262.3L92.1 258.7L93.1 255.5L94 252.5L94.8 249.6L95.6 246.9L96.2 244.1L96.7 241.2L97.2 237.6L97.9 233.6L99.1 229.1L101 224.3L103.4 219.9L106.1 216.1L108.8 212.7L111.3 209.8L113.6 207.2L115.5 204.8L117.3 202.5L119.1 200L121.2 197.2L123.5 194.2L126.3 191L129.3 188" fill="none" stroke="#111" stroke-width="0.7" stroke-dasharray="9 4 5 6 14 5"/>
<path d="M102.5 346.5L103.2 341.4L103.9 336.1L104.5 331.1L105.1 326L105.6 320.9L106 316L106.5 311.3L107.2 306.8L108 302.6L109.2 298.3L110.5 293.6L111.9 288.6L113.5 283.7L115.1 278.7L116.5 274.2L117.6 270.2L118.7 266.8L119.7 263.6L120.6 260.4L121.6 257.1L122.6 253.4L123.5 249.3L124.1 245.5L124.6 242.2L125.1 239.6L125.6 237.6L126.1 236.2L127 234.7L128.3 232.8L130.1 230.5L132.4 228L134.9 225.1L137.4 221.9L139.7 218.8L141.7 215.9L143.4 213.4L144.9 211.2L146.5 209.3L148.3 207.3L150.6 205L153 202.8L155.4 200.7" fill="none" stroke="#111" stroke-width="0.7" stroke-dasharray="9 4 5 6 14 5"/>
<path d="M112.3 272.9L113.4 269L114.5 265.5L115.5 262.3L116.4 259.2L117.4 255.9L118.3 252.4L119.2 248.5L119.8 244.8L120.3 241.5L120.8 238.6L121.4 236.3L122.1 234.3L123.2 232.4L124.8 230.1L126.8 227.7L129 225.1L131.5 222.2L134 219.2L136.2 216.2L138.1 213.4L139.8 210.8L141.5 208.5L143.2 206.3L145.3 204.1L147.7 201.8L150.1 199.5L152.7 197.3L155.5 195.1L158.7 193L162.4 190.8L166.9 188.5L172.4 186.1L178.4 183.6L184.5 181.2L190.3 179.1L195.4 177.4" fill="none" stroke="#111" stroke-width="0.7" stroke-dasharray="9 4 5 6 14 5"/>
<path d="M354 148.6L359.6 149.6L365.1 150.8L370.6 152.1L375.7 153.5L380.4 154.7L384.3 155.7L387.2 156.4L389.5 156.8L392 157.3L395.1 158.2L398.5 159.5L402.2 161.4L406.3 163.8L410.7 166.5L415.2 169.6L419.7 172.8L424.1 176L428.1 178.9L431.8 181.5L435.6 184.1L439.7 187L444 190.3L448.5 194.3L452.9 199.1L457 204.8L460.9 210.9L464.5 217.3L467.9 223.5L470.7 229.2L473.1 234L474.9 238.1L476.2 241.7L476.9 244.8L477.3 247.2L477.7 249.3L478.4 252.3" fill="none" stroke="#111" stroke-width="0.7" stroke-dasharray="9 4 5 6 14 5"/>
<path d="M349.8 172.6L354.3 173.6L359.1 174.9L364 176.3L368.8 177.7L373.3 179.1L377.4 180.4L380.9 181.5L383.5 182.2L385 182.6L385.8 183L386.9 183.5L388.8 184.7L391.7 186.6L395.1 189L399 191.9L403.1 195L407.2 198.2L411.2 201.4L415.2 204.5L418.9 207.3L422.2 209.8L425.1 212.3L427.7 214.8L430.1 217.6L433 221.4L436.2 226.2L439.5 231.6L442.7 237.1L445.5 242.3L447.8 246.5L449.2 249.2L449.7 250.4L450 251.2L450.5 252.9L451.3 255.9L452.5 260L454 264.8L455.6 269.6L457.3 274.6L459 280L460.6 286L462.2 292.8L463.8 301.5L465.5 312.4L467.2 324.1" fill="none" stroke="#111" stroke-width="0.7" stroke-dasharray="9 4 5 6 14 5"/>
<path d="M443.4 229.4L446.6 235L449.4 240.2L451.8 244.5L453.2 247.4L453.9 249L454.3 250.2L454.8 252L455.5 254.9L456.7 258.8L458.2 263.4L459.8 268.1L461.5 273.2L463.2 278.8L464.9 284.9L466.5 291.9L468.1 300.8L469.8 311.7L471.5 323.5L473.1 334.8L474.4 344.5L475.4 351.4" fill="none" stroke="#111" stroke-width="0.7" stroke-dasharray="9 4 5 6 14 5"/>
<path d="M421.7 210.5L424.6 212.9L427.1 215.4L429.5 218.2L432.3 221.8L435.6 226.6L438.9 232L442 237.5L444.8 242.6L447.1 246.8L448.4 249.5L449 250.6L449.3 251.4L449.7 253.1L450.5 256.1L451.7 260.3L453.2 265L454.9 269.8L456.6 274.8L458.2 280.2L459.9 286.2L461.4 292.9L463 301.7L464.7 312.5L466.4 324.2L467.9 335.5L469.3 345.2L470.2 352.1" fill="none" stroke="#111" stroke-width="2"/>
<path d="M76.3 355.8L76.3 352.9L76.5 348.9L76.8 344.1L77 339L77.3 333.7L77.6 328.9L77.7 324.3L77.8 319.5L77.8 314.3L78 308.9L78.4 303.1" fill="none" stroke="#111" stroke-width="1.9"/>
<path d="M80.6 356.2L80.7 353.3L80.9 349.3L81.1 344.5L81.4 339.4L81.7 334.1L81.9 329.2L82.1 324.6L82.1 319.7L82.2 314.6L82.4 309.2L82.7 303.7" fill="none" stroke="#111" stroke-width="1.9"/>
<path d="M98.8 357.9L99.2 355L99.8 351.1L100.4 346.3L101.1 341.2L101.8 336L102.4 330.9L103 325.9L103.5 320.8L103.9 315.9L104.4 311.1L105.1 306.5" fill="none" stroke="#111" stroke-width="1.9"/>
<path d="M94.4 357.5L94.8 354.6L95.4 350.7L96.1 345.9L96.7 340.8L97.4 335.6L98.1 330.5L98.6 325.6L99.1 320.6L99.5 315.6L100.1 310.7L100.7 306" fill="none" stroke="#111" stroke-width="1.9"/>
<path d="M77.5 340L68.5 360L79 360ZM96 344L89.5 360L98 360Z" fill="#111"/>
<path d="M498 338L505.5 356L497 356Z" fill="#111"/>
<path d="M76 303l3 4l2 -3l3 5l2 -4l3 4l2 -3l3 6l3 -5l3 5" fill="none" stroke="#111" stroke-width="1.4"/>
<path d="M81.9 275.7L93.4 279.3M82.3 274.5L93.8 278.1M82.8 273.1L94.2 276.8M83.2 271.9L94.6 275.5" stroke="#111" stroke-width="1.3" fill="none"/>
<path d="M98.5 297.8L111.2 300.8M98.8 296.5L111.5 299.6M99.2 295.1L111.8 298.2M99.5 293.9L112.1 296.9" stroke="#111" stroke-width="1.3" fill="none"/>
<path d="M103.9 211.2L113.1 218.9M104.7 210.2L114 217.9M105.6 209.2L114.8 216.9M106.5 208.2L115.7 215.9" stroke="#111" stroke-width="1.3" fill="none"/>
<path d="M118.7 228.1L129.1 235.9M119.5 227L129.9 234.9M120.3 225.9L130.7 233.7M121.1 224.9L131.5 232.7" stroke="#111" stroke-width="1.3" fill="none"/>
<path d="M167.6 159.6L170.5 167.1M168.8 159.2L171.7 166.6M170 158.7L172.9 166.1" stroke="#111" stroke-width="1.3" fill="none"/>
<path d="M163.7 186.3L167.9 195.4M164.9 185.8L169.1 194.9M166.2 185.2L170.4 194.3M167.4 184.7L171.5 193.7" stroke="#111" stroke-width="1.3" fill="none"/>
<path d="M244.1 142.3L245.8 153.2M245.4 142.1L247.1 153M246.7 141.9L248.5 152.7M248 141.7L249.8 152.5" stroke="#111" stroke-width="1.3" fill="none"/>
<path d="M253.6 164.1L254.6 172M254.9 163.9L255.9 171.9M256.2 163.8L257.2 171.7" stroke="#111" stroke-width="1.3" fill="none"/>
<path d="M317.2 140.6L316.7 148.6M318.5 140.7L318 148.7M319.9 140.8L319.4 148.8M321.2 140.9L320.6 148.9" stroke="#111" stroke-width="1.3" fill="none"/>
<path d="M306.5 162.3L306.3 171.3M307.8 162.3L307.6 171.3M309.2 162.3L309 171.3M310.5 162.4L310.3 171.4" stroke="#111" stroke-width="1.3" fill="none"/>
<path d="M394.8 153.4L391.3 162.8M396 153.9L392.5 163.2M397.3 154.4L393.8 163.7M398.5 154.8L395 164.2" stroke="#111" stroke-width="1.3" fill="none"/>
<path d="M389 174.6L384.2 184.5M390.1 175.2L385.3 185.1M391.4 175.8L386.6 185.7M392.6 176.4L387.8 186.3" stroke="#111" stroke-width="1.3" fill="none"/>
<path d="M454.7 195.1L446.2 202M455.5 196.1L447 203M456.4 197.2L447.9 204.1M457.2 198.2L448.7 205.1" stroke="#111" stroke-width="1.3" fill="none"/>
<path d="M444.6 218.6L434.4 225M445.3 219.8L435.1 226.1M446 220.9L435.8 227.3M446.7 222L436.5 228.4" stroke="#111" stroke-width="1.3" fill="none"/>
<path d="M486.4 257L475.9 260.6M486.8 258.3L476.4 261.8M487.2 259.6L476.8 263.1M487.6 260.8L477.2 264.4" stroke="#111" stroke-width="1.3" fill="none"/>
<path d="M162.5 161.5L191 153.5" fill="none" stroke="#111" stroke-width="3.2" stroke-linecap="butt"/>
<path d="M162.5 161.5L191 153.5" fill="none" stroke="#fff" stroke-width="1.4" stroke-linecap="butt"/>
<path d="M162.5 161.5L165.9 160.5" stroke="#111" stroke-width="3.2"/>
<path d="M99.5 212.5L104 222" fill="none" stroke="#111" stroke-width="3" stroke-linecap="butt"/>
<path d="M99.5 212.5L104 222" fill="none" stroke="#fff" stroke-width="1.2" stroke-linecap="butt"/>
<path d="M99.5 212.5L100 213.6" stroke="#111" stroke-width="3"/>
<path d="M103.5 210.5L108 220" fill="none" stroke="#111" stroke-width="3" stroke-linecap="butt"/>
<path d="M103.5 210.5L108 220" fill="none" stroke="#fff" stroke-width="1.2" stroke-linecap="butt"/>
<path d="M103.5 210.5L104 211.6" stroke="#111" stroke-width="3"/>
<path d="M165 185.5L187 180" fill="none" stroke="#111" stroke-width="3.2" stroke-linecap="butt"/>
<path d="M165 185.5L187 180" fill="none" stroke="#fff" stroke-width="1.4" stroke-linecap="butt"/>
<path d="M165 185.5L167.6 184.8" stroke="#111" stroke-width="3.2"/>
<path d="M240 141.3L252 140.2" fill="none" stroke="#111" stroke-width="2.4" stroke-linecap="butt"/>
<path d="M240 141.3L252 140.2" fill="none" stroke="#fff" stroke-width="0.6" stroke-linecap="butt"/>
<path d="M240 141.3L241.4 141.2" stroke="#111" stroke-width="2.4"/>
<path d="M497 286.5L488 270" fill="none" stroke="#111" stroke-width="3.2" stroke-linecap="butt"/>
<path d="M497 286.5L488 270" fill="none" stroke="#fff" stroke-width="1.4" stroke-linecap="butt"/>
<path d="M497 286.5L495.9 284.5" stroke="#111" stroke-width="3.2"/>
<path d="M368.5 107.3L376.3 114.5L387.3 124.7L399.9 136.4L412.2 147.9L424 158.9L436.1 170.2L448.5 181.9L461.4 194.1L475 206.8L489.2 220L503.5 233.4L517.6 246.7L531.5 259.7L545.3 272.6L559 285.6L572.9 298.5L588 312.8L604.1 327.9L618.5 341.4L628.6 350.8L624.4 355.2L614.5 345.7L600.2 332.1L584.2 316.8L569.1 302.5L555.4 289.4L541.8 276.3L528.1 263.3L514.4 250.1L500.3 236.8L486.1 223.3L472 209.9L458.6 197.1L445.7 184.9L433.4 173.1L421.4 161.6L409.8 150.5L397.5 138.9L385.1 127.1L374.1 116.7L366.5 109.5Z" fill="#fff" stroke="none"/>
<path d="M368.5 107.3L376.3 114.5L387.3 124.7L399.9 136.4L412.2 147.9L424 158.9L436.1 170.2L448.5 181.9L461.4 194.1L475 206.8L489.2 220L503.5 233.4L517.6 246.7L531.5 259.7L545.3 272.6L559 285.6L572.9 298.5L588 312.8L604.1 327.9L618.5 341.4L628.6 350.8" fill="none" stroke="#111" stroke-width="1.2" />
<path d="M366.5 109.5L374.1 116.7L385.1 127.1L397.5 138.9L409.8 150.5L421.4 161.6L433.4 173.1L445.7 184.9L458.6 197.1L472 209.9L486.1 223.3L500.3 236.8L514.4 250.1L528.1 263.3L541.8 276.3L555.4 289.4L569.1 302.5L584.2 316.8L600.2 332.1L614.5 345.7L624.4 355.2" fill="none" stroke="#111" stroke-width="1.4" />
<path d="M624 351.5l4.5 3.5" stroke="#111" stroke-width="1.6"/>
<path d="M473.5 208.4L487.6 221.6L501.9 235.1L516 248.4L529.8 261.5L543.5 274.5L557.2 287.5L571 300.5L586.1 314.8L602.2 330L616.5 343.6L626.5 353" fill="none" stroke="#111" stroke-width="0.7" stroke-dasharray="6 9 3 14 8 20"/>
<path d="M328 90.6L335.8 83.7L341.8 79.7L343.5 82L351.7 74.8L353.7 78L358.6 76.7L363.6 79.7L365.5 86.6L369.5 92.6L374.5 96.5L373.5 102.5L367.5 107.4L363.6 113.4L359.6 115.3L353.7 109.4L349 111L345.7 109.4L342 108L339.8 105.4L336 105L334.9 102.5L331 97.5L333 94Z" fill="#fff" stroke="#111" stroke-width="1.1" stroke-linejoin="miter"/>
<path d="M366.4 103.6L366.3 93.4M361.2 99.8L355.3 92.4M369 105.6L373.6 100.7M366.2 100.7L364.8 96.5M357.9 104.1L353.5 102.9M364.5 102.6L362.1 93.7M360.9 99.6L355.9 91M363.6 100.6L361.3 96.2M365 104.2L357.6 99.3M371.1 97.1L377.5 89.3M364.1 103.7L362.5 93M361.7 102.4L354.9 96.4M369.1 105.4L372.9 96.5M365.9 99.2L365.2 94.5M358.4 102.1L353.7 98.7M365.9 97.5L364.5 92.5M368.7 99L371.8 93.4M365.3 103.7L362.9 93.6M362.2 101.2L356.2 92.6M365.4 101.5L362.8 91.7M365.4 100.3L365.6 93.2M371.8 100.3L374.8 96.5M363.5 100.5L360.3 95.3M367.6 104L367.7 99.2M363.2 97.6L358.4 91.4M368.6 97.2L370.6 92.4M360.9 99.9L357.6 96.5M363.6 103L354.7 99.8M363.8 97.5L362.4 86.9M359.5 105L353.5 103.2M365.7 103.3L363.7 99.4M365.7 102.9L366 96.6M365.7 105.1L356.2 101.8M362.8 101.6L355.7 94M367.4 101.7L373.8 93.1M361.6 99.9L354.7 92.7M364.5 100.9L359.5 91.6M367.7 102.5L366.7 96.4M361.7 99.8L359.5 95M358.5 105L352.9 103M367.8 103.3L368.6 97.9M366.1 104.2L361.4 99.7M367.8 99.7L369.2 94.3M366.2 97.1L366.9 91.5M364.1 105.4L358 100.9M365.9 104.4L362.4 94.7M366.4 103L368 97.7M364.8 105.2L365.9 99.4M369.4 100.3L374.1 93.7M366.1 104.4L362.8 99.9M368.1 102.6L367.4 95.9M368.7 106.8L376 98.8M373.8 97.9L379 92.4M368.3 104.4L371.8 95.1M369.1 102.9L371.6 93.6M367.5 103.4L367.9 96.6M366 105.2L365 101.2M366.8 106.2L374.2 98.2M363.3 97.5L359.1 90.7M359.4 104.2L355.3 102.5M367.4 99.3L367 90.3M362.4 103.8L354.5 101M366.8 102.6L363.2 94.8M368.7 101.6L372 91.9M360.5 103.6L354.8 102.9M368.2 99.6L371.2 91.7M374 99.9L378.8 94.6M363.9 103.9L358.3 94.5M360.2 100.2L355.6 95.2M361.7 106.5L351.3 104.9M363.5 99.6L361.8 91.8M365.2 100.2L360.9 90.8M370.4 100.5L373.4 97.1M364.3 102.5L358.9 94.3M367.7 103.4L366.2 95.5" stroke="#111" stroke-width="1" fill="none"/>
<path d="M371 93l4 -3M373 96l4 -1M374 99l3 1M372 103l4 2M368 108l4 2M364 112l1 4M360 114l-1 4M357 112l-2 3M352 110l-2 3M347 110l-1 3M342 108l-3 2M337 104l-3 2" stroke="#111" stroke-width="0.9" fill="none"/>
<path d="M357.5 93.1h0.9M351 95.6h0.9M350.6 95.8h0.9M349.5 95h0.9M356.6 106.7h0.9M349.2 94.7h0.9M349.9 95.3h0.9M356.6 105.5h0.9M342.2 94.3h0.9M351.6 96.1h0.9M342.2 94.8h0.9M340.7 105.8h0.9" fill="none" stroke="#222" stroke-width="0.9" stroke-linecap="round"/>
<path d="M514.6 67L514.7 76.1L514.8 88.6L515 103.5L515.1 119.5L515.4 135.4L515.6 150L515.9 163.6L516.3 177.2L516.7 190.8L517.1 204.1L517.5 217.2L517.9 230L518.2 242.4L518.5 254.5L518.7 266.4L519 278L519.2 289.2L519.4 300L519.6 310.9L519.7 322.1L519.9 332.9L520 342.7L520.1 350.9L520.2 357" fill="none" stroke="#111" stroke-width="1.6" />
<path d="M511.4 67L511.4 76.1L511.4 88.6L511.4 103.5L511.4 119.5L511.5 135.4L511.6 150L511.8 163.7L512 177.3L512.3 190.9L512.6 204.2L512.9 217.3L513.1 230L513.3 242.4L513.4 254.6L513.5 266.5L513.6 278L513.7 289.2L513.8 300L513.8 310.9L513.9 322.1L513.9 332.9L513.9 342.7L513.8 351L513.8 357" fill="none" stroke="#111" stroke-width="0.9" />
<path d="M514 120l1.5 5M516 232l-1 6M515 282l1.5 6M516.5 318l-1 5" stroke="#111" stroke-width="0.8" fill="none"/>
<path d="M524.6 49L524.5 51.2M515.7 29.8L518.6 28.5M527.8 41.9L530 44.2M512.6 31.6L514.9 29M516 30.1L518.5 29.6M517.7 30.2L521.1 28.7M500.2 48.9L496.9 47.8M499.7 49.8L496.5 48.7M498.9 37.8L497.5 34.5M500 46.5L498.7 44.8M504.8 31.6L506 29.1M502 50.4L499 49.8M524.8 48.6L524.8 50.8M497.3 43.3L495.2 40.8M506.4 32.9L507.4 30.2M525.1 46.3L527 49M501.7 51L499.7 49.8M510.9 30.1L513.1 27.7M523.8 50.9L523.7 53.5M526.4 44.2L528.1 46.5M497.9 43.6L496.2 41.2M499.8 45.7L497.8 43.9M499.5 49.3L496.9 47.9M512.8 31.2L515.1 28.9M522.3 35.2L524.7 35.9M500.8 39.2L499.9 36.6M497.8 44.3L496.4 42.1M512.6 31.4L514.8 29.6M500.6 49.6L497.9 48.5M508.6 30.3L510.6 28.9M500.7 49.3L497.7 48.2M519.8 31.2L523.4 30.2M525.2 37.4L527 39M508.8 29.6L510.8 26.5M500.9 48.7L498.4 47.5M521 31.2L524.6 30.7M499.7 35.9L498.9 32.4M500.6 49.6L498.2 48.3M518 31.8L520.8 31.2M521.7 33.1L524.1 33.8M503.3 35.2L503.4 32.5M515.1 30.2L517.8 29M513.4 29.1L516 27.6M508.4 31.9L509.8 28.7" stroke="#111" stroke-width="0.8" fill="none"/>
<path d="M509.5 52.8l-0.7 2.3M501.2 60.4l-6.3 3.2M526.7 59.2l4.3 1.2M515.8 58.4l2.5 3.5M505.9 62.5l-2.2 4.1M522.9 51.5l2.2 3.1M511.3 52.5l-4.1 2.9M509 53.4l1 3.3M512.7 52.3l2.7 2.6M500.7 59.7l-2.8 2.4M519.8 51.8l3.4 4M515.3 51.7l2.7 4.2M504.5 63.6l-0.3 3.2M519.8 58.8l6 3.1M511.9 66.6l-2.2 3.2M523.2 56.3l7.5 2.3M522.8 51.2l4.2 0.9M502.6 61.1l-3.1 2.6M527.6 57l1.3 2.1M502.2 52l-2.7 2.7M508.1 57.2l-1.5 3.9M501.9 61.7l-0.3 3.2M512.4 56.3l-2.2 2.4M526.2 60.2l3.8 2M504.6 51.5l-4.9 2.8M507.7 55.4l-4.3 3.1M501.1 56.9l-2.1 2.6M522.7 51.3l2.3 2.6M520.6 65.1l2.7 3.3M496.1 52.6l-6.4 0.8M509.9 60.2l-1.2 2.2M497.9 55.3l-4.3 2.3M516.8 54.2l1.9 3.6M520 51l4 2.2M510.2 60.1l-1.3 3.9M503.2 59.7l-0.1 3.4M516.4 61.1l-0.1 3.6M522.5 52.6l4.3 1.8M518.1 67l-0.6 2.9M514.9 67.1l-2.4 3.6M528.8 53.9l6.3 1.4M499.8 56.8l-5.7 2.5M501.6 57.3l-5.5 3.4M500.1 51.9l-7.4 1.7M507 65.6l-0.5 3.7M520.1 65.2l1.5 3.2M503 52.3l-3.6 1.2M526.3 59.4l0.8 2.2M515 61.6l2.7 3.6M517.4 57.2l-1.4 3.4M501.9 54.9l-5.6 2.5M513.2 64.6l2 3.2M506.8 56.6l-0.1 2.9M527.7 57.2l4.4 1.2M512.7 52.2l2 2.9M512.7 53.4l-2.4 2.3M501 56.5l-5.2 2.2M500.8 51.6l-6.3 1.3M504.9 63.5l1.3 3.8M502.8 59.8l-0.4 2.6M518.8 53.7l-0.7 3.5M499.5 59.6l-6 2.6M507 56.8l-2.5 3.1M524.1 64.3l1.6 2.1M502.3 52.8l-4.2 2.5M511.5 64.1l0.1 3.4M526.7 54.8l6.1 1.3M523.7 54.6l2.8 3.1M498.9 52.6l-5.3 1.9M502.8 57.1l-5.5 3.4M502.1 62l0 2.7M521.6 64.8l-0.6 2.4M527.1 51.9l3.1 2.1M509.6 53.4l-2.5 1.7M521.9 63.1l4.9 3.8M512.8 61.9l-3.6 4M523.3 60.6l-0.1 2.8M522 68.4l1.8 2.6M512 58.6l-0.4 4.2M521.7 60.2l0.7 4.2M506.6 69l-4.1 3.6M519.9 58.9l3.2 1.7M508.5 62.3l-0.6 4.2M520.6 61.7l-0.7 4.2M506.2 68l-0.5 2.2M497.7 52.5l-3.5 3" stroke="#111" stroke-width="1.1" fill="none"/>
<path d="M519 66L518.6 66.7L518.4 68.5L518.3 71L518.4 73.9L518.6 76.9L518.9 79.7L519.2 82.4L519.6 85.4L520.1 88.5L520.7 91.6L521.4 94.5L522.2 97.1L523.2 99.7L524.5 102.4L525.9 105L527.3 107.1L528.5 108.6L529.4 109L530 108.2L530.4 106.4L530.6 103.9L530.7 100.9L530.6 97.9L530.4 95.1L529.9 92.4L529.2 89.5L528.3 86.5L527.4 83.5L526.4 80.7L525.4 78.1L524.3 75.5L523.1 72.8L521.9 70.1L520.7 67.9L519.7 66.5Z" fill="#fff" stroke="#111" stroke-width="0.9"/>
<path d="M521.4 93.6Q526.1 105.8 529.4 109Q532.7 104.2 529.5 91.7Z" fill="#111"/>
<path d="M519 66L529.4 109" fill="none" stroke="#111" stroke-width="0.6" />
<path d="M526.5 67L526.2 67.8L526.2 69.5L526.5 71.9L526.9 74.7L527.5 77.6L528.1 80.2L528.8 82.8L529.6 85.7L530.4 88.6L531.4 91.4L532.5 94.1L533.7 96.5L535 98.9L536.7 101.4L538.4 103.6L540 105.5L541.4 106.7L542.3 107L542.8 106.2L543 104.3L542.9 101.9L542.6 99L542.1 96.1L541.5 93.5L540.7 90.9L539.6 88.2L538.4 85.4L537 82.7L535.7 80.1L534.4 77.8L533 75.4L531.4 72.9L529.9 70.6L528.4 68.6L527.3 67.3Z" fill="#fff" stroke="#111" stroke-width="0.9"/>
<path d="M532.4 93.3Q539.2 104.2 542.3 107Q545.4 101.8 540.2 90.3Z" fill="#111"/>
<path d="M526.5 67L542.3 107" fill="none" stroke="#111" stroke-width="0.6" />
<path d="M80 126.5L81.9 126.6L84.5 126.8L87.5 126.9L90.9 127.1L94.5 127.4L98.2 127.8L101.7 128.3L105 129L108.2 129.9L111.5 130.8L114.8 131.9L118.1 133.2L121.3 134.5L124.4 135.9L127.3 137.4L130 139L132.5 140.7L134.9 142.7L137.1 144.7L139.2 146.8L141.2 149L142.9 151.1L144.6 153.1L146 155L147.2 156.8L148.2 158.7L149.1 160.5L149.8 162.2L150.3 163.9L150.8 165.3L151.1 166.6L151.5 167.5" fill="none" stroke="#111" stroke-width="0.8" />
<path d="M153 171.5L149.4 168L153.2 166.5Z" fill="#fff" stroke="#111" stroke-width="0.8"/>
<path d="M53 224L53.6 223.4L54.5 222.7L55.4 221.8L56.5 220.8L57.7 219.7L59 218.7L60.5 217.8L62 217L63.6 216.3L65.4 215.6L67.4 215L69.4 214.4L71.5 213.9L73.6 213.4L75.8 212.9L78 212.5L80.4 212.1L83 211.8L85.7 211.5L88.5 211.2L91.1 211L93.5 210.8L95.5 210.6L97 210.5" fill="none" stroke="#111" stroke-width="0.8" />
<path d="M104 210.5L99 212.7L99 208.3Z" fill="#fff" stroke="#111" stroke-width="0.8"/>
<path d="M175 224L174.8 223.2L174.5 222.1L174.2 220.8L173.9 219.4L173.5 217.9L173 216.5L172.5 215.2L172 214L171.4 213L170.6 212L169.7 211L168.8 210.1L167.9 209.3L167.1 208.6L166.5 208L166 207.5" fill="none" stroke="#111" stroke-width="0.8" />
<path d="M162 203.5L167 205.8L163.7 208.7Z" fill="#fff" stroke="#111" stroke-width="0.8"/>
<path d="M400.5 271L401.7 272.1L403.3 273.4L405.2 275.1L407.3 276.9L409.5 278.9L411.7 281L413.7 283.2L415.6 285.3L417.3 287.5L419 290L420.7 292.5L422.3 295.1L423.9 297.8L425.4 300.3L426.8 302.7L428 305L429.1 307.2L430.2 309.3L431.2 311.5L432 313.5L432.8 315.4L433.5 317L434 318.4L434.5 319.5" fill="none" stroke="#111" stroke-width="0.8" />
<path d="M437 325.4L433 321L437.6 319.4Z" fill="#fff" stroke="#111" stroke-width="0.8"/>
<path d="M389 307.6L389.4 308.6L389.9 309.9L390.5 311.5L391.1 313.2L391.8 315.1L392.4 317L393 319L393.4 321L393.7 323.1L394 325.6L394.3 328.1L394.5 330.7L394.6 333.2L394.8 335.5L394.9 337.4L395 338.8" fill="none" stroke="#111" stroke-width="0.8" />
<path d="M331 325.5L331 327L331.1 329.2L331.1 331.7L331.2 334.4L331.2 337.3L331.3 340.1L331.4 342.7L331.5 345L331.6 347L331.8 349L332.1 350.9L332.3 352.7L332.5 354.4L332.7 355.8L332.9 357L333 358" fill="none" stroke="#111" stroke-width="0.8" />
<path d="M312 438.5L312.8 438.6L313.8 438.7L315 438.9L316.4 439.1L317.8 439.2L319.3 439.3L320.7 439.2L322 439L323.3 438.6L324.5 438.2L325.8 437.6L327.1 436.9L328.4 436.2L329.6 435.4L330.8 434.5L332 433.5L333.1 432.5L334.2 431.4L335.2 430.2L336.2 429L337.2 427.6L338.2 426.2L339.1 424.7L340 423L340.9 421.1L341.8 418.8L342.7 416.4L343.5 413.8L344.3 411.4L345 409.2L345.6 407.4L346 406" fill="none" stroke="#111" stroke-width="0.8" />
<path d="M405 89.6L404 90L402.6 90.5L400.9 91.1L399.1 91.8L397.2 92.5L395.3 93.3L393.5 94.2L392 95L390.6 95.9L389.3 96.9L388.1 97.9L386.9 99L385.8 100.1L384.8 101.1L383.8 102.1L383 103L382.3 103.8L381.7 104.6L381.1 105.3L380.7 106L380.3 106.6L380 107.2L379.7 107.6L379.5 108" fill="none" stroke="#111" stroke-width="0.8" />
<path d="M377.4 112.5L377.4 107.5L381.2 109.2Z" fill="#fff" stroke="#111" stroke-width="0.8"/>
<path d="M559.5 184L559.2 182.9L558.8 181.4L558.4 179.7L557.9 177.8L557.3 175.7L556.6 173.7L555.9 171.8L555 170L554 168.4L552.9 166.7L551.7 165.1L550.5 163.5L549.1 161.9L547.8 160.5L546.4 159.2L545 158L543.6 157L542 156.1L540.5 155.3L538.9 154.6L537.3 153.9L535.8 153.4L534.3 152.9L533 152.5L531.8 152.2L530.5 151.9L529.4 151.8L528.2 151.7L527.2 151.6L526.3 151.6L525.6 151.5L525 151.5" fill="none" stroke="#111" stroke-width="0.8" />
<path d="M519.5 151.5L524.1 149.5L524.1 153.5Z" fill="#fff" stroke="#111" stroke-width="0.8"/>
<path d="M575 389L574.7 388.5L574.3 387.7L573.9 386.8L573.4 385.9L572.8 384.8L572.2 383.8L571.6 382.9L571 382L570.4 381.2L569.8 380.5L569.1 379.7L568.4 379L567.7 378.3L566.9 377.6L566.1 377L565.3 376.3L564.3 375.6L563.2 374.9L562 374.2L560.8 373.5L559.6 372.9L558.6 372.3L557.7 371.9L557 371.5" fill="none" stroke="#111" stroke-width="0.8" />
<path d="M552.5 369.5L557.5 369.2L556.1 373Z" fill="#fff" stroke="#111" stroke-width="0.8"/>
<g opacity="0.999">
<text x="3" y="127.7" textLength="63.8" lengthAdjust="spacingAndGlyphs">Outer frame is</text>
<text x="11.2" y="139.7" textLength="57.3" lengthAdjust="spacingAndGlyphs">built 6 inches</text>
<text x="11.2" y="151.9" textLength="77.3" lengthAdjust="spacingAndGlyphs">from inner frame.</text>
<text x="11.2" y="163.9" textLength="87.3" lengthAdjust="spacingAndGlyphs">The space is stuffed</text>
<text x="11.2" y="176.1" textLength="80.5" lengthAdjust="spacingAndGlyphs">with swamp moss.</text>
<text x="3.5" y="240.7" textLength="47.6" lengthAdjust="spacingAndGlyphs">Covering is</text>
<text x="10.5" y="253.2" textLength="56.8" lengthAdjust="spacingAndGlyphs">elm, cedar or</text>
<text x="10.5" y="265.2" textLength="69.3" lengthAdjust="spacingAndGlyphs">basswood bark.</text>
<text x="163.7" y="241.2" textLength="71" lengthAdjust="spacingAndGlyphs">Inner frame has</text>
<text x="167" y="253.2" textLength="50.8" lengthAdjust="spacingAndGlyphs">birchbark—</text>
<text x="167" y="265.2" textLength="78.5" lengthAdjust="spacingAndGlyphs">“wiigwass”—tied</text>
<text x="167" y="277.1" textLength="20.4" lengthAdjust="spacingAndGlyphs">to it.</text>
<text x="323.7" y="228.2" textLength="73.5" lengthAdjust="spacingAndGlyphs">Floor is cedar or</text>
<text x="329.9" y="240.7" textLength="66.1" lengthAdjust="spacingAndGlyphs">balsam boughs</text>
<text x="329.9" y="253.2" textLength="56.1" lengthAdjust="spacingAndGlyphs">covered with</text>
<text x="329.9" y="265.6" textLength="66.1" lengthAdjust="spacingAndGlyphs">rush mats, furs</text>
<text x="329.9" y="278.1" textLength="40.6" lengthAdjust="spacingAndGlyphs">and rugs.</text>
<text x="329.9" y="301.8" textLength="56.1" lengthAdjust="spacingAndGlyphs">swamp moss</text>
<text x="329.9" y="322.8" textLength="16.7" lengthAdjust="spacingAndGlyphs">clay</text>
<text x="407" y="91.2" textLength="60.3" lengthAdjust="spacingAndGlyphs">“Gijikandag”</text>
<text x="420.4" y="103.9" textLength="66.8" lengthAdjust="spacingAndGlyphs">The cedar pole</text>
<text x="420.4" y="115.7" textLength="73" lengthAdjust="spacingAndGlyphs">used to swat out</text>
<text x="420.4" y="127.6" textLength="59.3" lengthAdjust="spacingAndGlyphs">sparks on the</text>
<text x="420.4" y="139.8" textLength="20.7" lengthAdjust="spacingAndGlyphs">roof.</text>
<text x="528.2" y="198.2" textLength="61.5" lengthAdjust="spacingAndGlyphs">“Gijikanatig”</text>
<text x="541.9" y="210.1" textLength="62.8" lengthAdjust="spacingAndGlyphs">The clan pole.</text>
<text x="565.5" y="400.7" textLength="44.2" lengthAdjust="spacingAndGlyphs">Birchbark</text>
<text x="572.5" y="412.7" textLength="34.7" lengthAdjust="spacingAndGlyphs">cylinder</text>
<text x="572.5" y="425.1" textLength="61.6" lengthAdjust="spacingAndGlyphs">for air supply.</text>
<text x="285" y="439.8" textLength="24.2" lengthAdjust="spacingAndGlyphs">rocks</text>
<text x="70.6" y="447.4" textLength="158.9" lengthAdjust="spacingAndGlyphs">Wigwam is 8 to 12 feet in diameter.</text>
<text x="70.6" y="470" textLength="182.2" lengthAdjust="spacingAndGlyphs">Frame is built with 12 to 15 poles 2 feet</text>
<text x="77.3" y="481.6" textLength="175.5" lengthAdjust="spacingAndGlyphs">apart. Maple is used but ironwood is</text>
<text x="77.3" y="493.9" textLength="44.2" lengthAdjust="spacingAndGlyphs">preferred.</text>
<text x="349.1" y="447.4" textLength="181.3" lengthAdjust="spacingAndGlyphs">The fire is built in a recess in the rocks,</text>
<text x="355.7" y="460" textLength="173.3" lengthAdjust="spacingAndGlyphs">which radiate stored heat after the fire</text>
<text x="355.7" y="471.7" textLength="37.9" lengthAdjust="spacingAndGlyphs">dies out.</text>
</g>
</svg>
</body></html>
